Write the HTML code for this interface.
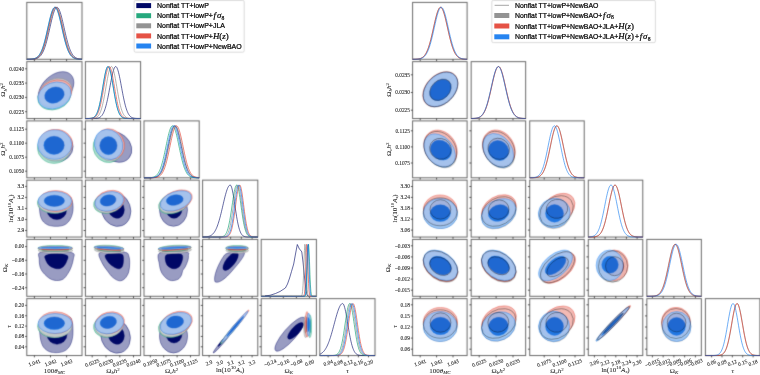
<!DOCTYPE html>
<html><head><meta charset="utf-8"><style>html,body{margin:0;padding:0;background:#fff;}svg{display:block;will-change:transform;}</style></head>
<body><svg xmlns="http://www.w3.org/2000/svg" width="760" height="375" viewBox="0 0 760 375">
<defs><clipPath id="c1"><rect x="26.80" y="2.40" width="55.20" height="56.90"/></clipPath><clipPath id="c2"><rect x="26.80" y="61.65" width="55.20" height="56.90"/></clipPath><clipPath id="c3"><rect x="85.40" y="61.65" width="55.20" height="56.90"/></clipPath><clipPath id="c4"><rect x="26.80" y="120.90" width="55.20" height="56.90"/></clipPath><clipPath id="c5"><rect x="85.40" y="120.90" width="55.20" height="56.90"/></clipPath><clipPath id="c6"><rect x="144.00" y="120.90" width="55.20" height="56.90"/></clipPath><clipPath id="c7"><rect x="26.80" y="180.15" width="55.20" height="56.90"/></clipPath><clipPath id="c8"><rect x="85.40" y="180.15" width="55.20" height="56.90"/></clipPath><clipPath id="c9"><rect x="144.00" y="180.15" width="55.20" height="56.90"/></clipPath><clipPath id="c10"><rect x="202.60" y="180.15" width="55.20" height="56.90"/></clipPath><clipPath id="c11"><rect x="26.80" y="239.40" width="55.20" height="56.90"/></clipPath><clipPath id="c12"><rect x="85.40" y="239.40" width="55.20" height="56.90"/></clipPath><clipPath id="c13"><rect x="144.00" y="239.40" width="55.20" height="56.90"/></clipPath><clipPath id="c14"><rect x="202.60" y="239.40" width="55.20" height="56.90"/></clipPath><clipPath id="c15"><rect x="261.20" y="239.40" width="55.20" height="56.90"/></clipPath><clipPath id="c16"><rect x="26.80" y="298.65" width="55.20" height="56.90"/></clipPath><clipPath id="c17"><rect x="85.40" y="298.65" width="55.20" height="56.90"/></clipPath><clipPath id="c18"><rect x="144.00" y="298.65" width="55.20" height="56.90"/></clipPath><clipPath id="c19"><rect x="202.60" y="298.65" width="55.20" height="56.90"/></clipPath><clipPath id="c20"><rect x="261.20" y="298.65" width="55.20" height="56.90"/></clipPath><clipPath id="c21"><rect x="319.80" y="298.65" width="55.20" height="56.90"/></clipPath><clipPath id="c22"><rect x="412.60" y="2.40" width="54.50" height="56.90"/></clipPath><clipPath id="c23"><rect x="412.60" y="61.65" width="54.50" height="56.90"/></clipPath><clipPath id="c24"><rect x="471.16" y="61.65" width="54.50" height="56.90"/></clipPath><clipPath id="c25"><rect x="412.60" y="120.90" width="54.50" height="56.90"/></clipPath><clipPath id="c26"><rect x="471.16" y="120.90" width="54.50" height="56.90"/></clipPath><clipPath id="c27"><rect x="529.72" y="120.90" width="54.50" height="56.90"/></clipPath><clipPath id="c28"><rect x="412.60" y="180.15" width="54.50" height="56.90"/></clipPath><clipPath id="c29"><rect x="471.16" y="180.15" width="54.50" height="56.90"/></clipPath><clipPath id="c30"><rect x="529.72" y="180.15" width="54.50" height="56.90"/></clipPath><clipPath id="c31"><rect x="588.28" y="180.15" width="54.50" height="56.90"/></clipPath><clipPath id="c32"><rect x="412.60" y="239.40" width="54.50" height="56.90"/></clipPath><clipPath id="c33"><rect x="471.16" y="239.40" width="54.50" height="56.90"/></clipPath><clipPath id="c34"><rect x="529.72" y="239.40" width="54.50" height="56.90"/></clipPath><clipPath id="c35"><rect x="588.28" y="239.40" width="54.50" height="56.90"/></clipPath><clipPath id="c36"><rect x="646.84" y="239.40" width="54.50" height="56.90"/></clipPath><clipPath id="c37"><rect x="412.60" y="298.65" width="54.50" height="56.90"/></clipPath><clipPath id="c38"><rect x="471.16" y="298.65" width="54.50" height="56.90"/></clipPath><clipPath id="c39"><rect x="529.72" y="298.65" width="54.50" height="56.90"/></clipPath><clipPath id="c40"><rect x="588.28" y="298.65" width="54.50" height="56.90"/></clipPath><clipPath id="c41"><rect x="646.84" y="298.65" width="54.50" height="56.90"/></clipPath><clipPath id="c42"><rect x="705.40" y="298.65" width="54.50" height="56.90"/></clipPath><filter id="soft" filterUnits="userSpaceOnUse" x="0" y="0" width="760" height="375" color-interpolation-filters="sRGB"><feConvolveMatrix order="3" kernelMatrix="0.02 0.09 0.02 0.09 0.56 0.09 0.02 0.09 0.02" divisor="1" edgeMode="duplicate"/></filter></defs>
<g filter="url(#soft)">
<rect width="760" height="375" fill="#fff"/>
<g clip-path="url(#c1)"></g><rect x="26.80" y="2.40" width="55.20" height="56.90" fill="none" stroke="#6a6a6a" stroke-width="1.0"/><line x1="34.40" y1="59.30" x2="34.40" y2="61.10" stroke="#222" stroke-width="0.75"/><line x1="50.50" y1="59.30" x2="50.50" y2="61.10" stroke="#222" stroke-width="0.75"/><line x1="66.60" y1="59.30" x2="66.60" y2="61.10" stroke="#222" stroke-width="0.75"/><g clip-path="url(#c2)"><g opacity="1.0"><ellipse cx="56.00" cy="89.50" rx="21.00" ry="14.00" transform="rotate(-45 56.00 89.50)" fill="#999cc2" stroke="#000866" stroke-width="0.4"/><ellipse cx="56.00" cy="92.00" rx="10.00" ry="6.00" transform="rotate(-45 56.00 92.00)" fill="#000866" stroke="#000866" stroke-width="0.4"/></g><g opacity="0.85"><ellipse cx="54.30" cy="96.30" rx="17.00" ry="13.20" transform="rotate(-20 54.30 96.30)" fill="#99d6c2" stroke="#009966" stroke-width="0.4"/><ellipse cx="54.20" cy="95.80" rx="10.00" ry="7.80" transform="rotate(-20 54.20 95.80)" fill="#009966" stroke="#009966" stroke-width="0.4"/></g><g opacity="0.85"><ellipse cx="55.60" cy="92.20" rx="17.30" ry="13.30" transform="rotate(-24 55.60 92.20)" fill="#cccccc" stroke="#808080" stroke-width="0.4"/><ellipse cx="54.80" cy="94.50" rx="10.00" ry="7.80" transform="rotate(-20 54.80 94.50)" fill="#808080" stroke="#808080" stroke-width="0.4"/></g><g opacity="0.85"><ellipse cx="55.10" cy="93.60" rx="17.10" ry="13.10" transform="rotate(-22 55.10 93.60)" fill="#f3aea7" stroke="#e03424" stroke-width="0.4"/><ellipse cx="54.50" cy="95.00" rx="10.00" ry="7.80" transform="rotate(-20 54.50 95.00)" fill="#e03424" stroke="#e03424" stroke-width="0.4"/></g><g opacity="0.85"><ellipse cx="54.50" cy="95.50" rx="17.00" ry="13.00" transform="rotate(-20 54.50 95.50)" fill="#99c5f8" stroke="#006fed" stroke-width="0.4"/><ellipse cx="54.40" cy="95.10" rx="10.00" ry="7.80" transform="rotate(-20 54.40 95.10)" fill="#006fed" stroke="#006fed" stroke-width="0.4"/></g></g><rect x="26.80" y="61.65" width="55.20" height="56.90" fill="none" stroke="#6a6a6a" stroke-width="1.0"/><line x1="34.40" y1="118.55" x2="34.40" y2="120.35" stroke="#222" stroke-width="0.75"/><line x1="50.50" y1="118.55" x2="50.50" y2="120.35" stroke="#222" stroke-width="0.75"/><line x1="66.60" y1="118.55" x2="66.60" y2="120.35" stroke="#222" stroke-width="0.75"/><line x1="25.00" y1="68.80" x2="26.80" y2="68.80" stroke="#222" stroke-width="0.75"/><line x1="25.00" y1="83.10" x2="26.80" y2="83.10" stroke="#222" stroke-width="0.75"/><line x1="25.00" y1="97.40" x2="26.80" y2="97.40" stroke="#222" stroke-width="0.75"/><line x1="25.00" y1="111.70" x2="26.80" y2="111.70" stroke="#222" stroke-width="0.75"/><g clip-path="url(#c3)"></g><rect x="85.40" y="61.65" width="55.20" height="56.90" fill="none" stroke="#6a6a6a" stroke-width="1.0"/><line x1="92.20" y1="118.55" x2="92.20" y2="120.35" stroke="#222" stroke-width="0.75"/><line x1="106.00" y1="118.55" x2="106.00" y2="120.35" stroke="#222" stroke-width="0.75"/><line x1="119.80" y1="118.55" x2="119.80" y2="120.35" stroke="#222" stroke-width="0.75"/><line x1="133.50" y1="118.55" x2="133.50" y2="120.35" stroke="#222" stroke-width="0.75"/><g clip-path="url(#c4)"><g opacity="1.0"><ellipse cx="56.80" cy="146.50" rx="16.30" ry="15.40" fill="#999cc2" stroke="#000866" stroke-width="0.4"/><ellipse cx="56.50" cy="146.00" rx="9.50" ry="9.00" fill="#000866" stroke="#000866" stroke-width="0.4"/></g><g opacity="0.85"><ellipse cx="54.00" cy="147.80" rx="16.60" ry="15.60" fill="#99d6c2" stroke="#009966" stroke-width="0.4"/><ellipse cx="54.00" cy="146.50" rx="10.00" ry="9.00" fill="#009966" stroke="#009966" stroke-width="0.4"/></g><g opacity="0.85"><ellipse cx="55.20" cy="145.80" rx="17.00" ry="15.00" fill="#cccccc" stroke="#808080" stroke-width="0.4"/><ellipse cx="54.50" cy="145.50" rx="10.00" ry="9.00" fill="#808080" stroke="#808080" stroke-width="0.4"/></g><g opacity="0.85"><ellipse cx="55.60" cy="143.80" rx="17.00" ry="14.50" fill="#f3aea7" stroke="#e03424" stroke-width="0.4"/><ellipse cx="54.50" cy="145.00" rx="10.00" ry="9.00" fill="#e03424" stroke="#e03424" stroke-width="0.4"/></g><g opacity="0.85"><ellipse cx="54.70" cy="144.60" rx="17.10" ry="14.70" fill="#99c5f8" stroke="#006fed" stroke-width="0.4"/><ellipse cx="54.00" cy="145.30" rx="10.20" ry="9.10" fill="#006fed" stroke="#006fed" stroke-width="0.4"/></g></g><rect x="26.80" y="120.90" width="55.20" height="56.90" fill="none" stroke="#6a6a6a" stroke-width="1.0"/><line x1="34.40" y1="177.80" x2="34.40" y2="179.60" stroke="#222" stroke-width="0.75"/><line x1="50.50" y1="177.80" x2="50.50" y2="179.60" stroke="#222" stroke-width="0.75"/><line x1="66.60" y1="177.80" x2="66.60" y2="179.60" stroke="#222" stroke-width="0.75"/><line x1="25.00" y1="129.20" x2="26.80" y2="129.20" stroke="#222" stroke-width="0.75"/><line x1="25.00" y1="143.20" x2="26.80" y2="143.20" stroke="#222" stroke-width="0.75"/><line x1="25.00" y1="157.20" x2="26.80" y2="157.20" stroke="#222" stroke-width="0.75"/><line x1="25.00" y1="171.20" x2="26.80" y2="171.20" stroke="#222" stroke-width="0.75"/><g clip-path="url(#c5)"><g opacity="1.0"><ellipse cx="116.00" cy="147.00" rx="17.00" ry="14.00" transform="rotate(40 116.00 147.00)" fill="#999cc2" stroke="#000866" stroke-width="0.4"/><ellipse cx="113.00" cy="147.00" rx="9.00" ry="6.00" transform="rotate(40 113.00 147.00)" fill="#000866" stroke="#000866" stroke-width="0.4"/></g><g opacity="0.85"><ellipse cx="107.80" cy="147.30" rx="15.50" ry="14.50" transform="rotate(60 107.80 147.30)" fill="#99d6c2" stroke="#009966" stroke-width="0.4"/><ellipse cx="108.00" cy="146.50" rx="9.00" ry="8.50" fill="#009966" stroke="#009966" stroke-width="0.4"/></g><g opacity="0.85"><ellipse cx="109.50" cy="145.80" rx="15.50" ry="14.00" transform="rotate(60 109.50 145.80)" fill="#cccccc" stroke="#808080" stroke-width="0.4"/><ellipse cx="108.50" cy="146.00" rx="9.00" ry="8.50" fill="#808080" stroke="#808080" stroke-width="0.4"/></g><g opacity="0.85"><ellipse cx="110.20" cy="144.00" rx="15.80" ry="13.80" transform="rotate(60 110.20 144.00)" fill="#f3aea7" stroke="#e03424" stroke-width="0.4"/><ellipse cx="108.50" cy="145.50" rx="9.00" ry="8.50" fill="#e03424" stroke="#e03424" stroke-width="0.4"/></g><g opacity="0.85"><ellipse cx="108.60" cy="144.50" rx="15.50" ry="13.80" transform="rotate(60 108.60 144.50)" fill="#99c5f8" stroke="#006fed" stroke-width="0.4"/><ellipse cx="108.40" cy="145.60" rx="8.60" ry="9.10" fill="#006fed" stroke="#006fed" stroke-width="0.4"/></g></g><rect x="85.40" y="120.90" width="55.20" height="56.90" fill="none" stroke="#6a6a6a" stroke-width="1.0"/><line x1="92.20" y1="177.80" x2="92.20" y2="179.60" stroke="#222" stroke-width="0.75"/><line x1="106.00" y1="177.80" x2="106.00" y2="179.60" stroke="#222" stroke-width="0.75"/><line x1="119.80" y1="177.80" x2="119.80" y2="179.60" stroke="#222" stroke-width="0.75"/><line x1="133.50" y1="177.80" x2="133.50" y2="179.60" stroke="#222" stroke-width="0.75"/><line x1="83.60" y1="129.20" x2="85.40" y2="129.20" stroke="#222" stroke-width="0.75"/><line x1="83.60" y1="143.20" x2="85.40" y2="143.20" stroke="#222" stroke-width="0.75"/><line x1="83.60" y1="157.20" x2="85.40" y2="157.20" stroke="#222" stroke-width="0.75"/><line x1="83.60" y1="171.20" x2="85.40" y2="171.20" stroke="#222" stroke-width="0.75"/><g clip-path="url(#c6)"></g><rect x="144.00" y="120.90" width="55.20" height="56.90" fill="none" stroke="#6a6a6a" stroke-width="1.0"/><line x1="150.30" y1="177.80" x2="150.30" y2="179.60" stroke="#222" stroke-width="0.75"/><line x1="163.70" y1="177.80" x2="163.70" y2="179.60" stroke="#222" stroke-width="0.75"/><line x1="177.10" y1="177.80" x2="177.10" y2="179.60" stroke="#222" stroke-width="0.75"/><line x1="190.50" y1="177.80" x2="190.50" y2="179.60" stroke="#222" stroke-width="0.75"/><g clip-path="url(#c7)"><g opacity="1.0"><path d="M39.40 204.00 C38.83 206.08 39.40 207.92 39.60 210.00 C39.80 212.08 39.93 214.50 40.60 216.50 C41.27 218.50 42.10 220.48 43.60 222.00 C45.10 223.52 47.20 224.88 49.60 225.60 C52.00 226.32 55.40 226.48 58.00 226.30 C60.60 226.12 63.20 225.62 65.20 224.50 C67.20 223.38 68.80 221.42 70.00 219.60 C71.20 217.78 71.88 215.60 72.40 213.60 C72.92 211.60 73.12 209.70 73.10 207.60 C73.08 205.50 72.98 202.85 72.30 201.00 C71.62 199.15 71.72 197.58 69.00 196.50 C66.28 195.42 60.33 194.33 56.00 194.50 C51.67 194.67 45.77 195.92 43.00 197.50 C40.23 199.08 39.97 201.92 39.40 204.00 Z" fill="#999cc2" stroke="#000866" stroke-width="0.4"/><ellipse cx="56.80" cy="210.00" rx="9.80" ry="9.60" fill="#000866" stroke="#000866" stroke-width="0.4"/></g><g opacity="0.85"><ellipse cx="54.30" cy="203.00" rx="17.00" ry="10.50" fill="#99d6c2" stroke="#009966" stroke-width="0.4"/><ellipse cx="54.30" cy="201.50" rx="10.00" ry="5.60" fill="#009966" stroke="#009966" stroke-width="0.4"/></g><g opacity="0.85"><ellipse cx="55.00" cy="202.60" rx="17.00" ry="10.60" fill="#cccccc" stroke="#808080" stroke-width="0.4"/><ellipse cx="54.50" cy="201.50" rx="10.00" ry="5.60" fill="#808080" stroke="#808080" stroke-width="0.4"/></g><g opacity="0.85"><ellipse cx="55.60" cy="201.00" rx="16.80" ry="10.50" fill="#f3aea7" stroke="#e03424" stroke-width="0.4"/><ellipse cx="54.50" cy="200.80" rx="10.00" ry="5.60" fill="#e03424" stroke="#e03424" stroke-width="0.4"/></g><g opacity="0.85"><ellipse cx="54.80" cy="201.00" rx="16.80" ry="9.60" fill="#99c5f8" stroke="#006fed" stroke-width="0.4"/><ellipse cx="54.30" cy="200.80" rx="10.20" ry="5.60" fill="#006fed" stroke="#006fed" stroke-width="0.4"/></g></g><rect x="26.80" y="180.15" width="55.20" height="56.90" fill="none" stroke="#6a6a6a" stroke-width="1.0"/><line x1="34.40" y1="237.05" x2="34.40" y2="238.85" stroke="#222" stroke-width="0.75"/><line x1="50.50" y1="237.05" x2="50.50" y2="238.85" stroke="#222" stroke-width="0.75"/><line x1="66.60" y1="237.05" x2="66.60" y2="238.85" stroke="#222" stroke-width="0.75"/><line x1="25.00" y1="186.40" x2="26.80" y2="186.40" stroke="#222" stroke-width="0.75"/><line x1="25.00" y1="197.40" x2="26.80" y2="197.40" stroke="#222" stroke-width="0.75"/><line x1="25.00" y1="208.50" x2="26.80" y2="208.50" stroke="#222" stroke-width="0.75"/><line x1="25.00" y1="219.50" x2="26.80" y2="219.50" stroke="#222" stroke-width="0.75"/><line x1="25.00" y1="230.50" x2="26.80" y2="230.50" stroke="#222" stroke-width="0.75"/><g clip-path="url(#c8)"><g opacity="1.0"><ellipse cx="116.00" cy="209.50" rx="14.50" ry="17.20" transform="rotate(-20 116.00 209.50)" fill="#999cc2" stroke="#000866" stroke-width="0.4"/><ellipse cx="116.00" cy="208.50" rx="8.00" ry="10.00" transform="rotate(-20 116.00 208.50)" fill="#000866" stroke="#000866" stroke-width="0.4"/></g><g opacity="0.85"><ellipse cx="108.00" cy="203.00" rx="14.60" ry="10.20" transform="rotate(-13 108.00 203.00)" fill="#99d6c2" stroke="#009966" stroke-width="0.4"/><ellipse cx="108.00" cy="201.50" rx="8.00" ry="5.50" transform="rotate(-13 108.00 201.50)" fill="#009966" stroke="#009966" stroke-width="0.4"/></g><g opacity="0.85"><ellipse cx="109.20" cy="202.80" rx="14.60" ry="10.00" transform="rotate(-13 109.20 202.80)" fill="#cccccc" stroke="#808080" stroke-width="0.4"/><ellipse cx="108.00" cy="201.00" rx="8.00" ry="5.50" transform="rotate(-13 108.00 201.00)" fill="#808080" stroke="#808080" stroke-width="0.4"/></g><g opacity="0.85"><ellipse cx="109.80" cy="200.80" rx="14.80" ry="10.20" transform="rotate(-13 109.80 200.80)" fill="#f3aea7" stroke="#e03424" stroke-width="0.4"/><ellipse cx="108.50" cy="200.50" rx="8.00" ry="5.50" transform="rotate(-13 108.50 200.50)" fill="#e03424" stroke="#e03424" stroke-width="0.4"/></g><g opacity="0.85"><ellipse cx="109.20" cy="201.40" rx="14.50" ry="9.50" transform="rotate(-13 109.20 201.40)" fill="#99c5f8" stroke="#006fed" stroke-width="0.4"/><ellipse cx="108.00" cy="200.40" rx="8.00" ry="5.50" transform="rotate(-13 108.00 200.40)" fill="#006fed" stroke="#006fed" stroke-width="0.4"/></g></g><rect x="85.40" y="180.15" width="55.20" height="56.90" fill="none" stroke="#6a6a6a" stroke-width="1.0"/><line x1="92.20" y1="237.05" x2="92.20" y2="238.85" stroke="#222" stroke-width="0.75"/><line x1="106.00" y1="237.05" x2="106.00" y2="238.85" stroke="#222" stroke-width="0.75"/><line x1="119.80" y1="237.05" x2="119.80" y2="238.85" stroke="#222" stroke-width="0.75"/><line x1="133.50" y1="237.05" x2="133.50" y2="238.85" stroke="#222" stroke-width="0.75"/><line x1="83.60" y1="186.40" x2="85.40" y2="186.40" stroke="#222" stroke-width="0.75"/><line x1="83.60" y1="197.40" x2="85.40" y2="197.40" stroke="#222" stroke-width="0.75"/><line x1="83.60" y1="208.50" x2="85.40" y2="208.50" stroke="#222" stroke-width="0.75"/><line x1="83.60" y1="219.50" x2="85.40" y2="219.50" stroke="#222" stroke-width="0.75"/><line x1="83.60" y1="230.50" x2="85.40" y2="230.50" stroke="#222" stroke-width="0.75"/><g clip-path="url(#c9)"><g opacity="1.0"><ellipse cx="173.50" cy="210.00" rx="14.00" ry="16.30" fill="#999cc2" stroke="#000866" stroke-width="0.4"/><ellipse cx="174.00" cy="209.00" rx="8.00" ry="9.30" fill="#000866" stroke="#000866" stroke-width="0.4"/></g><g opacity="0.85"><ellipse cx="174.00" cy="203.20" rx="16.00" ry="10.00" transform="rotate(-20 174.00 203.20)" fill="#99d6c2" stroke="#009966" stroke-width="0.4"/><ellipse cx="174.50" cy="201.00" rx="8.50" ry="5.20" transform="rotate(-10 174.50 201.00)" fill="#009966" stroke="#009966" stroke-width="0.4"/></g><g opacity="0.85"><ellipse cx="175.00" cy="202.50" rx="16.20" ry="9.80" transform="rotate(-20 175.00 202.50)" fill="#cccccc" stroke="#808080" stroke-width="0.4"/><ellipse cx="174.70" cy="200.50" rx="8.50" ry="5.20" transform="rotate(-10 174.70 200.50)" fill="#808080" stroke="#808080" stroke-width="0.4"/></g><g opacity="0.85"><ellipse cx="176.60" cy="200.50" rx="16.30" ry="9.60" transform="rotate(-20 176.60 200.50)" fill="#f3aea7" stroke="#e03424" stroke-width="0.4"/><ellipse cx="175.00" cy="200.00" rx="8.50" ry="5.20" transform="rotate(-10 175.00 200.00)" fill="#e03424" stroke="#e03424" stroke-width="0.4"/></g><g opacity="0.85"><ellipse cx="175.80" cy="200.90" rx="16.20" ry="9.10" transform="rotate(-20 175.80 200.90)" fill="#99c5f8" stroke="#006fed" stroke-width="0.4"/><ellipse cx="174.70" cy="200.00" rx="8.50" ry="5.20" transform="rotate(-10 174.70 200.00)" fill="#006fed" stroke="#006fed" stroke-width="0.4"/></g></g><rect x="144.00" y="180.15" width="55.20" height="56.90" fill="none" stroke="#6a6a6a" stroke-width="1.0"/><line x1="150.30" y1="237.05" x2="150.30" y2="238.85" stroke="#222" stroke-width="0.75"/><line x1="163.70" y1="237.05" x2="163.70" y2="238.85" stroke="#222" stroke-width="0.75"/><line x1="177.10" y1="237.05" x2="177.10" y2="238.85" stroke="#222" stroke-width="0.75"/><line x1="190.50" y1="237.05" x2="190.50" y2="238.85" stroke="#222" stroke-width="0.75"/><line x1="142.20" y1="186.40" x2="144.00" y2="186.40" stroke="#222" stroke-width="0.75"/><line x1="142.20" y1="197.40" x2="144.00" y2="197.40" stroke="#222" stroke-width="0.75"/><line x1="142.20" y1="208.50" x2="144.00" y2="208.50" stroke="#222" stroke-width="0.75"/><line x1="142.20" y1="219.50" x2="144.00" y2="219.50" stroke="#222" stroke-width="0.75"/><line x1="142.20" y1="230.50" x2="144.00" y2="230.50" stroke="#222" stroke-width="0.75"/><g clip-path="url(#c10)"></g><rect x="202.60" y="180.15" width="55.20" height="56.90" fill="none" stroke="#6a6a6a" stroke-width="1.0"/><line x1="209.10" y1="237.05" x2="209.10" y2="238.85" stroke="#222" stroke-width="0.75"/><line x1="219.85" y1="237.05" x2="219.85" y2="238.85" stroke="#222" stroke-width="0.75"/><line x1="230.60" y1="237.05" x2="230.60" y2="238.85" stroke="#222" stroke-width="0.75"/><line x1="241.35" y1="237.05" x2="241.35" y2="238.85" stroke="#222" stroke-width="0.75"/><line x1="252.10" y1="237.05" x2="252.10" y2="238.85" stroke="#222" stroke-width="0.75"/><g clip-path="url(#c11)"><g opacity="1.0"><path d="M40.00 252.50 C42.88 251.20 51.05 251.12 56.50 251.20 C61.95 251.28 69.88 251.75 72.70 253.00 C75.52 254.25 73.63 256.42 73.40 258.70 C73.17 260.98 72.20 264.27 71.30 266.70 C70.40 269.13 69.33 271.25 68.00 273.30 C66.67 275.35 65.18 277.80 63.30 279.00 C61.42 280.20 58.92 280.55 56.70 280.50 C54.48 280.45 52.23 280.00 50.00 278.70 C47.77 277.40 44.97 274.70 43.30 272.70 C41.63 270.70 40.68 268.98 40.00 266.70 C39.32 264.42 39.20 261.37 39.20 259.00 C39.20 256.63 37.12 253.80 40.00 252.50 Z" fill="#999cc2" stroke="#000866" stroke-width="0.4"/><path d="M45.60 255.50 C47.35 254.52 52.38 253.58 56.00 253.60 C59.62 253.62 65.52 254.32 67.30 255.60 C69.08 256.88 67.37 259.45 66.70 261.30 C66.03 263.15 64.70 265.45 63.30 266.70 C61.90 267.95 60.10 268.67 58.30 268.80 C56.50 268.93 54.13 268.17 52.50 267.50 C50.87 266.83 49.67 266.13 48.50 264.80 C47.33 263.47 45.98 261.05 45.50 259.50 C45.02 257.95 43.85 256.48 45.60 255.50 Z" fill="#000866" stroke="#000866" stroke-width="0.4"/></g><g opacity="0.85"><ellipse cx="55.50" cy="250.50" rx="17.40" ry="2.90" fill="#cccccc" stroke="#808080" stroke-width="0.4"/><ellipse cx="55.50" cy="250.90" rx="13.76" ry="0.70" fill="#808080" stroke="#808080" stroke-width="0.4"/></g><g opacity="0.85"><ellipse cx="55.20" cy="248.30" rx="17.50" ry="3.00" fill="#99d6c2" stroke="#009966" stroke-width="0.4"/><ellipse cx="55.20" cy="248.80" rx="13.76" ry="0.70" fill="#009966" stroke="#009966" stroke-width="0.4"/></g><g opacity="0.85"><ellipse cx="55.30" cy="248.30" rx="17.20" ry="2.00" fill="#f3aea7" stroke="#e03424" stroke-width="0.4"/><ellipse cx="55.30" cy="249.40" rx="13.76" ry="0.50" fill="#e03424" stroke="#e03424" stroke-width="0.4"/></g><g opacity="0.85"><ellipse cx="55.10" cy="247.90" rx="17.00" ry="1.30" fill="#99c5f8" stroke="#006fed" stroke-width="0.4"/><ellipse cx="55.10" cy="247.80" rx="13.76" ry="0.45" fill="#006fed" stroke="#006fed" stroke-width="0.4"/></g></g><rect x="26.80" y="239.40" width="55.20" height="56.90" fill="none" stroke="#6a6a6a" stroke-width="1.0"/><line x1="34.40" y1="296.30" x2="34.40" y2="298.10" stroke="#222" stroke-width="0.75"/><line x1="50.50" y1="296.30" x2="50.50" y2="298.10" stroke="#222" stroke-width="0.75"/><line x1="66.60" y1="296.30" x2="66.60" y2="298.10" stroke="#222" stroke-width="0.75"/><line x1="25.00" y1="246.60" x2="26.80" y2="246.60" stroke="#222" stroke-width="0.75"/><line x1="25.00" y1="260.30" x2="26.80" y2="260.30" stroke="#222" stroke-width="0.75"/><line x1="25.00" y1="274.00" x2="26.80" y2="274.00" stroke="#222" stroke-width="0.75"/><line x1="25.00" y1="287.70" x2="26.80" y2="287.70" stroke="#222" stroke-width="0.75"/><g clip-path="url(#c12)"><g opacity="1.0"><path d="M99.40 253.00 C101.23 251.10 108.57 251.38 113.00 251.30 C117.43 251.22 123.37 251.72 126.00 252.50 C128.63 253.28 128.18 254.30 128.80 256.00 C129.42 257.70 129.72 260.03 129.70 262.70 C129.68 265.37 129.53 269.33 128.70 272.00 C127.87 274.67 126.27 277.23 124.70 278.70 C123.13 280.17 121.30 281.03 119.30 280.80 C117.30 280.57 114.70 278.98 112.70 277.30 C110.70 275.62 109.08 273.13 107.30 270.70 C105.52 268.27 103.32 265.65 102.00 262.70 C100.68 259.75 97.57 254.90 99.40 253.00 Z" fill="#999cc2" stroke="#000866" stroke-width="0.4"/><path d="M105.40 255.00 C106.45 253.93 110.35 253.77 113.00 253.60 C115.65 253.43 119.58 253.52 121.30 254.00 C123.02 254.48 122.97 255.05 123.30 256.50 C123.63 257.95 123.55 260.90 123.30 262.70 C123.05 264.50 122.68 266.28 121.80 267.30 C120.92 268.32 119.75 269.13 118.00 268.80 C116.25 268.47 113.18 266.77 111.30 265.30 C109.42 263.83 107.68 261.72 106.70 260.00 C105.72 258.28 104.35 256.07 105.40 255.00 Z" fill="#000866" stroke="#000866" stroke-width="0.4"/></g><g opacity="0.85"><ellipse cx="109.30" cy="250.50" rx="15.00" ry="2.90" transform="rotate(3 109.30 250.50)" fill="#cccccc" stroke="#808080" stroke-width="0.4"/><ellipse cx="109.30" cy="250.90" rx="11.84" ry="0.70" transform="rotate(3 109.30 250.90)" fill="#808080" stroke="#808080" stroke-width="0.4"/></g><g opacity="0.85"><ellipse cx="109.00" cy="248.30" rx="15.10" ry="3.00" transform="rotate(3 109.00 248.30)" fill="#99d6c2" stroke="#009966" stroke-width="0.4"/><ellipse cx="109.00" cy="248.80" rx="11.84" ry="0.70" transform="rotate(3 109.00 248.80)" fill="#009966" stroke="#009966" stroke-width="0.4"/></g><g opacity="0.85"><ellipse cx="109.10" cy="248.30" rx="14.80" ry="2.00" transform="rotate(3 109.10 248.30)" fill="#f3aea7" stroke="#e03424" stroke-width="0.4"/><ellipse cx="109.10" cy="249.40" rx="11.84" ry="0.50" transform="rotate(3 109.10 249.40)" fill="#e03424" stroke="#e03424" stroke-width="0.4"/></g><g opacity="0.85"><ellipse cx="108.90" cy="247.90" rx="14.60" ry="1.30" transform="rotate(3 108.90 247.90)" fill="#99c5f8" stroke="#006fed" stroke-width="0.4"/><ellipse cx="108.90" cy="247.80" rx="11.84" ry="0.45" transform="rotate(3 108.90 247.80)" fill="#006fed" stroke="#006fed" stroke-width="0.4"/></g></g><rect x="85.40" y="239.40" width="55.20" height="56.90" fill="none" stroke="#6a6a6a" stroke-width="1.0"/><line x1="92.20" y1="296.30" x2="92.20" y2="298.10" stroke="#222" stroke-width="0.75"/><line x1="106.00" y1="296.30" x2="106.00" y2="298.10" stroke="#222" stroke-width="0.75"/><line x1="119.80" y1="296.30" x2="119.80" y2="298.10" stroke="#222" stroke-width="0.75"/><line x1="133.50" y1="296.30" x2="133.50" y2="298.10" stroke="#222" stroke-width="0.75"/><line x1="83.60" y1="246.60" x2="85.40" y2="246.60" stroke="#222" stroke-width="0.75"/><line x1="83.60" y1="260.30" x2="85.40" y2="260.30" stroke="#222" stroke-width="0.75"/><line x1="83.60" y1="274.00" x2="85.40" y2="274.00" stroke="#222" stroke-width="0.75"/><line x1="83.60" y1="287.70" x2="85.40" y2="287.70" stroke="#222" stroke-width="0.75"/><g clip-path="url(#c13)"><g opacity="1.0"><path d="M159.00 253.50 C161.28 251.38 168.28 251.52 173.00 251.30 C177.72 251.08 184.73 251.50 187.30 252.20 C189.87 252.90 188.28 254.20 188.40 255.50 C188.52 256.80 188.52 258.13 188.00 260.00 C187.48 261.87 186.18 264.95 185.30 266.70 C184.42 268.45 183.33 269.12 182.70 270.50 C182.07 271.88 182.28 273.53 181.50 275.00 C180.72 276.47 179.70 278.37 178.00 279.30 C176.30 280.23 173.30 280.82 171.30 280.60 C169.30 280.38 167.67 279.43 166.00 278.00 C164.33 276.57 162.42 274.33 161.30 272.00 C160.18 269.67 159.68 267.08 159.30 264.00 C158.92 260.92 156.72 255.62 159.00 253.50 Z" fill="#999cc2" stroke="#000866" stroke-width="0.4"/><path d="M165.70 255.50 C166.87 254.02 170.50 254.05 173.00 253.80 C175.50 253.55 179.08 253.55 180.70 254.00 C182.32 254.45 182.48 255.28 182.70 256.50 C182.92 257.72 182.57 259.60 182.00 261.30 C181.43 263.00 180.63 265.45 179.30 266.70 C177.97 267.95 175.77 268.80 174.00 268.80 C172.23 268.80 170.03 267.72 168.70 266.70 C167.37 265.68 166.50 264.57 166.00 262.70 C165.50 260.83 164.53 256.98 165.70 255.50 Z" fill="#000866" stroke="#000866" stroke-width="0.4"/></g><g opacity="0.85"><ellipse cx="175.00" cy="250.50" rx="16.60" ry="2.90" transform="rotate(-3 175.00 250.50)" fill="#cccccc" stroke="#808080" stroke-width="0.4"/><ellipse cx="175.00" cy="250.90" rx="13.12" ry="0.70" transform="rotate(-3 175.00 250.90)" fill="#808080" stroke="#808080" stroke-width="0.4"/></g><g opacity="0.85"><ellipse cx="174.70" cy="248.30" rx="16.70" ry="3.00" transform="rotate(-3 174.70 248.30)" fill="#99d6c2" stroke="#009966" stroke-width="0.4"/><ellipse cx="174.70" cy="248.80" rx="13.12" ry="0.70" transform="rotate(-3 174.70 248.80)" fill="#009966" stroke="#009966" stroke-width="0.4"/></g><g opacity="0.85"><ellipse cx="174.80" cy="248.30" rx="16.40" ry="2.00" transform="rotate(-3 174.80 248.30)" fill="#f3aea7" stroke="#e03424" stroke-width="0.4"/><ellipse cx="174.80" cy="249.40" rx="13.12" ry="0.50" transform="rotate(-3 174.80 249.40)" fill="#e03424" stroke="#e03424" stroke-width="0.4"/></g><g opacity="0.85"><ellipse cx="174.60" cy="247.90" rx="16.20" ry="1.30" transform="rotate(-3 174.60 247.90)" fill="#99c5f8" stroke="#006fed" stroke-width="0.4"/><ellipse cx="174.60" cy="247.80" rx="13.12" ry="0.45" transform="rotate(-3 174.60 247.80)" fill="#006fed" stroke="#006fed" stroke-width="0.4"/></g></g><rect x="144.00" y="239.40" width="55.20" height="56.90" fill="none" stroke="#6a6a6a" stroke-width="1.0"/><line x1="150.30" y1="296.30" x2="150.30" y2="298.10" stroke="#222" stroke-width="0.75"/><line x1="163.70" y1="296.30" x2="163.70" y2="298.10" stroke="#222" stroke-width="0.75"/><line x1="177.10" y1="296.30" x2="177.10" y2="298.10" stroke="#222" stroke-width="0.75"/><line x1="190.50" y1="296.30" x2="190.50" y2="298.10" stroke="#222" stroke-width="0.75"/><line x1="142.20" y1="246.60" x2="144.00" y2="246.60" stroke="#222" stroke-width="0.75"/><line x1="142.20" y1="260.30" x2="144.00" y2="260.30" stroke="#222" stroke-width="0.75"/><line x1="142.20" y1="274.00" x2="144.00" y2="274.00" stroke="#222" stroke-width="0.75"/><line x1="142.20" y1="287.70" x2="144.00" y2="287.70" stroke="#222" stroke-width="0.75"/><g clip-path="url(#c14)"><g opacity="1.0"><path d="M215 281.8 C213 277 218 264 224.5 255 C227 251.8 240 251.2 244 252.2 C246.2 254 240 262 232 271 C226 278 219 284 215 281.8 Z" fill="#999cc2" stroke="#000866" stroke-width="0.4"/><ellipse cx="230.60" cy="261.30" rx="11.00" ry="4.50" transform="rotate(-52 230.60 261.30)" fill="#000866" stroke="#000866" stroke-width="0.4"/></g><g opacity="0.85"><ellipse cx="237.30" cy="250.50" rx="11.40" ry="2.90" fill="#cccccc" stroke="#808080" stroke-width="0.4"/><ellipse cx="237.30" cy="250.90" rx="8.96" ry="0.70" fill="#808080" stroke="#808080" stroke-width="0.4"/></g><g opacity="0.85"><ellipse cx="237.00" cy="248.30" rx="11.50" ry="3.00" fill="#99d6c2" stroke="#009966" stroke-width="0.4"/><ellipse cx="237.00" cy="248.80" rx="8.96" ry="0.70" fill="#009966" stroke="#009966" stroke-width="0.4"/></g><g opacity="0.85"><ellipse cx="237.10" cy="248.30" rx="11.20" ry="2.00" fill="#f3aea7" stroke="#e03424" stroke-width="0.4"/><ellipse cx="237.10" cy="249.40" rx="8.96" ry="0.50" fill="#e03424" stroke="#e03424" stroke-width="0.4"/></g><g opacity="0.85"><ellipse cx="236.90" cy="247.90" rx="11.00" ry="1.30" fill="#99c5f8" stroke="#006fed" stroke-width="0.4"/><ellipse cx="236.90" cy="247.80" rx="8.96" ry="0.45" fill="#006fed" stroke="#006fed" stroke-width="0.4"/></g></g><rect x="202.60" y="239.40" width="55.20" height="56.90" fill="none" stroke="#6a6a6a" stroke-width="1.0"/><line x1="209.10" y1="296.30" x2="209.10" y2="298.10" stroke="#222" stroke-width="0.75"/><line x1="219.85" y1="296.30" x2="219.85" y2="298.10" stroke="#222" stroke-width="0.75"/><line x1="230.60" y1="296.30" x2="230.60" y2="298.10" stroke="#222" stroke-width="0.75"/><line x1="241.35" y1="296.30" x2="241.35" y2="298.10" stroke="#222" stroke-width="0.75"/><line x1="252.10" y1="296.30" x2="252.10" y2="298.10" stroke="#222" stroke-width="0.75"/><line x1="200.80" y1="246.60" x2="202.60" y2="246.60" stroke="#222" stroke-width="0.75"/><line x1="200.80" y1="260.30" x2="202.60" y2="260.30" stroke="#222" stroke-width="0.75"/><line x1="200.80" y1="274.00" x2="202.60" y2="274.00" stroke="#222" stroke-width="0.75"/><line x1="200.80" y1="287.70" x2="202.60" y2="287.70" stroke="#222" stroke-width="0.75"/><g clip-path="url(#c15)"></g><rect x="261.20" y="239.40" width="55.20" height="56.90" fill="none" stroke="#6a6a6a" stroke-width="1.0"/><line x1="270.20" y1="296.30" x2="270.20" y2="298.10" stroke="#222" stroke-width="0.75"/><line x1="283.30" y1="296.30" x2="283.30" y2="298.10" stroke="#222" stroke-width="0.75"/><line x1="296.40" y1="296.30" x2="296.40" y2="298.10" stroke="#222" stroke-width="0.75"/><line x1="309.50" y1="296.30" x2="309.50" y2="298.10" stroke="#222" stroke-width="0.75"/><g clip-path="url(#c16)"><g opacity="1.0"><path d="M39.50 324.00 C38.95 326.50 39.48 329.25 39.70 332.00 C39.92 334.75 40.12 337.92 40.80 340.50 C41.48 343.08 42.30 345.62 43.80 347.50 C45.30 349.38 47.43 350.95 49.80 351.80 C52.17 352.65 55.43 352.80 58.00 352.60 C60.57 352.40 63.20 351.78 65.20 350.60 C67.20 349.42 68.80 347.52 70.00 345.50 C71.20 343.48 71.90 340.92 72.40 338.50 C72.90 336.08 73.02 333.75 73.00 331.00 C72.98 328.25 72.97 324.42 72.30 322.00 C71.63 319.58 71.72 317.83 69.00 316.50 C66.28 315.17 60.33 313.92 56.00 314.00 C51.67 314.08 45.75 315.33 43.00 317.00 C40.25 318.67 40.05 321.50 39.50 324.00 Z" fill="#999cc2" stroke="#000866" stroke-width="0.4"/><ellipse cx="57.00" cy="334.30" rx="10.00" ry="10.00" fill="#000866" stroke="#000866" stroke-width="0.4"/></g><g opacity="0.85"><ellipse cx="54.50" cy="326.30" rx="17.00" ry="11.60" fill="#99d6c2" stroke="#009966" stroke-width="0.4"/><ellipse cx="54.30" cy="323.50" rx="10.00" ry="6.20" fill="#009966" stroke="#009966" stroke-width="0.4"/></g><g opacity="0.85"><ellipse cx="55.20" cy="325.80" rx="17.00" ry="11.60" fill="#cccccc" stroke="#808080" stroke-width="0.4"/><ellipse cx="54.50" cy="323.00" rx="10.00" ry="6.20" fill="#808080" stroke="#808080" stroke-width="0.4"/></g><g opacity="0.85"><ellipse cx="55.60" cy="322.60" rx="16.80" ry="10.90" fill="#f3aea7" stroke="#e03424" stroke-width="0.4"/><ellipse cx="54.50" cy="322.70" rx="10.00" ry="6.20" fill="#e03424" stroke="#e03424" stroke-width="0.4"/></g><g opacity="0.85"><ellipse cx="55.00" cy="323.50" rx="17.00" ry="10.00" fill="#99c5f8" stroke="#006fed" stroke-width="0.4"/><ellipse cx="54.30" cy="323.30" rx="10.30" ry="6.30" fill="#006fed" stroke="#006fed" stroke-width="0.4"/></g></g><rect x="26.80" y="298.65" width="55.20" height="56.90" fill="none" stroke="#6a6a6a" stroke-width="1.0"/><line x1="34.40" y1="355.55" x2="34.40" y2="357.35" stroke="#222" stroke-width="0.75"/><line x1="50.50" y1="355.55" x2="50.50" y2="357.35" stroke="#222" stroke-width="0.75"/><line x1="66.60" y1="355.55" x2="66.60" y2="357.35" stroke="#222" stroke-width="0.75"/><line x1="25.00" y1="305.40" x2="26.80" y2="305.40" stroke="#222" stroke-width="0.75"/><line x1="25.00" y1="315.75" x2="26.80" y2="315.75" stroke="#222" stroke-width="0.75"/><line x1="25.00" y1="326.10" x2="26.80" y2="326.10" stroke="#222" stroke-width="0.75"/><line x1="25.00" y1="336.45" x2="26.80" y2="336.45" stroke="#222" stroke-width="0.75"/><line x1="25.00" y1="346.80" x2="26.80" y2="346.80" stroke="#222" stroke-width="0.75"/><g clip-path="url(#c17)"><g opacity="1.0"><ellipse cx="115.50" cy="336.00" rx="14.50" ry="17.50" transform="rotate(-20 115.50 336.00)" fill="#999cc2" stroke="#000866" stroke-width="0.4"/><ellipse cx="116.00" cy="334.50" rx="8.00" ry="10.00" transform="rotate(-20 116.00 334.50)" fill="#000866" stroke="#000866" stroke-width="0.4"/></g><g opacity="0.85"><ellipse cx="108.00" cy="325.80" rx="14.60" ry="11.40" transform="rotate(-13 108.00 325.80)" fill="#99d6c2" stroke="#009966" stroke-width="0.4"/><ellipse cx="108.00" cy="323.50" rx="8.00" ry="6.00" transform="rotate(-13 108.00 323.50)" fill="#009966" stroke="#009966" stroke-width="0.4"/></g><g opacity="0.85"><ellipse cx="109.20" cy="325.30" rx="14.60" ry="11.40" transform="rotate(-13 109.20 325.30)" fill="#cccccc" stroke="#808080" stroke-width="0.4"/><ellipse cx="108.00" cy="323.00" rx="8.00" ry="6.00" transform="rotate(-13 108.00 323.00)" fill="#808080" stroke="#808080" stroke-width="0.4"/></g><g opacity="0.85"><ellipse cx="109.80" cy="322.80" rx="14.80" ry="10.80" transform="rotate(-13 109.80 322.80)" fill="#f3aea7" stroke="#e03424" stroke-width="0.4"/><ellipse cx="108.50" cy="322.50" rx="8.00" ry="6.00" transform="rotate(-13 108.50 322.50)" fill="#e03424" stroke="#e03424" stroke-width="0.4"/></g><g opacity="0.85"><ellipse cx="109.30" cy="323.40" rx="14.50" ry="10.10" transform="rotate(-13 109.30 323.40)" fill="#99c5f8" stroke="#006fed" stroke-width="0.4"/><ellipse cx="108.30" cy="322.30" rx="8.30" ry="6.00" transform="rotate(-13 108.30 322.30)" fill="#006fed" stroke="#006fed" stroke-width="0.4"/></g></g><rect x="85.40" y="298.65" width="55.20" height="56.90" fill="none" stroke="#6a6a6a" stroke-width="1.0"/><line x1="92.20" y1="355.55" x2="92.20" y2="357.35" stroke="#222" stroke-width="0.75"/><line x1="106.00" y1="355.55" x2="106.00" y2="357.35" stroke="#222" stroke-width="0.75"/><line x1="119.80" y1="355.55" x2="119.80" y2="357.35" stroke="#222" stroke-width="0.75"/><line x1="133.50" y1="355.55" x2="133.50" y2="357.35" stroke="#222" stroke-width="0.75"/><line x1="83.60" y1="305.40" x2="85.40" y2="305.40" stroke="#222" stroke-width="0.75"/><line x1="83.60" y1="315.75" x2="85.40" y2="315.75" stroke="#222" stroke-width="0.75"/><line x1="83.60" y1="326.10" x2="85.40" y2="326.10" stroke="#222" stroke-width="0.75"/><line x1="83.60" y1="336.45" x2="85.40" y2="336.45" stroke="#222" stroke-width="0.75"/><line x1="83.60" y1="346.80" x2="85.40" y2="346.80" stroke="#222" stroke-width="0.75"/><g clip-path="url(#c18)"><g opacity="1.0"><ellipse cx="173.50" cy="336.00" rx="14.00" ry="17.00" fill="#999cc2" stroke="#000866" stroke-width="0.4"/><ellipse cx="174.00" cy="334.00" rx="8.00" ry="9.00" fill="#000866" stroke="#000866" stroke-width="0.4"/></g><g opacity="0.85"><ellipse cx="174.00" cy="325.80" rx="16.00" ry="11.20" transform="rotate(-20 174.00 325.80)" fill="#99d6c2" stroke="#009966" stroke-width="0.4"/><ellipse cx="175.00" cy="323.00" rx="8.60" ry="6.00" transform="rotate(-10 175.00 323.00)" fill="#009966" stroke="#009966" stroke-width="0.4"/></g><g opacity="0.85"><ellipse cx="175.00" cy="325.20" rx="16.20" ry="11.00" transform="rotate(-20 175.00 325.20)" fill="#cccccc" stroke="#808080" stroke-width="0.4"/><ellipse cx="175.00" cy="322.50" rx="8.60" ry="6.00" transform="rotate(-10 175.00 322.50)" fill="#808080" stroke="#808080" stroke-width="0.4"/></g><g opacity="0.85"><ellipse cx="176.60" cy="322.80" rx="16.30" ry="10.80" transform="rotate(-20 176.60 322.80)" fill="#f3aea7" stroke="#e03424" stroke-width="0.4"/><ellipse cx="175.30" cy="322.00" rx="8.60" ry="6.00" transform="rotate(-10 175.30 322.00)" fill="#e03424" stroke="#e03424" stroke-width="0.4"/></g><g opacity="0.85"><ellipse cx="175.80" cy="323.40" rx="16.20" ry="10.10" transform="rotate(-20 175.80 323.40)" fill="#99c5f8" stroke="#006fed" stroke-width="0.4"/><ellipse cx="175.00" cy="322.00" rx="8.60" ry="6.00" transform="rotate(-10 175.00 322.00)" fill="#006fed" stroke="#006fed" stroke-width="0.4"/></g></g><rect x="144.00" y="298.65" width="55.20" height="56.90" fill="none" stroke="#6a6a6a" stroke-width="1.0"/><line x1="150.30" y1="355.55" x2="150.30" y2="357.35" stroke="#222" stroke-width="0.75"/><line x1="163.70" y1="355.55" x2="163.70" y2="357.35" stroke="#222" stroke-width="0.75"/><line x1="177.10" y1="355.55" x2="177.10" y2="357.35" stroke="#222" stroke-width="0.75"/><line x1="190.50" y1="355.55" x2="190.50" y2="357.35" stroke="#222" stroke-width="0.75"/><line x1="142.20" y1="305.40" x2="144.00" y2="305.40" stroke="#222" stroke-width="0.75"/><line x1="142.20" y1="315.75" x2="144.00" y2="315.75" stroke="#222" stroke-width="0.75"/><line x1="142.20" y1="326.10" x2="144.00" y2="326.10" stroke="#222" stroke-width="0.75"/><line x1="142.20" y1="336.45" x2="144.00" y2="336.45" stroke="#222" stroke-width="0.75"/><line x1="142.20" y1="346.80" x2="144.00" y2="346.80" stroke="#222" stroke-width="0.75"/><g clip-path="url(#c19)"><g opacity="1.0"><ellipse cx="222.80" cy="341.60" rx="14.80" ry="1.45" transform="rotate(-50 222.80 341.60)" fill="#999cc2" stroke="#000866" stroke-width="0.4"/><ellipse cx="222.60" cy="341.00" rx="7.00" ry="0.85" transform="rotate(-50 222.60 341.00)" fill="#000866" stroke="#000866" stroke-width="0.4"/></g><g opacity="0.85"><ellipse cx="232.00" cy="330.20" rx="18.00" ry="1.60" transform="rotate(-50 232.00 330.20)" fill="#99d6c2" stroke="#009966" stroke-width="0.4"/><ellipse cx="232.00" cy="330.20" rx="11.00" ry="0.90" transform="rotate(-50 232.00 330.20)" fill="#009966" stroke="#009966" stroke-width="0.4"/></g><g opacity="0.85"><ellipse cx="233.00" cy="329.00" rx="18.00" ry="1.60" transform="rotate(-50 233.00 329.00)" fill="#cccccc" stroke="#808080" stroke-width="0.4"/><ellipse cx="233.00" cy="329.00" rx="11.00" ry="0.90" transform="rotate(-50 233.00 329.00)" fill="#808080" stroke="#808080" stroke-width="0.4"/></g><g opacity="0.85"><ellipse cx="236.00" cy="325.40" rx="20.00" ry="1.50" transform="rotate(-50 236.00 325.40)" fill="#f3aea7" stroke="#e03424" stroke-width="0.4"/><ellipse cx="236.00" cy="325.40" rx="12.00" ry="0.85" transform="rotate(-50 236.00 325.40)" fill="#e03424" stroke="#e03424" stroke-width="0.4"/></g><g opacity="0.85"><ellipse cx="235.00" cy="326.60" rx="20.00" ry="1.60" transform="rotate(-50 235.00 326.60)" fill="#99c5f8" stroke="#006fed" stroke-width="0.4"/><ellipse cx="235.20" cy="326.40" rx="13.00" ry="0.90" transform="rotate(-50 235.20 326.40)" fill="#006fed" stroke="#006fed" stroke-width="0.4"/></g></g><rect x="202.60" y="298.65" width="55.20" height="56.90" fill="none" stroke="#6a6a6a" stroke-width="1.0"/><line x1="209.10" y1="355.55" x2="209.10" y2="357.35" stroke="#222" stroke-width="0.75"/><line x1="219.85" y1="355.55" x2="219.85" y2="357.35" stroke="#222" stroke-width="0.75"/><line x1="230.60" y1="355.55" x2="230.60" y2="357.35" stroke="#222" stroke-width="0.75"/><line x1="241.35" y1="355.55" x2="241.35" y2="357.35" stroke="#222" stroke-width="0.75"/><line x1="252.10" y1="355.55" x2="252.10" y2="357.35" stroke="#222" stroke-width="0.75"/><line x1="200.80" y1="305.40" x2="202.60" y2="305.40" stroke="#222" stroke-width="0.75"/><line x1="200.80" y1="315.75" x2="202.60" y2="315.75" stroke="#222" stroke-width="0.75"/><line x1="200.80" y1="326.10" x2="202.60" y2="326.10" stroke="#222" stroke-width="0.75"/><line x1="200.80" y1="336.45" x2="202.60" y2="336.45" stroke="#222" stroke-width="0.75"/><line x1="200.80" y1="346.80" x2="202.60" y2="346.80" stroke="#222" stroke-width="0.75"/><g clip-path="url(#c20)"><g opacity="1.0"><ellipse cx="290.00" cy="334.20" rx="21.80" ry="6.20" transform="rotate(-49 290.00 334.20)" fill="#999cc2" stroke="#000866" stroke-width="0.4"/><ellipse cx="295.50" cy="330.80" rx="10.80" ry="3.90" transform="rotate(-47 295.50 330.80)" fill="#000866" stroke="#000866" stroke-width="0.4"/></g><g opacity="0.85"><ellipse cx="305.60" cy="326.80" rx="2.00" ry="11.00" fill="#cccccc" stroke="#808080" stroke-width="0.4"/><ellipse cx="305.60" cy="326.80" rx="1.10" ry="6.50" fill="#808080" stroke="#808080" stroke-width="0.4"/></g><g opacity="0.85"><ellipse cx="309.80" cy="326.20" rx="2.00" ry="11.50" fill="#99d6c2" stroke="#009966" stroke-width="0.4"/><ellipse cx="309.80" cy="326.20" rx="1.00" ry="7.00" fill="#009966" stroke="#009966" stroke-width="0.4"/></g><g opacity="0.85"><ellipse cx="307.00" cy="324.40" rx="1.90" ry="12.80" fill="#f3aea7" stroke="#e03424" stroke-width="0.4"/><ellipse cx="307.00" cy="324.40" rx="1.00" ry="7.50" fill="#e03424" stroke="#e03424" stroke-width="0.4"/></g><g opacity="0.85"><ellipse cx="308.60" cy="324.60" rx="1.70" ry="11.50" fill="#99c5f8" stroke="#006fed" stroke-width="0.4"/><ellipse cx="308.60" cy="324.60" rx="0.90" ry="7.00" fill="#006fed" stroke="#006fed" stroke-width="0.4"/></g></g><rect x="261.20" y="298.65" width="55.20" height="56.90" fill="none" stroke="#6a6a6a" stroke-width="1.0"/><line x1="270.20" y1="355.55" x2="270.20" y2="357.35" stroke="#222" stroke-width="0.75"/><line x1="283.30" y1="355.55" x2="283.30" y2="357.35" stroke="#222" stroke-width="0.75"/><line x1="296.40" y1="355.55" x2="296.40" y2="357.35" stroke="#222" stroke-width="0.75"/><line x1="309.50" y1="355.55" x2="309.50" y2="357.35" stroke="#222" stroke-width="0.75"/><line x1="259.40" y1="305.40" x2="261.20" y2="305.40" stroke="#222" stroke-width="0.75"/><line x1="259.40" y1="315.75" x2="261.20" y2="315.75" stroke="#222" stroke-width="0.75"/><line x1="259.40" y1="326.10" x2="261.20" y2="326.10" stroke="#222" stroke-width="0.75"/><line x1="259.40" y1="336.45" x2="261.20" y2="336.45" stroke="#222" stroke-width="0.75"/><line x1="259.40" y1="346.80" x2="261.20" y2="346.80" stroke="#222" stroke-width="0.75"/><g clip-path="url(#c21)"></g><rect x="319.80" y="298.65" width="55.20" height="56.90" fill="none" stroke="#6a6a6a" stroke-width="1.0"/><line x1="328.20" y1="355.55" x2="328.20" y2="357.35" stroke="#222" stroke-width="0.75"/><line x1="338.27" y1="355.55" x2="338.27" y2="357.35" stroke="#222" stroke-width="0.75"/><line x1="348.35" y1="355.55" x2="348.35" y2="357.35" stroke="#222" stroke-width="0.75"/><line x1="358.42" y1="355.55" x2="358.42" y2="357.35" stroke="#222" stroke-width="0.75"/><line x1="368.50" y1="355.55" x2="368.50" y2="357.35" stroke="#222" stroke-width="0.75"/><g clip-path="url(#c22)"></g><rect x="412.60" y="2.40" width="54.50" height="56.90" fill="none" stroke="#6a6a6a" stroke-width="1.0"/><line x1="420.20" y1="59.30" x2="420.20" y2="61.10" stroke="#222" stroke-width="0.75"/><line x1="436.60" y1="59.30" x2="436.60" y2="61.10" stroke="#222" stroke-width="0.75"/><line x1="453.00" y1="59.30" x2="453.00" y2="61.10" stroke="#222" stroke-width="0.75"/><g clip-path="url(#c23)"><g opacity="0.85"><ellipse cx="440.60" cy="89.80" rx="20.00" ry="14.00" transform="rotate(-45 440.60 89.80)" fill="#cccccc" stroke="#808080" stroke-width="0.4"/><ellipse cx="440.50" cy="90.20" rx="12.00" ry="9.00" transform="rotate(-45 440.50 90.20)" fill="#808080" stroke="#808080" stroke-width="0.4"/></g><g opacity="0.85"><ellipse cx="440.30" cy="89.20" rx="20.30" ry="14.20" transform="rotate(-45 440.30 89.20)" fill="#f3aea7" stroke="#e03424" stroke-width="0.4"/><ellipse cx="440.40" cy="89.80" rx="12.00" ry="9.00" transform="rotate(-45 440.40 89.80)" fill="#e03424" stroke="#e03424" stroke-width="0.4"/></g><g opacity="0.85"><ellipse cx="440.50" cy="89.40" rx="20.00" ry="14.00" transform="rotate(-45 440.50 89.40)" fill="#99c5f8" stroke="#006fed" stroke-width="0.4"/><ellipse cx="440.40" cy="90.00" rx="12.00" ry="9.00" transform="rotate(-45 440.40 90.00)" fill="#006fed" stroke="#006fed" stroke-width="0.4"/></g><g opacity="0.68"><ellipse cx="440.50" cy="89.30" rx="20.10" ry="14.10" transform="rotate(-45 440.50 89.30)" fill="none" stroke="#000" stroke-width="0.5"/><ellipse cx="440.40" cy="89.80" rx="12.10" ry="9.10" transform="rotate(-45 440.40 89.80)" fill="none" stroke="#000" stroke-width="0.5"/></g></g><rect x="412.60" y="61.65" width="54.50" height="56.90" fill="none" stroke="#6a6a6a" stroke-width="1.0"/><line x1="420.20" y1="118.55" x2="420.20" y2="120.35" stroke="#222" stroke-width="0.75"/><line x1="436.60" y1="118.55" x2="436.60" y2="120.35" stroke="#222" stroke-width="0.75"/><line x1="453.00" y1="118.55" x2="453.00" y2="120.35" stroke="#222" stroke-width="0.75"/><line x1="410.80" y1="74.80" x2="412.60" y2="74.80" stroke="#222" stroke-width="0.75"/><line x1="410.80" y1="92.50" x2="412.60" y2="92.50" stroke="#222" stroke-width="0.75"/><line x1="410.80" y1="110.20" x2="412.60" y2="110.20" stroke="#222" stroke-width="0.75"/><g clip-path="url(#c24)"></g><rect x="471.16" y="61.65" width="54.50" height="56.90" fill="none" stroke="#6a6a6a" stroke-width="1.0"/><line x1="479.20" y1="118.55" x2="479.20" y2="120.35" stroke="#222" stroke-width="0.75"/><line x1="496.10" y1="118.55" x2="496.10" y2="120.35" stroke="#222" stroke-width="0.75"/><line x1="513.00" y1="118.55" x2="513.00" y2="120.35" stroke="#222" stroke-width="0.75"/><g clip-path="url(#c25)"><g opacity="0.85"><ellipse cx="440.50" cy="151.00" rx="18.50" ry="13.80" transform="rotate(50 440.50 151.00)" fill="#cccccc" stroke="#808080" stroke-width="0.4"/><ellipse cx="440.80" cy="150.40" rx="11.00" ry="9.40" transform="rotate(35 440.80 150.40)" fill="#808080" stroke="#808080" stroke-width="0.4"/></g><g opacity="0.85"><ellipse cx="440.50" cy="148.00" rx="19.00" ry="15.50" transform="rotate(55 440.50 148.00)" fill="#f3aea7" stroke="#e03424" stroke-width="0.4"/><ellipse cx="440.50" cy="148.80" rx="10.80" ry="10.00" transform="rotate(30 440.50 148.80)" fill="#e03424" stroke="#e03424" stroke-width="0.4"/></g><g opacity="0.85"><ellipse cx="439.60" cy="150.50" rx="18.50" ry="13.50" transform="rotate(50 439.60 150.50)" fill="#99c5f8" stroke="#006fed" stroke-width="0.4"/><ellipse cx="441.00" cy="150.20" rx="11.00" ry="9.30" transform="rotate(35 441.00 150.20)" fill="#006fed" stroke="#006fed" stroke-width="0.4"/></g><g opacity="0.68"><ellipse cx="440.30" cy="149.20" rx="19.00" ry="15.00" transform="rotate(55 440.30 149.20)" fill="none" stroke="#000" stroke-width="0.5"/><ellipse cx="440.50" cy="148.80" rx="11.00" ry="10.30" transform="rotate(30 440.50 148.80)" fill="none" stroke="#000" stroke-width="0.5"/></g></g><rect x="412.60" y="120.90" width="54.50" height="56.90" fill="none" stroke="#6a6a6a" stroke-width="1.0"/><line x1="420.20" y1="177.80" x2="420.20" y2="179.60" stroke="#222" stroke-width="0.75"/><line x1="436.60" y1="177.80" x2="436.60" y2="179.60" stroke="#222" stroke-width="0.75"/><line x1="453.00" y1="177.80" x2="453.00" y2="179.60" stroke="#222" stroke-width="0.75"/><line x1="410.80" y1="130.80" x2="412.60" y2="130.80" stroke="#222" stroke-width="0.75"/><line x1="410.80" y1="146.90" x2="412.60" y2="146.90" stroke="#222" stroke-width="0.75"/><line x1="410.80" y1="163.00" x2="412.60" y2="163.00" stroke="#222" stroke-width="0.75"/><g clip-path="url(#c26)"><g opacity="0.85"><ellipse cx="499.00" cy="151.20" rx="18.50" ry="13.80" transform="rotate(55 499.00 151.20)" fill="#cccccc" stroke="#808080" stroke-width="0.4"/><ellipse cx="498.80" cy="150.60" rx="10.80" ry="9.60" transform="rotate(40 498.80 150.60)" fill="#808080" stroke="#808080" stroke-width="0.4"/></g><g opacity="0.85"><ellipse cx="498.80" cy="148.00" rx="19.00" ry="15.30" transform="rotate(58 498.80 148.00)" fill="#f3aea7" stroke="#e03424" stroke-width="0.4"/><ellipse cx="498.70" cy="148.80" rx="10.80" ry="10.20" transform="rotate(40 498.70 148.80)" fill="#e03424" stroke="#e03424" stroke-width="0.4"/></g><g opacity="0.85"><ellipse cx="498.20" cy="150.50" rx="18.50" ry="13.60" transform="rotate(55 498.20 150.50)" fill="#99c5f8" stroke="#006fed" stroke-width="0.4"/><ellipse cx="498.60" cy="150.50" rx="10.50" ry="9.60" transform="rotate(40 498.60 150.50)" fill="#006fed" stroke="#006fed" stroke-width="0.4"/></g><g opacity="0.68"><ellipse cx="498.80" cy="149.20" rx="19.00" ry="14.80" transform="rotate(58 498.80 149.20)" fill="none" stroke="#000" stroke-width="0.5"/><ellipse cx="498.70" cy="148.80" rx="11.00" ry="10.30" transform="rotate(40 498.70 148.80)" fill="none" stroke="#000" stroke-width="0.5"/></g></g><rect x="471.16" y="120.90" width="54.50" height="56.90" fill="none" stroke="#6a6a6a" stroke-width="1.0"/><line x1="479.20" y1="177.80" x2="479.20" y2="179.60" stroke="#222" stroke-width="0.75"/><line x1="496.10" y1="177.80" x2="496.10" y2="179.60" stroke="#222" stroke-width="0.75"/><line x1="513.00" y1="177.80" x2="513.00" y2="179.60" stroke="#222" stroke-width="0.75"/><line x1="469.36" y1="130.80" x2="471.16" y2="130.80" stroke="#222" stroke-width="0.75"/><line x1="469.36" y1="146.90" x2="471.16" y2="146.90" stroke="#222" stroke-width="0.75"/><line x1="469.36" y1="163.00" x2="471.16" y2="163.00" stroke="#222" stroke-width="0.75"/><g clip-path="url(#c27)"></g><rect x="529.72" y="120.90" width="54.50" height="56.90" fill="none" stroke="#6a6a6a" stroke-width="1.0"/><line x1="544.20" y1="177.80" x2="544.20" y2="179.60" stroke="#222" stroke-width="0.75"/><line x1="559.60" y1="177.80" x2="559.60" y2="179.60" stroke="#222" stroke-width="0.75"/><line x1="575.00" y1="177.80" x2="575.00" y2="179.60" stroke="#222" stroke-width="0.75"/><g clip-path="url(#c28)"><g opacity="0.85"><ellipse cx="440.40" cy="213.50" rx="17.20" ry="15.00" fill="#cccccc" stroke="#808080" stroke-width="0.4"/><ellipse cx="440.30" cy="213.00" rx="10.10" ry="8.60" fill="#808080" stroke="#808080" stroke-width="0.4"/></g><g opacity="0.85"><ellipse cx="440.20" cy="210.00" rx="17.00" ry="15.10" fill="#f3aea7" stroke="#e03424" stroke-width="0.4"/><ellipse cx="440.40" cy="209.40" rx="10.40" ry="9.70" fill="#e03424" stroke="#e03424" stroke-width="0.4"/></g><g opacity="0.85"><ellipse cx="440.40" cy="213.60" rx="17.20" ry="15.00" fill="#99c5f8" stroke="#006fed" stroke-width="0.4"/><ellipse cx="440.30" cy="213.20" rx="10.10" ry="8.40" fill="#006fed" stroke="#006fed" stroke-width="0.4"/></g><g opacity="0.68"><ellipse cx="440.20" cy="211.80" rx="17.00" ry="14.00" fill="none" stroke="#000" stroke-width="0.5"/><ellipse cx="440.40" cy="209.40" rx="10.40" ry="9.70" fill="none" stroke="#000" stroke-width="0.5"/></g></g><rect x="412.60" y="180.15" width="54.50" height="56.90" fill="none" stroke="#6a6a6a" stroke-width="1.0"/><line x1="420.20" y1="237.05" x2="420.20" y2="238.85" stroke="#222" stroke-width="0.75"/><line x1="436.60" y1="237.05" x2="436.60" y2="238.85" stroke="#222" stroke-width="0.75"/><line x1="453.00" y1="237.05" x2="453.00" y2="238.85" stroke="#222" stroke-width="0.75"/><line x1="410.80" y1="186.50" x2="412.60" y2="186.50" stroke="#222" stroke-width="0.75"/><line x1="410.80" y1="197.40" x2="412.60" y2="197.40" stroke="#222" stroke-width="0.75"/><line x1="410.80" y1="208.30" x2="412.60" y2="208.30" stroke="#222" stroke-width="0.75"/><line x1="410.80" y1="219.20" x2="412.60" y2="219.20" stroke="#222" stroke-width="0.75"/><line x1="410.80" y1="230.10" x2="412.60" y2="230.10" stroke="#222" stroke-width="0.75"/><g clip-path="url(#c29)"><g opacity="0.85"><ellipse cx="498.90" cy="214.20" rx="18.30" ry="13.30" transform="rotate(-30 498.90 214.20)" fill="#cccccc" stroke="#808080" stroke-width="0.4"/><ellipse cx="498.70" cy="213.00" rx="10.50" ry="8.00" transform="rotate(-20 498.70 213.00)" fill="#808080" stroke="#808080" stroke-width="0.4"/></g><g opacity="0.85"><ellipse cx="498.90" cy="209.60" rx="18.50" ry="13.50" transform="rotate(-30 498.90 209.60)" fill="#f3aea7" stroke="#e03424" stroke-width="0.4"/><ellipse cx="498.70" cy="209.80" rx="10.20" ry="9.40" transform="rotate(-20 498.70 209.80)" fill="#e03424" stroke="#e03424" stroke-width="0.4"/></g><g opacity="0.85"><ellipse cx="498.70" cy="213.50" rx="18.50" ry="13.50" transform="rotate(-30 498.70 213.50)" fill="#99c5f8" stroke="#006fed" stroke-width="0.4"/><ellipse cx="498.70" cy="213.00" rx="10.50" ry="8.00" transform="rotate(-20 498.70 213.00)" fill="#006fed" stroke="#006fed" stroke-width="0.4"/></g><g opacity="0.68"><ellipse cx="498.90" cy="211.50" rx="18.30" ry="13.50" transform="rotate(-30 498.90 211.50)" fill="none" stroke="#000" stroke-width="0.5"/><ellipse cx="498.60" cy="209.60" rx="10.40" ry="9.60" transform="rotate(-20 498.60 209.60)" fill="none" stroke="#000" stroke-width="0.5"/></g></g><rect x="471.16" y="180.15" width="54.50" height="56.90" fill="none" stroke="#6a6a6a" stroke-width="1.0"/><line x1="479.20" y1="237.05" x2="479.20" y2="238.85" stroke="#222" stroke-width="0.75"/><line x1="496.10" y1="237.05" x2="496.10" y2="238.85" stroke="#222" stroke-width="0.75"/><line x1="513.00" y1="237.05" x2="513.00" y2="238.85" stroke="#222" stroke-width="0.75"/><line x1="469.36" y1="186.50" x2="471.16" y2="186.50" stroke="#222" stroke-width="0.75"/><line x1="469.36" y1="197.40" x2="471.16" y2="197.40" stroke="#222" stroke-width="0.75"/><line x1="469.36" y1="208.30" x2="471.16" y2="208.30" stroke="#222" stroke-width="0.75"/><line x1="469.36" y1="219.20" x2="471.16" y2="219.20" stroke="#222" stroke-width="0.75"/><line x1="469.36" y1="230.10" x2="471.16" y2="230.10" stroke="#222" stroke-width="0.75"/><g clip-path="url(#c30)"><g opacity="0.85"><ellipse cx="554.60" cy="213.80" rx="16.00" ry="14.60" transform="rotate(-20 554.60 213.80)" fill="#cccccc" stroke="#808080" stroke-width="0.4"/><ellipse cx="555.00" cy="213.40" rx="9.00" ry="9.00" fill="#808080" stroke="#808080" stroke-width="0.4"/></g><g opacity="0.85"><ellipse cx="558.00" cy="208.50" rx="18.50" ry="13.20" transform="rotate(-35 558.00 208.50)" fill="#f3aea7" stroke="#e03424" stroke-width="0.4"/><ellipse cx="557.00" cy="208.90" rx="10.60" ry="9.50" transform="rotate(-10 557.00 208.90)" fill="#e03424" stroke="#e03424" stroke-width="0.4"/></g><g opacity="0.85"><ellipse cx="554.20" cy="213.00" rx="16.00" ry="14.60" transform="rotate(-20 554.20 213.00)" fill="#99c5f8" stroke="#006fed" stroke-width="0.4"/><ellipse cx="554.50" cy="213.40" rx="9.00" ry="8.80" fill="#006fed" stroke="#006fed" stroke-width="0.4"/></g><g opacity="0.68"><ellipse cx="556.50" cy="211.00" rx="18.00" ry="13.80" transform="rotate(-35 556.50 211.00)" fill="none" stroke="#000" stroke-width="0.5"/><ellipse cx="557.00" cy="208.80" rx="10.80" ry="9.50" transform="rotate(-10 557.00 208.80)" fill="none" stroke="#000" stroke-width="0.5"/></g></g><rect x="529.72" y="180.15" width="54.50" height="56.90" fill="none" stroke="#6a6a6a" stroke-width="1.0"/><line x1="544.20" y1="237.05" x2="544.20" y2="238.85" stroke="#222" stroke-width="0.75"/><line x1="559.60" y1="237.05" x2="559.60" y2="238.85" stroke="#222" stroke-width="0.75"/><line x1="575.00" y1="237.05" x2="575.00" y2="238.85" stroke="#222" stroke-width="0.75"/><line x1="527.92" y1="186.50" x2="529.72" y2="186.50" stroke="#222" stroke-width="0.75"/><line x1="527.92" y1="197.40" x2="529.72" y2="197.40" stroke="#222" stroke-width="0.75"/><line x1="527.92" y1="208.30" x2="529.72" y2="208.30" stroke="#222" stroke-width="0.75"/><line x1="527.92" y1="219.20" x2="529.72" y2="219.20" stroke="#222" stroke-width="0.75"/><line x1="527.92" y1="230.10" x2="529.72" y2="230.10" stroke="#222" stroke-width="0.75"/><g clip-path="url(#c31)"></g><rect x="588.28" y="180.15" width="54.50" height="56.90" fill="none" stroke="#6a6a6a" stroke-width="1.0"/><line x1="594.40" y1="237.05" x2="594.40" y2="238.85" stroke="#222" stroke-width="0.75"/><line x1="605.10" y1="237.05" x2="605.10" y2="238.85" stroke="#222" stroke-width="0.75"/><line x1="615.80" y1="237.05" x2="615.80" y2="238.85" stroke="#222" stroke-width="0.75"/><line x1="626.45" y1="237.05" x2="626.45" y2="238.85" stroke="#222" stroke-width="0.75"/><line x1="637.10" y1="237.05" x2="637.10" y2="238.85" stroke="#222" stroke-width="0.75"/><g clip-path="url(#c32)"><g opacity="0.85"><ellipse cx="440.70" cy="267.00" rx="19.00" ry="13.00" transform="rotate(35 440.70 267.00)" fill="#cccccc" stroke="#808080" stroke-width="0.4"/><ellipse cx="440.50" cy="266.30" rx="11.50" ry="8.30" transform="rotate(30 440.50 266.30)" fill="#808080" stroke="#808080" stroke-width="0.4"/></g><g opacity="0.85"><ellipse cx="440.50" cy="266.30" rx="19.00" ry="13.00" transform="rotate(35 440.50 266.30)" fill="#f3aea7" stroke="#e03424" stroke-width="0.4"/><ellipse cx="440.50" cy="266.00" rx="11.50" ry="8.30" transform="rotate(30 440.50 266.00)" fill="#e03424" stroke="#e03424" stroke-width="0.4"/></g><g opacity="0.85"><ellipse cx="440.50" cy="265.30" rx="19.00" ry="13.00" transform="rotate(35 440.50 265.30)" fill="#99c5f8" stroke="#006fed" stroke-width="0.4"/><ellipse cx="440.40" cy="265.50" rx="11.50" ry="8.30" transform="rotate(30 440.40 265.50)" fill="#006fed" stroke="#006fed" stroke-width="0.4"/></g><g opacity="0.68"><ellipse cx="440.50" cy="266.00" rx="19.00" ry="13.00" transform="rotate(35 440.50 266.00)" fill="none" stroke="#000" stroke-width="0.5"/><ellipse cx="440.50" cy="266.20" rx="11.50" ry="8.30" transform="rotate(30 440.50 266.20)" fill="none" stroke="#000" stroke-width="0.5"/></g></g><rect x="412.60" y="239.40" width="54.50" height="56.90" fill="none" stroke="#6a6a6a" stroke-width="1.0"/><line x1="420.20" y1="296.30" x2="420.20" y2="298.10" stroke="#222" stroke-width="0.75"/><line x1="436.60" y1="296.30" x2="436.60" y2="298.10" stroke="#222" stroke-width="0.75"/><line x1="453.00" y1="296.30" x2="453.00" y2="298.10" stroke="#222" stroke-width="0.75"/><line x1="410.80" y1="245.80" x2="412.60" y2="245.80" stroke="#222" stroke-width="0.75"/><line x1="410.80" y1="256.90" x2="412.60" y2="256.90" stroke="#222" stroke-width="0.75"/><line x1="410.80" y1="268.00" x2="412.60" y2="268.00" stroke="#222" stroke-width="0.75"/><line x1="410.80" y1="279.10" x2="412.60" y2="279.10" stroke="#222" stroke-width="0.75"/><line x1="410.80" y1="290.20" x2="412.60" y2="290.20" stroke="#222" stroke-width="0.75"/><g clip-path="url(#c33)"><g opacity="0.85"><ellipse cx="498.90" cy="267.00" rx="19.00" ry="13.00" transform="rotate(35 498.90 267.00)" fill="#cccccc" stroke="#808080" stroke-width="0.4"/><ellipse cx="498.70" cy="266.00" rx="11.50" ry="8.00" transform="rotate(30 498.70 266.00)" fill="#808080" stroke="#808080" stroke-width="0.4"/></g><g opacity="0.85"><ellipse cx="498.70" cy="266.30" rx="19.00" ry="13.00" transform="rotate(35 498.70 266.30)" fill="#f3aea7" stroke="#e03424" stroke-width="0.4"/><ellipse cx="498.60" cy="265.80" rx="11.50" ry="8.00" transform="rotate(30 498.60 265.80)" fill="#e03424" stroke="#e03424" stroke-width="0.4"/></g><g opacity="0.85"><ellipse cx="498.70" cy="265.30" rx="19.00" ry="13.00" transform="rotate(35 498.70 265.30)" fill="#99c5f8" stroke="#006fed" stroke-width="0.4"/><ellipse cx="498.60" cy="265.00" rx="11.50" ry="8.00" transform="rotate(30 498.60 265.00)" fill="#006fed" stroke="#006fed" stroke-width="0.4"/></g><g opacity="0.68"><ellipse cx="498.70" cy="266.00" rx="19.00" ry="13.00" transform="rotate(35 498.70 266.00)" fill="none" stroke="#000" stroke-width="0.5"/><ellipse cx="498.60" cy="265.80" rx="11.50" ry="8.00" transform="rotate(30 498.60 265.80)" fill="none" stroke="#000" stroke-width="0.5"/></g></g><rect x="471.16" y="239.40" width="54.50" height="56.90" fill="none" stroke="#6a6a6a" stroke-width="1.0"/><line x1="479.20" y1="296.30" x2="479.20" y2="298.10" stroke="#222" stroke-width="0.75"/><line x1="496.10" y1="296.30" x2="496.10" y2="298.10" stroke="#222" stroke-width="0.75"/><line x1="513.00" y1="296.30" x2="513.00" y2="298.10" stroke="#222" stroke-width="0.75"/><line x1="469.36" y1="245.80" x2="471.16" y2="245.80" stroke="#222" stroke-width="0.75"/><line x1="469.36" y1="256.90" x2="471.16" y2="256.90" stroke="#222" stroke-width="0.75"/><line x1="469.36" y1="268.00" x2="471.16" y2="268.00" stroke="#222" stroke-width="0.75"/><line x1="469.36" y1="279.10" x2="471.16" y2="279.10" stroke="#222" stroke-width="0.75"/><line x1="469.36" y1="290.20" x2="471.16" y2="290.20" stroke="#222" stroke-width="0.75"/><g clip-path="url(#c34)"><g opacity="0.85"><ellipse cx="556.80" cy="267.60" rx="20.00" ry="11.50" transform="rotate(-40 556.80 267.60)" fill="#cccccc" stroke="#808080" stroke-width="0.4"/><ellipse cx="556.80" cy="266.50" rx="12.50" ry="6.50" transform="rotate(-40 556.80 266.50)" fill="#808080" stroke="#808080" stroke-width="0.4"/></g><g opacity="0.85"><ellipse cx="558.50" cy="267.60" rx="20.00" ry="11.40" transform="rotate(-40 558.50 267.60)" fill="#f3aea7" stroke="#e03424" stroke-width="0.4"/><ellipse cx="557.60" cy="267.00" rx="12.50" ry="6.60" transform="rotate(-40 557.60 267.00)" fill="#e03424" stroke="#e03424" stroke-width="0.4"/></g><g opacity="0.85"><ellipse cx="555.50" cy="265.50" rx="20.00" ry="11.00" transform="rotate(-40 555.50 265.50)" fill="#99c5f8" stroke="#006fed" stroke-width="0.4"/><ellipse cx="555.50" cy="265.50" rx="12.30" ry="6.30" transform="rotate(-40 555.50 265.50)" fill="#006fed" stroke="#006fed" stroke-width="0.4"/></g><g opacity="0.68"><ellipse cx="557.50" cy="267.20" rx="20.00" ry="11.40" transform="rotate(-40 557.50 267.20)" fill="none" stroke="#000" stroke-width="0.5"/><ellipse cx="557.60" cy="267.00" rx="12.80" ry="6.90" transform="rotate(-40 557.60 267.00)" fill="none" stroke="#000" stroke-width="0.5"/></g></g><rect x="529.72" y="239.40" width="54.50" height="56.90" fill="none" stroke="#6a6a6a" stroke-width="1.0"/><line x1="544.20" y1="296.30" x2="544.20" y2="298.10" stroke="#222" stroke-width="0.75"/><line x1="559.60" y1="296.30" x2="559.60" y2="298.10" stroke="#222" stroke-width="0.75"/><line x1="575.00" y1="296.30" x2="575.00" y2="298.10" stroke="#222" stroke-width="0.75"/><line x1="527.92" y1="245.80" x2="529.72" y2="245.80" stroke="#222" stroke-width="0.75"/><line x1="527.92" y1="256.90" x2="529.72" y2="256.90" stroke="#222" stroke-width="0.75"/><line x1="527.92" y1="268.00" x2="529.72" y2="268.00" stroke="#222" stroke-width="0.75"/><line x1="527.92" y1="279.10" x2="529.72" y2="279.10" stroke="#222" stroke-width="0.75"/><line x1="527.92" y1="290.20" x2="529.72" y2="290.20" stroke="#222" stroke-width="0.75"/><g clip-path="url(#c35)"><g opacity="0.85"><ellipse cx="611.50" cy="266.50" rx="14.20" ry="15.60" fill="#cccccc" stroke="#808080" stroke-width="0.4"/><ellipse cx="612.00" cy="265.50" rx="8.80" ry="9.00" fill="#808080" stroke="#808080" stroke-width="0.4"/></g><g opacity="0.85"><ellipse cx="614.20" cy="265.30" rx="14.00" ry="15.30" fill="#f3aea7" stroke="#e03424" stroke-width="0.4"/><ellipse cx="614.60" cy="266.20" rx="9.00" ry="9.50" fill="#e03424" stroke="#e03424" stroke-width="0.4"/></g><g opacity="0.85"><ellipse cx="609.70" cy="265.30" rx="13.60" ry="15.30" fill="#99c5f8" stroke="#006fed" stroke-width="0.4"/><ellipse cx="610.00" cy="264.70" rx="8.30" ry="8.50" fill="#006fed" stroke="#006fed" stroke-width="0.4"/></g><g opacity="0.68"><ellipse cx="613.00" cy="266.40" rx="14.50" ry="15.70" fill="none" stroke="#000" stroke-width="0.5"/><ellipse cx="614.60" cy="266.20" rx="9.10" ry="9.50" fill="none" stroke="#000" stroke-width="0.5"/></g></g><rect x="588.28" y="239.40" width="54.50" height="56.90" fill="none" stroke="#6a6a6a" stroke-width="1.0"/><line x1="594.40" y1="296.30" x2="594.40" y2="298.10" stroke="#222" stroke-width="0.75"/><line x1="605.10" y1="296.30" x2="605.10" y2="298.10" stroke="#222" stroke-width="0.75"/><line x1="615.80" y1="296.30" x2="615.80" y2="298.10" stroke="#222" stroke-width="0.75"/><line x1="626.45" y1="296.30" x2="626.45" y2="298.10" stroke="#222" stroke-width="0.75"/><line x1="637.10" y1="296.30" x2="637.10" y2="298.10" stroke="#222" stroke-width="0.75"/><line x1="586.48" y1="245.80" x2="588.28" y2="245.80" stroke="#222" stroke-width="0.75"/><line x1="586.48" y1="256.90" x2="588.28" y2="256.90" stroke="#222" stroke-width="0.75"/><line x1="586.48" y1="268.00" x2="588.28" y2="268.00" stroke="#222" stroke-width="0.75"/><line x1="586.48" y1="279.10" x2="588.28" y2="279.10" stroke="#222" stroke-width="0.75"/><line x1="586.48" y1="290.20" x2="588.28" y2="290.20" stroke="#222" stroke-width="0.75"/><g clip-path="url(#c36)"></g><rect x="646.84" y="239.40" width="54.50" height="56.90" fill="none" stroke="#6a6a6a" stroke-width="1.0"/><line x1="652.40" y1="296.30" x2="652.40" y2="298.10" stroke="#222" stroke-width="0.75"/><line x1="663.15" y1="296.30" x2="663.15" y2="298.10" stroke="#222" stroke-width="0.75"/><line x1="673.90" y1="296.30" x2="673.90" y2="298.10" stroke="#222" stroke-width="0.75"/><line x1="684.65" y1="296.30" x2="684.65" y2="298.10" stroke="#222" stroke-width="0.75"/><line x1="695.40" y1="296.30" x2="695.40" y2="298.10" stroke="#222" stroke-width="0.75"/><g clip-path="url(#c37)"><g opacity="0.85"><ellipse cx="440.30" cy="326.50" rx="17.00" ry="15.00" fill="#cccccc" stroke="#808080" stroke-width="0.4"/><ellipse cx="440.40" cy="325.80" rx="10.20" ry="8.80" fill="#808080" stroke="#808080" stroke-width="0.4"/></g><g opacity="0.85"><ellipse cx="440.40" cy="322.00" rx="17.20" ry="14.60" fill="#f3aea7" stroke="#e03424" stroke-width="0.4"/><ellipse cx="440.50" cy="322.50" rx="10.30" ry="9.70" fill="#e03424" stroke="#e03424" stroke-width="0.4"/></g><g opacity="0.85"><ellipse cx="440.20" cy="326.50" rx="17.00" ry="15.00" fill="#99c5f8" stroke="#006fed" stroke-width="0.4"/><ellipse cx="440.40" cy="326.00" rx="10.20" ry="8.70" fill="#006fed" stroke="#006fed" stroke-width="0.4"/></g><g opacity="0.68"><ellipse cx="440.20" cy="324.00" rx="17.00" ry="14.20" fill="none" stroke="#000" stroke-width="0.5"/><ellipse cx="440.50" cy="322.50" rx="10.40" ry="9.70" fill="none" stroke="#000" stroke-width="0.5"/></g></g><rect x="412.60" y="298.65" width="54.50" height="56.90" fill="none" stroke="#6a6a6a" stroke-width="1.0"/><line x1="420.20" y1="355.55" x2="420.20" y2="357.35" stroke="#222" stroke-width="0.75"/><line x1="436.60" y1="355.55" x2="436.60" y2="357.35" stroke="#222" stroke-width="0.75"/><line x1="453.00" y1="355.55" x2="453.00" y2="357.35" stroke="#222" stroke-width="0.75"/><line x1="410.80" y1="304.80" x2="412.60" y2="304.80" stroke="#222" stroke-width="0.75"/><line x1="410.80" y1="315.90" x2="412.60" y2="315.90" stroke="#222" stroke-width="0.75"/><line x1="410.80" y1="327.00" x2="412.60" y2="327.00" stroke="#222" stroke-width="0.75"/><line x1="410.80" y1="338.10" x2="412.60" y2="338.10" stroke="#222" stroke-width="0.75"/><line x1="410.80" y1="349.20" x2="412.60" y2="349.20" stroke="#222" stroke-width="0.75"/><g clip-path="url(#c38)"><g opacity="0.85"><ellipse cx="498.60" cy="326.80" rx="17.30" ry="13.80" transform="rotate(-25 498.60 326.80)" fill="#cccccc" stroke="#808080" stroke-width="0.4"/><ellipse cx="498.50" cy="326.20" rx="9.80" ry="9.00" transform="rotate(-10 498.50 326.20)" fill="#808080" stroke="#808080" stroke-width="0.4"/></g><g opacity="0.85"><ellipse cx="499.00" cy="320.50" rx="18.50" ry="13.20" transform="rotate(-30 499.00 320.50)" fill="#f3aea7" stroke="#e03424" stroke-width="0.4"/><ellipse cx="498.40" cy="322.30" rx="10.20" ry="9.70" transform="rotate(-10 498.40 322.30)" fill="#e03424" stroke="#e03424" stroke-width="0.4"/></g><g opacity="0.85"><ellipse cx="498.40" cy="326.40" rx="17.50" ry="14.00" transform="rotate(-25 498.40 326.40)" fill="#99c5f8" stroke="#006fed" stroke-width="0.4"/><ellipse cx="498.50" cy="326.40" rx="9.80" ry="9.10" transform="rotate(-10 498.50 326.40)" fill="#006fed" stroke="#006fed" stroke-width="0.4"/></g><g opacity="0.68"><ellipse cx="498.80" cy="323.50" rx="18.30" ry="13.50" transform="rotate(-30 498.80 323.50)" fill="none" stroke="#000" stroke-width="0.5"/><ellipse cx="498.30" cy="322.30" rx="10.50" ry="9.80" transform="rotate(-20 498.30 322.30)" fill="none" stroke="#000" stroke-width="0.5"/></g></g><rect x="471.16" y="298.65" width="54.50" height="56.90" fill="none" stroke="#6a6a6a" stroke-width="1.0"/><line x1="479.20" y1="355.55" x2="479.20" y2="357.35" stroke="#222" stroke-width="0.75"/><line x1="496.10" y1="355.55" x2="496.10" y2="357.35" stroke="#222" stroke-width="0.75"/><line x1="513.00" y1="355.55" x2="513.00" y2="357.35" stroke="#222" stroke-width="0.75"/><line x1="469.36" y1="304.80" x2="471.16" y2="304.80" stroke="#222" stroke-width="0.75"/><line x1="469.36" y1="315.90" x2="471.16" y2="315.90" stroke="#222" stroke-width="0.75"/><line x1="469.36" y1="327.00" x2="471.16" y2="327.00" stroke="#222" stroke-width="0.75"/><line x1="469.36" y1="338.10" x2="471.16" y2="338.10" stroke="#222" stroke-width="0.75"/><line x1="469.36" y1="349.20" x2="471.16" y2="349.20" stroke="#222" stroke-width="0.75"/><g clip-path="url(#c39)"><g opacity="0.85"><ellipse cx="554.40" cy="326.80" rx="15.50" ry="15.00" transform="rotate(-20 554.40 326.80)" fill="#cccccc" stroke="#808080" stroke-width="0.4"/><ellipse cx="554.50" cy="326.40" rx="9.00" ry="9.00" fill="#808080" stroke="#808080" stroke-width="0.4"/></g><g opacity="0.85"><ellipse cx="558.00" cy="321.50" rx="18.50" ry="13.80" transform="rotate(-35 558.00 321.50)" fill="#f3aea7" stroke="#e03424" stroke-width="0.4"/><ellipse cx="556.80" cy="322.30" rx="10.60" ry="9.70" transform="rotate(-10 556.80 322.30)" fill="#e03424" stroke="#e03424" stroke-width="0.4"/></g><g opacity="0.85"><ellipse cx="554.00" cy="326.40" rx="15.50" ry="15.00" transform="rotate(-20 554.00 326.40)" fill="#99c5f8" stroke="#006fed" stroke-width="0.4"/><ellipse cx="554.50" cy="326.40" rx="9.00" ry="9.10" fill="#006fed" stroke="#006fed" stroke-width="0.4"/></g><g opacity="0.68"><ellipse cx="556.50" cy="324.00" rx="18.00" ry="13.80" transform="rotate(-35 556.50 324.00)" fill="none" stroke="#000" stroke-width="0.5"/><ellipse cx="556.80" cy="322.30" rx="10.90" ry="9.90" transform="rotate(-10 556.80 322.30)" fill="none" stroke="#000" stroke-width="0.5"/></g></g><rect x="529.72" y="298.65" width="54.50" height="56.90" fill="none" stroke="#6a6a6a" stroke-width="1.0"/><line x1="544.20" y1="355.55" x2="544.20" y2="357.35" stroke="#222" stroke-width="0.75"/><line x1="559.60" y1="355.55" x2="559.60" y2="357.35" stroke="#222" stroke-width="0.75"/><line x1="575.00" y1="355.55" x2="575.00" y2="357.35" stroke="#222" stroke-width="0.75"/><line x1="527.92" y1="304.80" x2="529.72" y2="304.80" stroke="#222" stroke-width="0.75"/><line x1="527.92" y1="315.90" x2="529.72" y2="315.90" stroke="#222" stroke-width="0.75"/><line x1="527.92" y1="327.00" x2="529.72" y2="327.00" stroke="#222" stroke-width="0.75"/><line x1="527.92" y1="338.10" x2="529.72" y2="338.10" stroke="#222" stroke-width="0.75"/><line x1="527.92" y1="349.20" x2="529.72" y2="349.20" stroke="#222" stroke-width="0.75"/><g clip-path="url(#c40)"><g opacity="0.85"><ellipse cx="612.60" cy="324.00" rx="23.50" ry="2.30" transform="rotate(-46 612.60 324.00)" fill="#cccccc" stroke="#808080" stroke-width="0.4"/><ellipse cx="612.30" cy="324.30" rx="15.00" ry="1.20" transform="rotate(-46 612.30 324.30)" fill="#808080" stroke="#808080" stroke-width="0.4"/></g><g opacity="0.85"><ellipse cx="614.50" cy="322.20" rx="23.00" ry="2.20" transform="rotate(-46 614.50 322.20)" fill="#f3aea7" stroke="#e03424" stroke-width="0.4"/><ellipse cx="614.50" cy="322.20" rx="14.00" ry="1.10" transform="rotate(-46 614.50 322.20)" fill="#e03424" stroke="#e03424" stroke-width="0.4"/></g><g opacity="0.85"><ellipse cx="612.40" cy="324.20" rx="23.50" ry="2.20" transform="rotate(-46 612.40 324.20)" fill="#99c5f8" stroke="#006fed" stroke-width="0.4"/><ellipse cx="612.00" cy="324.60" rx="15.00" ry="1.20" transform="rotate(-46 612.00 324.60)" fill="#006fed" stroke="#006fed" stroke-width="0.4"/></g><g opacity="0.68"><ellipse cx="613.50" cy="323.20" rx="23.20" ry="2.20" transform="rotate(-46 613.50 323.20)" fill="none" stroke="#000" stroke-width="0.5"/><ellipse cx="613.50" cy="323.20" rx="14.00" ry="1.10" transform="rotate(-46 613.50 323.20)" fill="none" stroke="#000" stroke-width="0.5"/></g></g><rect x="588.28" y="298.65" width="54.50" height="56.90" fill="none" stroke="#6a6a6a" stroke-width="1.0"/><line x1="594.40" y1="355.55" x2="594.40" y2="357.35" stroke="#222" stroke-width="0.75"/><line x1="605.10" y1="355.55" x2="605.10" y2="357.35" stroke="#222" stroke-width="0.75"/><line x1="615.80" y1="355.55" x2="615.80" y2="357.35" stroke="#222" stroke-width="0.75"/><line x1="626.45" y1="355.55" x2="626.45" y2="357.35" stroke="#222" stroke-width="0.75"/><line x1="637.10" y1="355.55" x2="637.10" y2="357.35" stroke="#222" stroke-width="0.75"/><line x1="586.48" y1="304.80" x2="588.28" y2="304.80" stroke="#222" stroke-width="0.75"/><line x1="586.48" y1="315.90" x2="588.28" y2="315.90" stroke="#222" stroke-width="0.75"/><line x1="586.48" y1="327.00" x2="588.28" y2="327.00" stroke="#222" stroke-width="0.75"/><line x1="586.48" y1="338.10" x2="588.28" y2="338.10" stroke="#222" stroke-width="0.75"/><line x1="586.48" y1="349.20" x2="588.28" y2="349.20" stroke="#222" stroke-width="0.75"/><g clip-path="url(#c41)"><g opacity="0.85"><ellipse cx="676.50" cy="326.80" rx="14.40" ry="15.00" fill="#cccccc" stroke="#808080" stroke-width="0.4"/><ellipse cx="676.60" cy="326.20" rx="8.80" ry="9.00" fill="#808080" stroke="#808080" stroke-width="0.4"/></g><g opacity="0.85"><ellipse cx="676.00" cy="322.00" rx="14.50" ry="14.70" fill="#f3aea7" stroke="#e03424" stroke-width="0.4"/><ellipse cx="676.60" cy="322.00" rx="9.50" ry="9.00" fill="#e03424" stroke="#e03424" stroke-width="0.4"/></g><g opacity="0.85"><ellipse cx="676.70" cy="326.50" rx="14.30" ry="15.00" fill="#99c5f8" stroke="#006fed" stroke-width="0.4"/><ellipse cx="676.60" cy="326.40" rx="8.80" ry="9.00" fill="#006fed" stroke="#006fed" stroke-width="0.4"/></g><g opacity="0.68"><ellipse cx="676.00" cy="323.50" rx="14.50" ry="15.00" fill="none" stroke="#000" stroke-width="0.5"/><ellipse cx="676.60" cy="322.50" rx="9.30" ry="9.30" fill="none" stroke="#000" stroke-width="0.5"/></g></g><rect x="646.84" y="298.65" width="54.50" height="56.90" fill="none" stroke="#6a6a6a" stroke-width="1.0"/><line x1="652.40" y1="355.55" x2="652.40" y2="357.35" stroke="#222" stroke-width="0.75"/><line x1="663.15" y1="355.55" x2="663.15" y2="357.35" stroke="#222" stroke-width="0.75"/><line x1="673.90" y1="355.55" x2="673.90" y2="357.35" stroke="#222" stroke-width="0.75"/><line x1="684.65" y1="355.55" x2="684.65" y2="357.35" stroke="#222" stroke-width="0.75"/><line x1="695.40" y1="355.55" x2="695.40" y2="357.35" stroke="#222" stroke-width="0.75"/><line x1="645.04" y1="304.80" x2="646.84" y2="304.80" stroke="#222" stroke-width="0.75"/><line x1="645.04" y1="315.90" x2="646.84" y2="315.90" stroke="#222" stroke-width="0.75"/><line x1="645.04" y1="327.00" x2="646.84" y2="327.00" stroke="#222" stroke-width="0.75"/><line x1="645.04" y1="338.10" x2="646.84" y2="338.10" stroke="#222" stroke-width="0.75"/><line x1="645.04" y1="349.20" x2="646.84" y2="349.20" stroke="#222" stroke-width="0.75"/><g clip-path="url(#c42)"></g><rect x="705.40" y="298.65" width="54.50" height="56.90" fill="none" stroke="#6a6a6a" stroke-width="1.0"/><line x1="711.60" y1="355.55" x2="711.60" y2="357.35" stroke="#222" stroke-width="0.75"/><line x1="722.00" y1="355.55" x2="722.00" y2="357.35" stroke="#222" stroke-width="0.75"/><line x1="732.35" y1="355.55" x2="732.35" y2="357.35" stroke="#222" stroke-width="0.75"/><line x1="742.70" y1="355.55" x2="742.70" y2="357.35" stroke="#222" stroke-width="0.75"/><line x1="753.10" y1="355.55" x2="753.10" y2="357.35" stroke="#222" stroke-width="0.75"/><rect x="134.2" y="0.4" width="110" height="51.8" rx="1.5" fill="#fff" fill-opacity="0.8" stroke="#d0d0d0" stroke-width="0.8"/><rect x="491.8" y="0.4" width="163.6" height="42.2" rx="1.5" fill="#fff" fill-opacity="0.8" stroke="#d0d0d0" stroke-width="0.8"/>
</g>
<path d="M26.80 59.29 L27.26 59.29 L27.72 59.29 L28.18 59.29 L28.64 59.28 L29.10 59.28 L29.56 59.27 L30.02 59.26 L30.48 59.25 L30.94 59.24 L31.40 59.22 L31.86 59.20 L32.32 59.18 L32.78 59.15 L33.24 59.11 L33.70 59.06 L34.16 59.01 L34.62 58.94 L35.08 58.86 L35.54 58.76 L36.00 58.64 L36.46 58.51 L36.92 58.35 L37.38 58.16 L37.84 57.94 L38.30 57.68 L38.76 57.38 L39.22 57.04 L39.68 56.65 L40.14 56.20 L40.60 55.69 L41.06 55.12 L41.52 54.47 L41.98 53.75 L42.44 52.95 L42.90 52.06 L43.36 51.08 L43.82 50.01 L44.28 48.85 L44.74 47.59 L45.20 46.23 L45.66 44.77 L46.12 43.22 L46.58 41.58 L47.04 39.86 L47.50 38.05 L47.96 36.17 L48.42 34.24 L48.88 32.25 L49.34 30.24 L49.80 28.20 L50.26 26.15 L50.72 24.13 L51.18 22.13 L51.64 20.18 L52.10 18.31 L52.56 16.52 L53.02 14.85 L53.48 13.30 L53.94 11.90 L54.40 10.66 L54.86 9.60 L55.32 8.72 L55.78 8.05 L56.24 7.58 L56.70 7.33 L57.16 7.30 L57.62 7.48 L58.08 7.89 L58.54 8.50 L59.00 9.31 L59.46 10.32 L59.92 11.50 L60.38 12.86 L60.84 14.36 L61.30 16.00 L61.76 17.76 L62.22 19.60 L62.68 21.53 L63.14 23.51 L63.60 25.53 L64.06 27.57 L64.52 29.62 L64.98 31.64 L65.44 33.64 L65.90 35.59 L66.36 37.49 L66.82 39.31 L67.28 41.07 L67.74 42.73 L68.20 44.31 L68.66 45.80 L69.12 47.18 L69.58 48.48 L70.04 49.67 L70.50 50.77 L70.96 51.77 L71.42 52.69 L71.88 53.51 L72.34 54.26 L72.80 54.93 L73.26 55.52 L73.72 56.05 L74.18 56.52 L74.64 56.92 L75.10 57.28 L75.56 57.59 L76.02 57.86 L76.48 58.09 L76.94 58.29 L77.40 58.46 L77.86 58.61 L78.32 58.73 L78.78 58.83 L79.24 58.91 L79.70 58.99 L80.16 59.05 L80.62 59.09 L81.08 59.13 L81.54 59.17 L82.00 59.19" fill="none" stroke="#000866" stroke-width="0.72" opacity="0.85"/><path d="M26.80 59.28 L27.26 59.28 L27.72 59.27 L28.18 59.27 L28.64 59.26 L29.10 59.24 L29.56 59.23 L30.02 59.21 L30.48 59.19 L30.94 59.16 L31.40 59.12 L31.86 59.08 L32.32 59.03 L32.78 58.96 L33.24 58.89 L33.70 58.79 L34.16 58.68 L34.62 58.55 L35.08 58.39 L35.54 58.21 L36.00 57.99 L36.46 57.74 L36.92 57.45 L37.38 57.11 L37.84 56.72 L38.30 56.28 L38.76 55.77 L39.22 55.20 L39.68 54.56 L40.14 53.84 L40.60 53.03 L41.06 52.14 L41.52 51.16 L41.98 50.08 L42.44 48.90 L42.90 47.62 L43.36 46.25 L43.82 44.77 L44.28 43.20 L44.74 41.53 L45.20 39.78 L45.66 37.95 L46.12 36.04 L46.58 34.07 L47.04 32.05 L47.50 30.00 L47.96 27.93 L48.42 25.86 L48.88 23.81 L49.34 21.79 L49.80 19.83 L50.26 17.95 L50.72 16.16 L51.18 14.49 L51.64 12.95 L52.10 11.57 L52.56 10.36 L53.02 9.33 L53.48 8.50 L53.94 7.88 L54.40 7.48 L54.86 7.30 L55.32 7.34 L55.78 7.61 L56.24 8.10 L56.70 8.80 L57.16 9.71 L57.62 10.81 L58.08 12.09 L58.54 13.53 L59.00 15.12 L59.46 16.84 L59.92 18.67 L60.38 20.59 L60.84 22.58 L61.30 24.61 L61.76 26.67 L62.22 28.75 L62.68 30.81 L63.14 32.85 L63.60 34.85 L64.06 36.79 L64.52 38.67 L64.98 40.48 L65.44 42.20 L65.90 43.83 L66.36 45.36 L66.82 46.80 L67.28 48.14 L67.74 49.37 L68.20 50.51 L68.66 51.55 L69.12 52.50 L69.58 53.36 L70.04 54.13 L70.50 54.82 L70.96 55.43 L71.42 55.98 L71.88 56.46 L72.34 56.88 L72.80 57.25 L73.26 57.57 L73.72 57.84 L74.18 58.08 L74.64 58.28 L75.10 58.46 L75.56 58.60 L76.02 58.73 L76.48 58.83 L76.94 58.92 L77.40 58.99 L77.86 59.05 L78.32 59.10 L78.78 59.14 L79.24 59.17 L79.70 59.20 L80.16 59.22 L80.62 59.24 L81.08 59.25 L81.54 59.26 L82.00 59.27" fill="none" stroke="#009966" stroke-width="0.72" opacity="0.85"/><path d="M26.80 59.29 L27.26 59.29 L27.72 59.29 L28.18 59.28 L28.64 59.27 L29.10 59.27 L29.56 59.26 L30.02 59.25 L30.48 59.23 L30.94 59.21 L31.40 59.19 L31.86 59.16 L32.32 59.13 L32.78 59.09 L33.24 59.04 L33.70 58.97 L34.16 58.90 L34.62 58.81 L35.08 58.70 L35.54 58.57 L36.00 58.42 L36.46 58.24 L36.92 58.03 L37.38 57.79 L37.84 57.50 L38.30 57.17 L38.76 56.79 L39.22 56.36 L39.68 55.87 L40.14 55.31 L40.60 54.67 L41.06 53.97 L41.52 53.18 L41.98 52.30 L42.44 51.33 L42.90 50.27 L43.36 49.11 L43.82 47.85 L44.28 46.49 L44.74 45.03 L45.20 43.48 L45.66 41.83 L46.12 40.09 L46.58 38.26 L47.04 36.37 L47.50 34.41 L47.96 32.40 L48.42 30.35 L48.88 28.29 L49.34 26.21 L49.80 24.15 L50.26 22.13 L50.72 20.16 L51.18 18.25 L51.64 16.45 L52.10 14.75 L52.56 13.19 L53.02 11.78 L53.48 10.54 L53.94 9.48 L54.40 8.62 L54.86 7.96 L55.32 7.52 L55.78 7.30 L56.24 7.30 L56.70 7.53 L57.16 7.98 L57.62 8.65 L58.08 9.52 L58.54 10.59 L59.00 11.84 L59.46 13.26 L59.92 14.82 L60.38 16.52 L60.84 18.34 L61.30 20.24 L61.76 22.22 L62.22 24.24 L62.68 26.30 L63.14 28.38 L63.60 30.44 L64.06 32.49 L64.52 34.50 L64.98 36.45 L65.44 38.34 L65.90 40.16 L66.36 41.90 L66.82 43.55 L67.28 45.10 L67.74 46.55 L68.20 47.91 L68.66 49.16 L69.12 50.32 L69.58 51.38 L70.04 52.34 L70.50 53.21 L70.96 54.00 L71.42 54.70 L71.88 55.33 L72.34 55.89 L72.80 56.38 L73.26 56.81 L73.72 57.19 L74.18 57.52 L74.64 57.80 L75.10 58.04 L75.56 58.25 L76.02 58.43 L76.48 58.58 L76.94 58.71 L77.40 58.81 L77.86 58.90 L78.32 58.98 L78.78 59.04 L79.24 59.09 L79.70 59.13 L80.16 59.17 L80.62 59.19 L81.08 59.22 L81.54 59.23 L82.00 59.25" fill="none" stroke="#808080" stroke-width="0.72" opacity="0.85"/><path d="M26.80 59.29 L27.26 59.29 L27.72 59.28 L28.18 59.28 L28.64 59.27 L29.10 59.26 L29.56 59.25 L30.02 59.23 L30.48 59.22 L30.94 59.19 L31.40 59.17 L31.86 59.13 L32.32 59.09 L32.78 59.04 L33.24 58.98 L33.70 58.91 L34.16 58.82 L34.62 58.72 L35.08 58.59 L35.54 58.44 L36.00 58.27 L36.46 58.06 L36.92 57.82 L37.38 57.54 L37.84 57.22 L38.30 56.85 L38.76 56.42 L39.22 55.93 L39.68 55.38 L40.14 54.76 L40.60 54.06 L41.06 53.28 L41.52 52.42 L41.98 51.46 L42.44 50.41 L42.90 49.27 L43.36 48.02 L43.82 46.68 L44.28 45.23 L44.74 43.69 L45.20 42.05 L45.66 40.32 L46.12 38.51 L46.58 36.62 L47.04 34.67 L47.50 32.67 L47.96 30.63 L48.42 28.56 L48.88 26.49 L49.34 24.43 L49.80 22.40 L50.26 20.42 L50.72 18.50 L51.18 16.68 L51.64 14.97 L52.10 13.39 L52.56 11.96 L53.02 10.70 L53.48 9.61 L53.94 8.73 L54.40 8.04 L54.86 7.57 L55.32 7.32 L55.78 7.30 L56.24 7.50 L56.70 7.92 L57.16 8.56 L57.62 9.40 L58.08 10.45 L58.54 11.67 L59.00 13.07 L59.46 14.62 L59.92 16.30 L60.38 18.10 L60.84 19.99 L61.30 21.96 L61.76 23.98 L62.22 26.04 L62.68 28.11 L63.14 30.18 L63.60 32.23 L64.06 34.24 L64.52 36.20 L64.98 38.10 L65.44 39.93 L65.90 41.68 L66.36 43.34 L66.82 44.90 L67.28 46.37 L67.74 47.74 L68.20 49.01 L68.66 50.17 L69.12 51.24 L69.58 52.22 L70.04 53.10 L70.50 53.90 L70.96 54.62 L71.42 55.25 L71.88 55.82 L72.34 56.32 L72.80 56.76 L73.26 57.14 L73.72 57.48 L74.18 57.76 L74.64 58.01 L75.10 58.23 L75.56 58.41 L76.02 58.56 L76.48 58.69 L76.94 58.80 L77.40 58.89 L77.86 58.97 L78.32 59.03 L78.78 59.08 L79.24 59.13 L79.70 59.16 L80.16 59.19 L80.62 59.21 L81.08 59.23 L81.54 59.25 L82.00 59.26" fill="none" stroke="#e03424" stroke-width="0.72" opacity="0.85"/><path d="M26.80 59.28 L27.26 59.28 L27.72 59.27 L28.18 59.26 L28.64 59.25 L29.10 59.24 L29.56 59.22 L30.02 59.20 L30.48 59.18 L30.94 59.14 L31.40 59.11 L31.86 59.06 L32.32 59.00 L32.78 58.93 L33.24 58.85 L33.70 58.75 L34.16 58.63 L34.62 58.48 L35.08 58.32 L35.54 58.12 L36.00 57.89 L36.46 57.62 L36.92 57.31 L37.38 56.95 L37.84 56.54 L38.30 56.07 L38.76 55.53 L39.22 54.93 L39.68 54.25 L40.14 53.50 L40.60 52.66 L41.06 51.72 L41.52 50.70 L41.98 49.58 L42.44 48.36 L42.90 47.04 L43.36 45.62 L43.82 44.10 L44.28 42.49 L44.74 40.78 L45.20 38.99 L45.66 37.13 L46.12 35.19 L46.58 33.20 L47.04 31.17 L47.50 29.11 L47.96 27.04 L48.42 24.97 L48.88 22.93 L49.34 20.94 L49.80 19.01 L50.26 17.16 L50.72 15.42 L51.18 13.81 L51.64 12.34 L52.10 11.03 L52.56 9.89 L53.02 8.95 L53.48 8.21 L53.94 7.69 L54.40 7.38 L54.86 7.30 L55.32 7.44 L55.78 7.81 L56.24 8.39 L56.70 9.18 L57.16 10.17 L57.62 11.35 L58.08 12.70 L58.54 14.21 L59.00 15.86 L59.46 17.63 L59.92 19.50 L60.38 21.45 L60.84 23.46 L61.30 25.51 L61.76 27.58 L62.22 29.65 L62.68 31.70 L63.14 33.73 L63.60 35.70 L64.06 37.62 L64.52 39.47 L64.98 41.24 L65.44 42.92 L65.90 44.51 L66.36 46.00 L66.82 47.39 L67.28 48.69 L67.74 49.88 L68.20 50.98 L68.66 51.98 L69.12 52.88 L69.58 53.70 L70.04 54.44 L70.50 55.10 L70.96 55.68 L71.42 56.20 L71.88 56.65 L72.34 57.05 L72.80 57.39 L73.26 57.69 L73.72 57.95 L74.18 58.17 L74.64 58.36 L75.10 58.52 L75.56 58.66 L76.02 58.77 L76.48 58.87 L76.94 58.95 L77.40 59.02 L77.86 59.07 L78.32 59.12 L78.78 59.15 L79.24 59.18 L79.70 59.21 L80.16 59.23 L80.62 59.24 L81.08 59.25 L81.54 59.26 L82.00 59.27" fill="none" stroke="#006fed" stroke-width="0.72" opacity="0.85"/><path d="M85.40 118.55 L85.86 118.55 L86.32 118.55 L86.78 118.55 L87.24 118.55 L87.70 118.55 L88.16 118.55 L88.62 118.55 L89.08 118.55 L89.54 118.55 L90.00 118.55 L90.46 118.55 L90.92 118.54 L91.38 118.54 L91.84 118.54 L92.30 118.53 L92.76 118.53 L93.22 118.52 L93.68 118.51 L94.14 118.50 L94.60 118.48 L95.06 118.46 L95.52 118.43 L95.98 118.39 L96.44 118.34 L96.90 118.28 L97.36 118.20 L97.82 118.10 L98.28 117.98 L98.74 117.83 L99.20 117.64 L99.66 117.41 L100.12 117.14 L100.58 116.81 L101.04 116.42 L101.50 115.95 L101.96 115.41 L102.42 114.77 L102.88 114.03 L103.34 113.18 L103.80 112.21 L104.26 111.12 L104.72 109.88 L105.18 108.51 L105.64 107.00 L106.10 105.33 L106.56 103.53 L107.02 101.58 L107.48 99.50 L107.94 97.30 L108.40 95.00 L108.86 92.61 L109.32 90.15 L109.78 87.66 L110.24 85.16 L110.70 82.69 L111.16 80.27 L111.62 77.95 L112.08 75.75 L112.54 73.72 L113.00 71.89 L113.46 70.28 L113.92 68.94 L114.38 67.88 L114.84 67.12 L115.30 66.67 L115.76 66.55 L116.22 66.76 L116.68 67.28 L117.14 68.13 L117.60 69.26 L118.06 70.68 L118.52 72.34 L118.98 74.23 L119.44 76.31 L119.90 78.54 L120.36 80.89 L120.82 83.33 L121.28 85.81 L121.74 88.31 L122.20 90.80 L122.66 93.24 L123.12 95.61 L123.58 97.89 L124.04 100.06 L124.50 102.10 L124.96 104.01 L125.42 105.78 L125.88 107.41 L126.34 108.88 L126.80 110.22 L127.26 111.41 L127.72 112.48 L128.18 113.41 L128.64 114.23 L129.10 114.94 L129.56 115.56 L130.02 116.08 L130.48 116.53 L130.94 116.90 L131.40 117.22 L131.86 117.48 L132.32 117.69 L132.78 117.87 L133.24 118.01 L133.70 118.13 L134.16 118.22 L134.62 118.30 L135.08 118.35 L135.54 118.40 L136.00 118.44 L136.46 118.46 L136.92 118.49 L137.38 118.50 L137.84 118.51 L138.30 118.52 L138.76 118.53 L139.22 118.54 L139.68 118.54 L140.14 118.54 L140.60 118.54" fill="none" stroke="#000866" stroke-width="0.72" opacity="0.85"/><path d="M85.40 118.55 L85.86 118.54 L86.32 118.54 L86.78 118.54 L87.24 118.53 L87.70 118.52 L88.16 118.51 L88.62 118.50 L89.08 118.48 L89.54 118.45 L90.00 118.42 L90.46 118.37 L90.92 118.31 L91.38 118.24 L91.84 118.13 L92.30 118.00 L92.76 117.84 L93.22 117.63 L93.68 117.38 L94.14 117.06 L94.60 116.67 L95.06 116.20 L95.52 115.63 L95.98 114.95 L96.44 114.16 L96.90 113.22 L97.36 112.14 L97.82 110.90 L98.28 109.49 L98.74 107.90 L99.20 106.13 L99.66 104.18 L100.12 102.05 L100.58 99.76 L101.04 97.32 L101.50 94.74 L101.96 92.06 L102.42 89.31 L102.88 86.52 L103.34 83.74 L103.80 81.02 L104.26 78.40 L104.72 75.93 L105.18 73.66 L105.64 71.64 L106.10 69.90 L106.56 68.50 L107.02 67.46 L107.48 66.81 L107.94 66.55 L108.40 66.70 L108.86 67.25 L109.32 68.20 L109.78 69.51 L110.24 71.15 L110.70 73.10 L111.16 75.31 L111.62 77.74 L112.08 80.32 L112.54 83.03 L113.00 85.80 L113.46 88.58 L113.92 91.35 L114.38 94.05 L114.84 96.66 L115.30 99.14 L115.76 101.47 L116.22 103.64 L116.68 105.64 L117.14 107.45 L117.60 109.09 L118.06 110.55 L118.52 111.83 L118.98 112.95 L119.44 113.93 L119.90 114.76 L120.36 115.47 L120.82 116.06 L121.28 116.56 L121.74 116.97 L122.20 117.30 L122.66 117.57 L123.12 117.79 L123.58 117.97 L124.04 118.10 L124.50 118.21 L124.96 118.30 L125.42 118.36 L125.88 118.41 L126.34 118.45 L126.80 118.47 L127.26 118.50 L127.72 118.51 L128.18 118.52 L128.64 118.53 L129.10 118.54 L129.56 118.54 L130.02 118.54 L130.48 118.55 L130.94 118.55 L131.40 118.55 L131.86 118.55 L132.32 118.55 L132.78 118.55 L133.24 118.55 L133.70 118.55 L134.16 118.55 L134.62 118.55 L135.08 118.55 L135.54 118.55 L136.00 118.55 L136.46 118.55 L136.92 118.55 L137.38 118.55 L137.84 118.55 L138.30 118.55 L138.76 118.55 L139.22 118.55 L139.68 118.55 L140.14 118.55 L140.60 118.55" fill="none" stroke="#009966" stroke-width="0.72" opacity="0.85"/><path d="M85.40 118.55 L85.86 118.55 L86.32 118.55 L86.78 118.55 L87.24 118.55 L87.70 118.55 L88.16 118.55 L88.62 118.54 L89.08 118.54 L89.54 118.54 L90.00 118.53 L90.46 118.52 L90.92 118.51 L91.38 118.50 L91.84 118.48 L92.30 118.45 L92.76 118.42 L93.22 118.37 L93.68 118.31 L94.14 118.24 L94.60 118.14 L95.06 118.02 L95.52 117.86 L95.98 117.67 L96.44 117.43 L96.90 117.14 L97.36 116.78 L97.82 116.35 L98.28 115.83 L98.74 115.22 L99.20 114.50 L99.66 113.65 L100.12 112.68 L100.58 111.56 L101.04 110.29 L101.50 108.86 L101.96 107.26 L102.42 105.49 L102.88 103.56 L103.34 101.47 L103.80 99.22 L104.26 96.84 L104.72 94.34 L105.18 91.74 L105.64 89.09 L106.10 86.40 L106.56 83.72 L107.02 81.10 L107.48 78.56 L107.94 76.16 L108.40 73.95 L108.86 71.96 L109.32 70.23 L109.78 68.80 L110.24 67.69 L110.70 66.94 L111.16 66.56 L111.62 66.55 L112.08 66.92 L112.54 67.65 L113.00 68.74 L113.46 70.16 L113.92 71.88 L114.38 73.86 L114.84 76.06 L115.30 78.45 L115.76 80.98 L116.22 83.61 L116.68 86.28 L117.14 88.97 L117.60 91.63 L118.06 94.22 L118.52 96.73 L118.98 99.12 L119.44 101.37 L119.90 103.47 L120.36 105.41 L120.82 107.19 L121.28 108.79 L121.74 110.23 L122.20 111.51 L122.66 112.63 L123.12 113.61 L123.58 114.46 L124.04 115.19 L124.50 115.81 L124.96 116.33 L125.42 116.76 L125.88 117.12 L126.34 117.42 L126.80 117.66 L127.26 117.85 L127.72 118.01 L128.18 118.13 L128.64 118.23 L129.10 118.31 L129.56 118.37 L130.02 118.41 L130.48 118.45 L130.94 118.48 L131.40 118.50 L131.86 118.51 L132.32 118.52 L132.78 118.53 L133.24 118.54 L133.70 118.54 L134.16 118.54 L134.62 118.54 L135.08 118.55 L135.54 118.55 L136.00 118.55 L136.46 118.55 L136.92 118.55 L137.38 118.55 L137.84 118.55 L138.30 118.55 L138.76 118.55 L139.22 118.55 L139.68 118.55 L140.14 118.55 L140.60 118.55" fill="none" stroke="#808080" stroke-width="0.72" opacity="0.85"/><path d="M85.40 118.55 L85.86 118.55 L86.32 118.55 L86.78 118.54 L87.24 118.54 L87.70 118.54 L88.16 118.53 L88.62 118.52 L89.08 118.51 L89.54 118.50 L90.00 118.48 L90.46 118.45 L90.92 118.41 L91.38 118.37 L91.84 118.31 L92.30 118.23 L92.76 118.13 L93.22 118.00 L93.68 117.84 L94.14 117.63 L94.60 117.38 L95.06 117.07 L95.52 116.69 L95.98 116.23 L96.44 115.68 L96.90 115.03 L97.36 114.26 L97.82 113.36 L98.28 112.32 L98.74 111.13 L99.20 109.78 L99.66 108.26 L100.12 106.56 L100.58 104.69 L101.04 102.65 L101.50 100.45 L101.96 98.09 L102.42 95.60 L102.88 93.00 L103.34 90.32 L103.80 87.60 L104.26 84.86 L104.72 82.16 L105.18 79.54 L105.64 77.04 L106.10 74.71 L106.56 72.61 L107.02 70.76 L107.48 69.20 L107.94 67.99 L108.40 67.13 L108.86 66.64 L109.32 66.55 L109.78 66.85 L110.24 67.53 L110.70 68.58 L111.16 69.97 L111.62 71.69 L112.08 73.68 L112.54 75.90 L113.00 78.33 L113.46 80.89 L113.92 83.56 L114.38 86.29 L114.84 89.02 L115.30 91.73 L115.76 94.37 L116.22 96.91 L116.68 99.34 L117.14 101.62 L117.60 103.74 L118.06 105.69 L118.52 107.47 L118.98 109.07 L119.44 110.51 L119.90 111.77 L120.36 112.88 L120.82 113.85 L121.28 114.68 L121.74 115.38 L122.20 115.98 L122.66 116.48 L123.12 116.90 L123.58 117.24 L124.04 117.52 L124.50 117.74 L124.96 117.92 L125.42 118.07 L125.88 118.18 L126.34 118.27 L126.80 118.34 L127.26 118.39 L127.72 118.43 L128.18 118.46 L128.64 118.49 L129.10 118.50 L129.56 118.52 L130.02 118.53 L130.48 118.53 L130.94 118.54 L131.40 118.54 L131.86 118.54 L132.32 118.55 L132.78 118.55 L133.24 118.55 L133.70 118.55 L134.16 118.55 L134.62 118.55 L135.08 118.55 L135.54 118.55 L136.00 118.55 L136.46 118.55 L136.92 118.55 L137.38 118.55 L137.84 118.55 L138.30 118.55 L138.76 118.55 L139.22 118.55 L139.68 118.55 L140.14 118.55 L140.60 118.55" fill="none" stroke="#e03424" stroke-width="0.72" opacity="0.85"/><path d="M85.40 118.55 L85.86 118.54 L86.32 118.54 L86.78 118.54 L87.24 118.53 L87.70 118.53 L88.16 118.52 L88.62 118.50 L89.08 118.49 L89.54 118.46 L90.00 118.43 L90.46 118.39 L90.92 118.33 L91.38 118.25 L91.84 118.16 L92.30 118.04 L92.76 117.88 L93.22 117.68 L93.68 117.44 L94.14 117.13 L94.60 116.76 L95.06 116.31 L95.52 115.76 L95.98 115.11 L96.44 114.34 L96.90 113.43 L97.36 112.39 L97.82 111.18 L98.28 109.80 L98.74 108.25 L99.20 106.52 L99.66 104.61 L100.12 102.52 L100.58 100.27 L101.04 97.85 L101.50 95.30 L101.96 92.64 L102.42 89.90 L102.88 87.12 L103.34 84.33 L103.80 81.59 L104.26 78.94 L104.72 76.43 L105.18 74.11 L105.64 72.03 L106.10 70.23 L106.56 68.76 L107.02 67.64 L107.48 66.89 L107.94 66.55 L108.40 66.61 L108.86 67.08 L109.32 67.94 L109.78 69.17 L110.24 70.75 L110.70 72.64 L111.16 74.80 L111.62 77.18 L112.08 79.73 L112.54 82.42 L113.00 85.18 L113.46 87.97 L113.92 90.74 L114.38 93.46 L114.84 96.09 L115.30 98.60 L115.76 100.97 L116.22 103.18 L116.68 105.21 L117.14 107.07 L117.60 108.74 L118.06 110.24 L118.52 111.56 L118.98 112.72 L119.44 113.72 L119.90 114.59 L120.36 115.32 L120.82 115.94 L121.28 116.45 L121.74 116.88 L122.20 117.23 L122.66 117.52 L123.12 117.75 L123.58 117.93 L124.04 118.08 L124.50 118.19 L124.96 118.28 L125.42 118.35 L125.88 118.40 L126.34 118.44 L126.80 118.47 L127.26 118.49 L127.72 118.51 L128.18 118.52 L128.64 118.53 L129.10 118.54 L129.56 118.54 L130.02 118.54 L130.48 118.55 L130.94 118.55 L131.40 118.55 L131.86 118.55 L132.32 118.55 L132.78 118.55 L133.24 118.55 L133.70 118.55 L134.16 118.55 L134.62 118.55 L135.08 118.55 L135.54 118.55 L136.00 118.55 L136.46 118.55 L136.92 118.55 L137.38 118.55 L137.84 118.55 L138.30 118.55 L138.76 118.55 L139.22 118.55 L139.68 118.55 L140.14 118.55 L140.60 118.55" fill="none" stroke="#006fed" stroke-width="0.72" opacity="0.85"/><path d="M144.00 177.80 L144.46 177.80 L144.92 177.80 L145.38 177.80 L145.84 177.80 L146.30 177.80 L146.76 177.80 L147.22 177.79 L147.68 177.79 L148.14 177.79 L148.60 177.78 L149.06 177.78 L149.52 177.77 L149.98 177.76 L150.44 177.75 L150.90 177.74 L151.36 177.72 L151.82 177.70 L152.28 177.67 L152.74 177.64 L153.20 177.59 L153.66 177.54 L154.12 177.47 L154.58 177.39 L155.04 177.29 L155.50 177.17 L155.96 177.02 L156.42 176.85 L156.88 176.64 L157.34 176.39 L157.80 176.10 L158.26 175.76 L158.72 175.36 L159.18 174.90 L159.64 174.37 L160.10 173.77 L160.56 173.08 L161.02 172.30 L161.48 171.43 L161.94 170.45 L162.40 169.37 L162.86 168.18 L163.32 166.87 L163.78 165.44 L164.24 163.90 L164.70 162.25 L165.16 160.49 L165.62 158.62 L166.08 156.66 L166.54 154.61 L167.00 152.49 L167.46 150.31 L167.92 148.10 L168.38 145.87 L168.84 143.65 L169.30 141.45 L169.76 139.30 L170.22 137.23 L170.68 135.26 L171.14 133.42 L171.60 131.73 L172.06 130.22 L172.52 128.90 L172.98 127.80 L173.44 126.93 L173.90 126.30 L174.36 125.92 L174.82 125.80 L175.28 125.94 L175.74 126.34 L176.20 126.99 L176.66 127.89 L177.12 129.01 L177.58 130.34 L178.04 131.87 L178.50 133.58 L178.96 135.43 L179.42 137.41 L179.88 139.48 L180.34 141.64 L180.80 143.84 L181.26 146.07 L181.72 148.30 L182.18 150.51 L182.64 152.68 L183.10 154.79 L183.56 156.83 L184.02 158.78 L184.48 160.64 L184.94 162.40 L185.40 164.04 L185.86 165.57 L186.32 166.99 L186.78 168.29 L187.24 169.47 L187.70 170.54 L188.16 171.51 L188.62 172.38 L189.08 173.14 L189.54 173.82 L190.00 174.42 L190.46 174.95 L190.92 175.40 L191.38 175.79 L191.84 176.13 L192.30 176.41 L192.76 176.66 L193.22 176.86 L193.68 177.03 L194.14 177.18 L194.60 177.30 L195.06 177.40 L195.52 177.48 L195.98 177.54 L196.44 177.60 L196.90 177.64 L197.36 177.67 L197.82 177.70 L198.28 177.72 L198.74 177.74 L199.20 177.75" fill="none" stroke="#000866" stroke-width="0.72" opacity="0.85"/><path d="M144.00 177.80 L144.46 177.80 L144.92 177.79 L145.38 177.79 L145.84 177.79 L146.30 177.78 L146.76 177.78 L147.22 177.77 L147.68 177.76 L148.14 177.75 L148.60 177.74 L149.06 177.72 L149.52 177.70 L149.98 177.67 L150.44 177.64 L150.90 177.59 L151.36 177.54 L151.82 177.47 L152.28 177.39 L152.74 177.29 L153.20 177.17 L153.66 177.02 L154.12 176.85 L154.58 176.64 L155.04 176.39 L155.50 176.10 L155.96 175.76 L156.42 175.36 L156.88 174.90 L157.34 174.37 L157.80 173.77 L158.26 173.08 L158.72 172.30 L159.18 171.43 L159.64 170.45 L160.10 169.37 L160.56 168.18 L161.02 166.87 L161.48 165.44 L161.94 163.90 L162.40 162.25 L162.86 160.49 L163.32 158.62 L163.78 156.66 L164.24 154.61 L164.70 152.49 L165.16 150.31 L165.62 148.10 L166.08 145.87 L166.54 143.65 L167.00 141.45 L167.46 139.30 L167.92 137.23 L168.38 135.26 L168.84 133.42 L169.30 131.73 L169.76 130.22 L170.22 128.90 L170.68 127.80 L171.14 126.93 L171.60 126.30 L172.06 125.92 L172.52 125.80 L172.98 125.94 L173.44 126.34 L173.90 126.99 L174.36 127.89 L174.82 129.01 L175.28 130.34 L175.74 131.87 L176.20 133.58 L176.66 135.43 L177.12 137.41 L177.58 139.48 L178.04 141.64 L178.50 143.84 L178.96 146.07 L179.42 148.30 L179.88 150.51 L180.34 152.68 L180.80 154.79 L181.26 156.83 L181.72 158.78 L182.18 160.64 L182.64 162.40 L183.10 164.04 L183.56 165.57 L184.02 166.99 L184.48 168.29 L184.94 169.47 L185.40 170.54 L185.86 171.51 L186.32 172.38 L186.78 173.14 L187.24 173.82 L187.70 174.42 L188.16 174.95 L188.62 175.40 L189.08 175.79 L189.54 176.13 L190.00 176.41 L190.46 176.66 L190.92 176.86 L191.38 177.03 L191.84 177.18 L192.30 177.30 L192.76 177.40 L193.22 177.48 L193.68 177.54 L194.14 177.60 L194.60 177.64 L195.06 177.67 L195.52 177.70 L195.98 177.72 L196.44 177.74 L196.90 177.75 L197.36 177.77 L197.82 177.77 L198.28 177.78 L198.74 177.78 L199.20 177.79" fill="none" stroke="#009966" stroke-width="0.72" opacity="0.85"/><path d="M144.00 177.80 L144.46 177.80 L144.92 177.80 L145.38 177.80 L145.84 177.80 L146.30 177.80 L146.76 177.80 L147.22 177.80 L147.68 177.79 L148.14 177.79 L148.60 177.79 L149.06 177.78 L149.52 177.78 L149.98 177.77 L150.44 177.77 L150.90 177.75 L151.36 177.74 L151.82 177.72 L152.28 177.70 L152.74 177.67 L153.20 177.64 L153.66 177.60 L154.12 177.54 L154.58 177.48 L155.04 177.40 L155.50 177.30 L155.96 177.18 L156.42 177.03 L156.88 176.86 L157.34 176.66 L157.80 176.41 L158.26 176.13 L158.72 175.79 L159.18 175.40 L159.64 174.95 L160.10 174.42 L160.56 173.82 L161.02 173.14 L161.48 172.38 L161.94 171.51 L162.40 170.54 L162.86 169.47 L163.32 168.29 L163.78 166.99 L164.24 165.57 L164.70 164.04 L165.16 162.40 L165.62 160.64 L166.08 158.78 L166.54 156.83 L167.00 154.79 L167.46 152.68 L167.92 150.51 L168.38 148.30 L168.84 146.07 L169.30 143.84 L169.76 141.64 L170.22 139.48 L170.68 137.41 L171.14 135.43 L171.60 133.58 L172.06 131.87 L172.52 130.34 L172.98 129.01 L173.44 127.89 L173.90 126.99 L174.36 126.34 L174.82 125.94 L175.28 125.80 L175.74 125.92 L176.20 126.30 L176.66 126.93 L177.12 127.80 L177.58 128.90 L178.04 130.22 L178.50 131.73 L178.96 133.42 L179.42 135.26 L179.88 137.23 L180.34 139.30 L180.80 141.45 L181.26 143.65 L181.72 145.87 L182.18 148.10 L182.64 150.31 L183.10 152.49 L183.56 154.61 L184.02 156.66 L184.48 158.62 L184.94 160.49 L185.40 162.25 L185.86 163.90 L186.32 165.44 L186.78 166.87 L187.24 168.18 L187.70 169.37 L188.16 170.45 L188.62 171.43 L189.08 172.30 L189.54 173.08 L190.00 173.77 L190.46 174.37 L190.92 174.90 L191.38 175.36 L191.84 175.76 L192.30 176.10 L192.76 176.39 L193.22 176.64 L193.68 176.85 L194.14 177.02 L194.60 177.17 L195.06 177.29 L195.52 177.39 L195.98 177.47 L196.44 177.54 L196.90 177.59 L197.36 177.64 L197.82 177.67 L198.28 177.70 L198.74 177.72 L199.20 177.74" fill="none" stroke="#808080" stroke-width="0.72" opacity="0.85"/><path d="M144.00 177.80 L144.46 177.80 L144.92 177.80 L145.38 177.80 L145.84 177.80 L146.30 177.80 L146.76 177.80 L147.22 177.80 L147.68 177.80 L148.14 177.80 L148.60 177.79 L149.06 177.79 L149.52 177.79 L149.98 177.79 L150.44 177.78 L150.90 177.78 L151.36 177.77 L151.82 177.76 L152.28 177.75 L152.74 177.73 L153.20 177.72 L153.66 177.69 L154.12 177.66 L154.58 177.62 L155.04 177.58 L155.50 177.52 L155.96 177.45 L156.42 177.36 L156.88 177.25 L157.34 177.12 L157.80 176.97 L158.26 176.79 L158.72 176.57 L159.18 176.31 L159.64 176.00 L160.10 175.64 L160.56 175.23 L161.02 174.75 L161.48 174.20 L161.94 173.57 L162.40 172.85 L162.86 172.05 L163.32 171.14 L163.78 170.13 L164.24 169.02 L164.70 167.79 L165.16 166.44 L165.62 164.98 L166.08 163.41 L166.54 161.72 L167.00 159.92 L167.46 158.02 L167.92 156.03 L168.38 153.96 L168.84 151.82 L169.30 149.64 L169.76 147.42 L170.22 145.18 L170.68 142.96 L171.14 140.78 L171.60 138.65 L172.06 136.61 L172.52 134.68 L172.98 132.88 L173.44 131.24 L173.90 129.78 L174.36 128.53 L174.82 127.49 L175.28 126.69 L175.74 126.14 L176.20 125.84 L176.66 125.80 L177.12 126.02 L177.58 126.50 L178.04 127.22 L178.50 128.19 L178.96 129.38 L179.42 130.78 L179.88 132.36 L180.34 134.11 L180.80 136.01 L181.26 138.02 L181.72 140.12 L182.18 142.29 L182.64 144.51 L183.10 146.74 L183.56 148.96 L184.02 151.16 L184.48 153.32 L184.94 155.41 L185.40 157.43 L185.86 159.36 L186.32 161.18 L186.78 162.91 L187.24 164.52 L187.70 166.01 L188.16 167.39 L188.62 168.66 L189.08 169.81 L189.54 170.85 L190.00 171.78 L190.46 172.62 L190.92 173.36 L191.38 174.01 L191.84 174.59 L192.30 175.09 L192.76 175.52 L193.22 175.90 L193.68 176.22 L194.14 176.49 L194.60 176.72 L195.06 176.92 L195.52 177.08 L195.98 177.22 L196.44 177.33 L196.90 177.42 L197.36 177.50 L197.82 177.56 L198.28 177.61 L198.74 177.65 L199.20 177.68" fill="none" stroke="#e03424" stroke-width="0.72" opacity="0.85"/><path d="M144.00 177.80 L144.46 177.80 L144.92 177.80 L145.38 177.80 L145.84 177.80 L146.30 177.79 L146.76 177.79 L147.22 177.79 L147.68 177.79 L148.14 177.78 L148.60 177.78 L149.06 177.77 L149.52 177.76 L149.98 177.75 L150.44 177.73 L150.90 177.71 L151.36 177.69 L151.82 177.66 L152.28 177.62 L152.74 177.57 L153.20 177.51 L153.66 177.43 L154.12 177.34 L154.58 177.23 L155.04 177.09 L155.50 176.93 L155.96 176.73 L156.42 176.50 L156.88 176.22 L157.34 175.90 L157.80 175.52 L158.26 175.07 L158.72 174.56 L159.18 173.97 L159.64 173.30 L160.10 172.54 L160.56 171.68 L161.02 170.72 L161.48 169.65 L161.94 168.46 L162.40 167.16 L162.86 165.73 L163.32 164.19 L163.78 162.53 L164.24 160.76 L164.70 158.87 L165.16 156.89 L165.62 154.82 L166.08 152.68 L166.54 150.47 L167.00 148.23 L167.46 145.96 L167.92 143.70 L168.38 141.47 L168.84 139.28 L169.30 137.18 L169.76 135.19 L170.22 133.33 L170.68 131.62 L171.14 130.10 L171.60 128.78 L172.06 127.68 L172.52 126.82 L172.98 126.22 L173.44 125.88 L173.90 125.80 L174.36 125.99 L174.82 126.45 L175.28 127.17 L175.74 128.13 L176.20 129.32 L176.66 130.74 L177.12 132.34 L177.58 134.12 L178.04 136.04 L178.50 138.09 L178.96 140.22 L179.42 142.43 L179.88 144.68 L180.34 146.95 L180.80 149.21 L181.26 151.44 L181.72 153.62 L182.18 155.73 L182.64 157.77 L183.10 159.71 L183.56 161.54 L184.02 163.27 L184.48 164.88 L184.94 166.37 L185.40 167.74 L185.86 168.99 L186.32 170.13 L186.78 171.15 L187.24 172.07 L187.70 172.88 L188.16 173.60 L188.62 174.24 L189.08 174.79 L189.54 175.27 L190.00 175.69 L190.46 176.04 L190.92 176.35 L191.38 176.60 L191.84 176.82 L192.30 177.00 L192.76 177.15 L193.22 177.28 L193.68 177.38 L194.14 177.47 L194.60 177.54 L195.06 177.59 L195.52 177.64 L195.98 177.67 L196.44 177.70 L196.90 177.72 L197.36 177.74 L197.82 177.75 L198.28 177.77 L198.74 177.77 L199.20 177.78" fill="none" stroke="#006fed" stroke-width="0.72" opacity="0.85"/><path d="M202.60 237.01 L203.06 237.00 L203.52 236.98 L203.98 236.97 L204.44 236.95 L204.90 236.92 L205.36 236.89 L205.82 236.85 L206.28 236.81 L206.74 236.75 L207.20 236.69 L207.66 236.61 L208.12 236.51 L208.58 236.40 L209.04 236.27 L209.50 236.12 L209.96 235.94 L210.42 235.73 L210.88 235.48 L211.34 235.20 L211.80 234.88 L212.26 234.51 L212.72 234.09 L213.18 233.62 L213.64 233.08 L214.10 232.48 L214.56 231.81 L215.02 231.07 L215.48 230.24 L215.94 229.33 L216.40 228.34 L216.86 227.26 L217.32 226.08 L217.78 224.82 L218.24 223.46 L218.70 222.01 L219.16 220.48 L219.62 218.86 L220.08 217.16 L220.54 215.38 L221.00 213.55 L221.46 211.66 L221.92 209.72 L222.38 207.75 L222.84 205.77 L223.30 203.78 L223.76 201.81 L224.22 199.87 L224.68 197.98 L225.14 196.15 L225.60 194.41 L226.06 192.77 L226.52 191.25 L226.98 189.87 L227.44 188.64 L227.90 187.57 L228.36 186.68 L228.82 185.97 L229.28 185.46 L229.74 185.15 L230.20 185.05 L230.66 185.30 L231.12 186.04 L231.58 187.24 L232.04 188.89 L232.50 190.92 L232.96 193.29 L233.42 195.93 L233.88 198.78 L234.34 201.77 L234.80 204.84 L235.26 207.92 L235.72 210.96 L236.18 213.90 L236.64 216.71 L237.10 219.35 L237.56 221.79 L238.02 224.02 L238.48 226.03 L238.94 227.82 L239.40 229.39 L239.86 230.76 L240.32 231.93 L240.78 232.92 L241.24 233.75 L241.70 234.44 L242.16 235.01 L242.62 235.47 L243.08 235.83 L243.54 236.12 L244.00 236.35 L244.46 236.53 L244.92 236.66 L245.38 236.77 L245.84 236.85 L246.30 236.90 L246.76 236.95 L247.22 236.98 L247.68 237.00 L248.14 237.01 L248.60 237.03 L249.06 237.03 L249.52 237.04 L249.98 237.04 L250.44 237.05 L250.90 237.05 L251.36 237.05 L251.82 237.05 L252.28 237.05 L252.74 237.05 L253.20 237.05 L253.66 237.05 L254.12 237.05 L254.58 237.05 L255.04 237.05 L255.50 237.05 L255.96 237.05 L256.42 237.05 L256.88 237.05 L257.34 237.05 L257.80 237.05" fill="none" stroke="#000866" stroke-width="0.72" opacity="0.85"/><path d="M202.60 237.05 L203.06 237.05 L203.52 237.05 L203.98 237.05 L204.44 237.05 L204.90 237.05 L205.36 237.05 L205.82 237.05 L206.28 237.05 L206.74 237.05 L207.20 237.05 L207.66 237.05 L208.12 237.05 L208.58 237.05 L209.04 237.05 L209.50 237.05 L209.96 237.05 L210.42 237.05 L210.88 237.05 L211.34 237.05 L211.80 237.05 L212.26 237.05 L212.72 237.05 L213.18 237.05 L213.64 237.05 L214.10 237.05 L214.56 237.05 L215.02 237.05 L215.48 237.05 L215.94 237.05 L216.40 237.05 L216.86 237.05 L217.32 237.04 L217.78 237.04 L218.24 237.03 L218.70 237.03 L219.16 237.01 L219.62 237.00 L220.08 236.97 L220.54 236.94 L221.00 236.90 L221.46 236.83 L221.92 236.75 L222.38 236.64 L222.84 236.49 L223.30 236.30 L223.76 236.06 L224.22 235.74 L224.68 235.34 L225.14 234.84 L225.60 234.22 L226.06 233.47 L226.52 232.56 L226.98 231.47 L227.44 230.19 L227.90 228.71 L228.36 227.00 L228.82 225.06 L229.28 222.89 L229.74 220.50 L230.20 217.89 L230.66 215.09 L231.12 212.13 L231.58 209.06 L232.04 205.92 L232.50 202.77 L232.96 199.68 L233.42 196.72 L233.88 193.95 L234.34 191.46 L234.80 189.30 L235.26 187.53 L235.72 186.21 L236.18 185.38 L236.64 185.05 L237.10 185.27 L237.56 186.08 L238.02 187.44 L238.48 189.32 L238.94 191.64 L239.40 194.35 L239.86 197.35 L240.32 200.56 L240.78 203.90 L241.24 207.27 L241.70 210.60 L242.16 213.83 L242.62 216.89 L243.08 219.75 L243.54 222.37 L244.00 224.74 L244.46 226.84 L244.92 228.68 L245.38 230.27 L245.84 231.62 L246.30 232.75 L246.76 233.68 L247.22 234.44 L247.68 235.05 L248.14 235.54 L248.60 235.92 L249.06 236.21 L249.52 236.44 L249.98 236.61 L250.44 236.73 L250.90 236.83 L251.36 236.89 L251.82 236.94 L252.28 236.98 L252.74 237.00 L253.20 237.02 L253.66 237.03 L254.12 237.04 L254.58 237.04 L255.04 237.04 L255.50 237.05 L255.96 237.05 L256.42 237.05 L256.88 237.05 L257.34 237.05 L257.80 237.05" fill="none" stroke="#009966" stroke-width="0.72" opacity="0.85"/><path d="M202.60 237.05 L203.06 237.05 L203.52 237.05 L203.98 237.05 L204.44 237.05 L204.90 237.05 L205.36 237.05 L205.82 237.05 L206.28 237.05 L206.74 237.05 L207.20 237.05 L207.66 237.05 L208.12 237.05 L208.58 237.05 L209.04 237.05 L209.50 237.05 L209.96 237.05 L210.42 237.05 L210.88 237.05 L211.34 237.05 L211.80 237.05 L212.26 237.05 L212.72 237.05 L213.18 237.05 L213.64 237.05 L214.10 237.05 L214.56 237.05 L215.02 237.05 L215.48 237.05 L215.94 237.05 L216.40 237.05 L216.86 237.05 L217.32 237.05 L217.78 237.05 L218.24 237.05 L218.70 237.05 L219.16 237.05 L219.62 237.04 L220.08 237.04 L220.54 237.03 L221.00 237.02 L221.46 237.01 L221.92 236.99 L222.38 236.96 L222.84 236.92 L223.30 236.86 L223.76 236.78 L224.22 236.67 L224.68 236.52 L225.14 236.32 L225.60 236.06 L226.06 235.72 L226.52 235.28 L226.98 234.72 L227.44 234.03 L227.90 233.17 L228.36 232.13 L228.82 230.88 L229.28 229.40 L229.74 227.67 L230.20 225.68 L230.66 223.43 L231.12 220.92 L231.58 218.15 L232.04 215.17 L232.50 212.01 L232.96 208.71 L233.42 205.35 L233.88 201.99 L234.34 198.71 L234.80 195.61 L235.26 192.76 L235.72 190.26 L236.18 188.17 L236.64 186.58 L237.10 185.53 L237.56 185.05 L238.02 185.18 L238.48 185.96 L238.94 187.35 L239.40 189.31 L239.86 191.76 L240.32 194.63 L240.78 197.81 L241.24 201.21 L241.70 204.72 L242.16 208.26 L242.62 211.73 L243.08 215.05 L243.54 218.18 L244.00 221.07 L244.46 223.69 L244.92 226.01 L245.38 228.05 L245.84 229.80 L246.30 231.28 L246.76 232.52 L247.22 233.54 L247.68 234.36 L248.14 235.02 L248.60 235.53 L249.06 235.93 L249.52 236.23 L249.98 236.46 L250.44 236.63 L250.90 236.76 L251.36 236.85 L251.82 236.91 L252.28 236.96 L252.74 236.99 L253.20 237.01 L253.66 237.02 L254.12 237.03 L254.58 237.04 L255.04 237.04 L255.50 237.05 L255.96 237.05 L256.42 237.05 L256.88 237.05 L257.34 237.05 L257.80 237.05" fill="none" stroke="#808080" stroke-width="0.72" opacity="0.85"/><path d="M202.60 237.05 L203.06 237.05 L203.52 237.05 L203.98 237.05 L204.44 237.05 L204.90 237.05 L205.36 237.05 L205.82 237.05 L206.28 237.05 L206.74 237.05 L207.20 237.05 L207.66 237.05 L208.12 237.05 L208.58 237.05 L209.04 237.05 L209.50 237.05 L209.96 237.05 L210.42 237.05 L210.88 237.05 L211.34 237.05 L211.80 237.05 L212.26 237.05 L212.72 237.05 L213.18 237.05 L213.64 237.05 L214.10 237.05 L214.56 237.05 L215.02 237.05 L215.48 237.05 L215.94 237.05 L216.40 237.05 L216.86 237.05 L217.32 237.05 L217.78 237.05 L218.24 237.05 L218.70 237.05 L219.16 237.05 L219.62 237.05 L220.08 237.05 L220.54 237.05 L221.00 237.05 L221.46 237.05 L221.92 237.05 L222.38 237.04 L222.84 237.04 L223.30 237.03 L223.76 237.02 L224.22 237.01 L224.68 236.99 L225.14 236.95 L225.60 236.91 L226.06 236.84 L226.52 236.75 L226.98 236.63 L227.44 236.45 L227.90 236.22 L228.36 235.91 L228.82 235.51 L229.28 234.99 L229.74 234.33 L230.20 233.50 L230.66 232.47 L231.12 231.22 L231.58 229.73 L232.04 227.96 L232.50 225.91 L232.96 223.58 L233.42 220.95 L233.88 218.05 L234.34 214.91 L234.80 211.57 L235.26 208.10 L235.72 204.56 L236.18 201.05 L236.64 197.66 L237.10 194.49 L237.56 191.64 L238.02 189.20 L238.48 187.26 L238.94 185.89 L239.40 185.15 L239.86 185.05 L240.32 185.63 L240.78 186.87 L241.24 188.73 L241.70 191.12 L242.16 193.98 L242.62 197.18 L243.08 200.63 L243.54 204.22 L244.00 207.85 L244.46 211.41 L244.92 214.84 L245.38 218.06 L245.84 221.03 L246.30 223.71 L246.76 226.09 L247.22 228.16 L247.68 229.94 L248.14 231.43 L248.60 232.67 L249.06 233.68 L249.52 234.49 L249.98 235.14 L250.44 235.63 L250.90 236.02 L251.36 236.31 L251.82 236.52 L252.28 236.68 L252.74 236.79 L253.20 236.88 L253.66 236.93 L254.12 236.97 L254.58 237.00 L255.04 237.02 L255.50 237.03 L255.96 237.04 L256.42 237.04 L256.88 237.04 L257.34 237.05 L257.80 237.05" fill="none" stroke="#e03424" stroke-width="0.72" opacity="0.85"/><path d="M202.60 237.05 L203.06 237.05 L203.52 237.05 L203.98 237.05 L204.44 237.05 L204.90 237.05 L205.36 237.05 L205.82 237.05 L206.28 237.05 L206.74 237.05 L207.20 237.05 L207.66 237.05 L208.12 237.05 L208.58 237.05 L209.04 237.05 L209.50 237.05 L209.96 237.05 L210.42 237.05 L210.88 237.05 L211.34 237.05 L211.80 237.05 L212.26 237.05 L212.72 237.05 L213.18 237.05 L213.64 237.05 L214.10 237.05 L214.56 237.05 L215.02 237.05 L215.48 237.05 L215.94 237.05 L216.40 237.05 L216.86 237.05 L217.32 237.05 L217.78 237.05 L218.24 237.05 L218.70 237.05 L219.16 237.05 L219.62 237.05 L220.08 237.05 L220.54 237.05 L221.00 237.05 L221.46 237.04 L221.92 237.04 L222.38 237.03 L222.84 237.02 L223.30 237.01 L223.76 236.99 L224.22 236.96 L224.68 236.91 L225.14 236.85 L225.60 236.76 L226.06 236.63 L226.52 236.46 L226.98 236.23 L227.44 235.93 L227.90 235.53 L228.36 235.02 L228.82 234.36 L229.28 233.54 L229.74 232.52 L230.20 231.28 L230.66 229.80 L231.12 228.05 L231.58 226.01 L232.04 223.69 L232.50 221.07 L232.96 218.18 L233.42 215.05 L233.88 211.72 L234.34 208.26 L234.80 204.72 L235.26 201.21 L235.72 197.81 L236.18 194.63 L236.64 191.76 L237.10 189.30 L237.56 187.34 L238.02 185.95 L238.48 185.18 L238.94 185.05 L239.40 185.60 L239.86 186.81 L240.32 188.64 L240.78 191.02 L241.24 193.85 L241.70 197.04 L242.16 200.49 L242.62 204.07 L243.08 207.70 L243.54 211.27 L244.00 214.70 L244.46 217.93 L244.92 220.91 L245.38 223.60 L245.84 225.99 L246.30 228.08 L246.76 229.87 L247.22 231.37 L247.68 232.62 L248.14 233.64 L248.60 234.46 L249.06 235.11 L249.52 235.62 L249.98 236.00 L250.44 236.30 L250.90 236.51 L251.36 236.67 L251.82 236.79 L252.28 236.87 L252.74 236.93 L253.20 236.97 L253.66 237.00 L254.12 237.02 L254.58 237.03 L255.04 237.04 L255.50 237.04 L255.96 237.04 L256.42 237.05 L256.88 237.05 L257.34 237.05 L257.80 237.05" fill="none" stroke="#006fed" stroke-width="0.72" opacity="0.85"/><path d="M265.00 295.90 L270.00 295.30 L275.50 293.50 L280.00 291.50 L285.40 288.00 L287.50 284.00 L289.60 278.00 L291.50 271.50 L293.70 264.00 L295.50 254.00 L297.30 244.50 L298.50 247.00 L299.50 249.30 L301.00 250.50 L301.80 252.00 L303.00 262.00 L303.80 270.00 L304.80 280.00 L306.00 290.50 L307.00 295.00 L308.50 296.30" fill="none" stroke="#000866" stroke-width="0.72" opacity="0.85" stroke-linejoin="round"/><path d="M261.20 296.30 L261.66 296.30 L262.12 296.30 L262.58 296.30 L263.04 296.30 L263.50 296.30 L263.96 296.30 L264.42 296.30 L264.88 296.30 L265.34 296.30 L265.80 296.30 L266.26 296.30 L266.72 296.30 L267.18 296.30 L267.64 296.30 L268.10 296.30 L268.56 296.30 L269.02 296.30 L269.48 296.30 L269.94 296.30 L270.40 296.30 L270.86 296.30 L271.32 296.30 L271.78 296.30 L272.24 296.30 L272.70 296.30 L273.16 296.30 L273.62 296.30 L274.08 296.30 L274.54 296.30 L275.00 296.30 L275.46 296.30 L275.92 296.30 L276.38 296.30 L276.84 296.30 L277.30 296.30 L277.76 296.30 L278.22 296.30 L278.68 296.30 L279.14 296.30 L279.60 296.30 L280.06 296.30 L280.52 296.30 L280.98 296.30 L281.44 296.30 L281.90 296.30 L282.36 296.30 L282.82 296.30 L283.28 296.30 L283.74 296.30 L284.20 296.30 L284.66 296.30 L285.12 296.30 L285.58 296.30 L286.04 296.30 L286.50 296.30 L286.96 296.30 L287.42 296.30 L287.88 296.30 L288.34 296.30 L288.80 296.30 L289.26 296.30 L289.72 296.30 L290.18 296.30 L290.64 296.30 L291.10 296.30 L291.56 296.30 L292.02 296.30 L292.48 296.30 L292.94 296.30 L293.40 296.30 L293.86 296.30 L294.32 296.30 L294.78 296.30 L295.24 296.30 L295.70 296.30 L296.16 296.30 L296.62 296.30 L297.08 296.30 L297.54 296.30 L298.00 296.30 L298.46 296.30 L298.92 296.30 L299.38 296.30 L299.84 296.30 L300.30 296.29 L300.76 296.27 L301.22 296.16 L301.68 295.75 L302.14 294.52 L302.60 291.47 L303.06 285.27 L303.52 275.18 L303.98 262.33 L304.44 250.43 L304.90 244.30 L305.36 246.81 L305.82 256.75 L306.28 269.77 L306.74 281.36 L307.20 289.23 L307.66 293.49 L308.12 295.36 L308.58 296.04 L309.04 296.24 L309.50 296.29 L309.96 296.30 L310.42 296.30 L310.88 296.30 L311.34 296.30 L311.80 296.30 L312.26 296.30 L312.72 296.30 L313.18 296.30 L313.64 296.30 L314.10 296.30 L314.56 296.30 L315.02 296.30 L315.48 296.30 L315.94 296.30 L316.40 296.30" fill="none" stroke="#808080" stroke-width="0.72" opacity="0.85"/><path d="M261.20 296.30 L261.66 296.30 L262.12 296.30 L262.58 296.30 L263.04 296.30 L263.50 296.30 L263.96 296.30 L264.42 296.30 L264.88 296.30 L265.34 296.30 L265.80 296.30 L266.26 296.30 L266.72 296.30 L267.18 296.30 L267.64 296.30 L268.10 296.30 L268.56 296.30 L269.02 296.30 L269.48 296.30 L269.94 296.30 L270.40 296.30 L270.86 296.30 L271.32 296.30 L271.78 296.30 L272.24 296.30 L272.70 296.30 L273.16 296.30 L273.62 296.30 L274.08 296.30 L274.54 296.30 L275.00 296.30 L275.46 296.30 L275.92 296.30 L276.38 296.30 L276.84 296.30 L277.30 296.30 L277.76 296.30 L278.22 296.30 L278.68 296.30 L279.14 296.30 L279.60 296.30 L280.06 296.30 L280.52 296.30 L280.98 296.30 L281.44 296.30 L281.90 296.30 L282.36 296.30 L282.82 296.30 L283.28 296.30 L283.74 296.30 L284.20 296.30 L284.66 296.30 L285.12 296.30 L285.58 296.30 L286.04 296.30 L286.50 296.30 L286.96 296.30 L287.42 296.30 L287.88 296.30 L288.34 296.30 L288.80 296.30 L289.26 296.30 L289.72 296.30 L290.18 296.30 L290.64 296.30 L291.10 296.30 L291.56 296.30 L292.02 296.30 L292.48 296.30 L292.94 296.30 L293.40 296.30 L293.86 296.30 L294.32 296.30 L294.78 296.30 L295.24 296.30 L295.70 296.30 L296.16 296.30 L296.62 296.30 L297.08 296.30 L297.54 296.30 L298.00 296.30 L298.46 296.30 L298.92 296.30 L299.38 296.30 L299.84 296.30 L300.30 296.30 L300.76 296.30 L301.22 296.30 L301.68 296.30 L302.14 296.30 L302.60 296.30 L303.06 296.30 L303.52 296.30 L303.98 296.29 L304.44 296.24 L304.90 296.05 L305.36 295.41 L305.82 293.62 L306.28 289.50 L306.74 281.80 L307.20 270.37 L307.66 257.35 L308.12 247.18 L308.58 244.30 L309.04 250.08 L309.50 261.81 L309.96 274.69 L310.42 284.93 L310.88 291.28 L311.34 294.44 L311.80 295.72 L312.26 296.15 L312.72 296.27 L313.18 296.29 L313.64 296.30 L314.10 296.30 L314.56 296.30 L315.02 296.30 L315.48 296.30 L315.94 296.30 L316.40 296.30" fill="none" stroke="#009966" stroke-width="0.72" opacity="0.85"/><path d="M261.20 296.30 L261.66 296.30 L262.12 296.30 L262.58 296.30 L263.04 296.30 L263.50 296.30 L263.96 296.30 L264.42 296.30 L264.88 296.30 L265.34 296.30 L265.80 296.30 L266.26 296.30 L266.72 296.30 L267.18 296.30 L267.64 296.30 L268.10 296.30 L268.56 296.30 L269.02 296.30 L269.48 296.30 L269.94 296.30 L270.40 296.30 L270.86 296.30 L271.32 296.30 L271.78 296.30 L272.24 296.30 L272.70 296.30 L273.16 296.30 L273.62 296.30 L274.08 296.30 L274.54 296.30 L275.00 296.30 L275.46 296.30 L275.92 296.30 L276.38 296.30 L276.84 296.30 L277.30 296.30 L277.76 296.30 L278.22 296.30 L278.68 296.30 L279.14 296.30 L279.60 296.30 L280.06 296.30 L280.52 296.30 L280.98 296.30 L281.44 296.30 L281.90 296.30 L282.36 296.30 L282.82 296.30 L283.28 296.30 L283.74 296.30 L284.20 296.30 L284.66 296.30 L285.12 296.30 L285.58 296.30 L286.04 296.30 L286.50 296.30 L286.96 296.30 L287.42 296.30 L287.88 296.30 L288.34 296.30 L288.80 296.30 L289.26 296.30 L289.72 296.30 L290.18 296.30 L290.64 296.30 L291.10 296.30 L291.56 296.30 L292.02 296.30 L292.48 296.30 L292.94 296.30 L293.40 296.30 L293.86 296.30 L294.32 296.30 L294.78 296.30 L295.24 296.30 L295.70 296.30 L296.16 296.30 L296.62 296.30 L297.08 296.30 L297.54 296.30 L298.00 296.30 L298.46 296.30 L298.92 296.30 L299.38 296.30 L299.84 296.30 L300.30 296.30 L300.76 296.30 L301.22 296.30 L301.68 296.30 L302.14 296.30 L302.60 296.29 L303.06 296.27 L303.52 296.13 L303.98 295.56 L304.44 293.74 L304.90 289.17 L305.36 280.21 L305.82 266.90 L306.28 252.84 L306.74 244.30 L307.20 245.95 L307.66 256.84 L308.12 271.28 L308.58 283.46 L309.04 290.97 L309.50 294.51 L309.96 295.81 L310.42 296.19 L310.88 296.28 L311.34 296.30 L311.80 296.30 L312.26 296.30 L312.72 296.30 L313.18 296.30 L313.64 296.30 L314.10 296.30 L314.56 296.30 L315.02 296.30 L315.48 296.30 L315.94 296.30 L316.40 296.30" fill="none" stroke="#e03424" stroke-width="0.72" opacity="0.85"/><path d="M261.20 296.30 L261.66 296.30 L262.12 296.30 L262.58 296.30 L263.04 296.30 L263.50 296.30 L263.96 296.30 L264.42 296.30 L264.88 296.30 L265.34 296.30 L265.80 296.30 L266.26 296.30 L266.72 296.30 L267.18 296.30 L267.64 296.30 L268.10 296.30 L268.56 296.30 L269.02 296.30 L269.48 296.30 L269.94 296.30 L270.40 296.30 L270.86 296.30 L271.32 296.30 L271.78 296.30 L272.24 296.30 L272.70 296.30 L273.16 296.30 L273.62 296.30 L274.08 296.30 L274.54 296.30 L275.00 296.30 L275.46 296.30 L275.92 296.30 L276.38 296.30 L276.84 296.30 L277.30 296.30 L277.76 296.30 L278.22 296.30 L278.68 296.30 L279.14 296.30 L279.60 296.30 L280.06 296.30 L280.52 296.30 L280.98 296.30 L281.44 296.30 L281.90 296.30 L282.36 296.30 L282.82 296.30 L283.28 296.30 L283.74 296.30 L284.20 296.30 L284.66 296.30 L285.12 296.30 L285.58 296.30 L286.04 296.30 L286.50 296.30 L286.96 296.30 L287.42 296.30 L287.88 296.30 L288.34 296.30 L288.80 296.30 L289.26 296.30 L289.72 296.30 L290.18 296.30 L290.64 296.30 L291.10 296.30 L291.56 296.30 L292.02 296.30 L292.48 296.30 L292.94 296.30 L293.40 296.30 L293.86 296.30 L294.32 296.30 L294.78 296.30 L295.24 296.30 L295.70 296.30 L296.16 296.30 L296.62 296.30 L297.08 296.30 L297.54 296.30 L298.00 296.30 L298.46 296.30 L298.92 296.30 L299.38 296.30 L299.84 296.30 L300.30 296.30 L300.76 296.30 L301.22 296.30 L301.68 296.30 L302.14 296.30 L302.60 296.30 L303.06 296.30 L303.52 296.30 L303.98 296.28 L304.44 296.21 L304.90 295.87 L305.36 294.69 L305.82 291.43 L306.28 284.37 L306.74 272.62 L307.20 258.27 L307.66 246.87 L308.12 244.30 L308.58 252.03 L309.04 265.80 L309.50 279.30 L309.96 288.63 L310.42 293.50 L310.88 295.47 L311.34 296.10 L311.80 296.26 L312.26 296.29 L312.72 296.30 L313.18 296.30 L313.64 296.30 L314.10 296.30 L314.56 296.30 L315.02 296.30 L315.48 296.30 L315.94 296.30 L316.40 296.30" fill="none" stroke="#006fed" stroke-width="0.72" opacity="0.85"/><path d="M319.80 354.24 L320.26 354.04 L320.72 353.80 L321.18 353.54 L321.64 353.24 L322.10 352.90 L322.56 352.53 L323.02 352.11 L323.48 351.65 L323.94 351.14 L324.40 350.57 L324.86 349.96 L325.32 349.28 L325.78 348.54 L326.24 347.74 L326.70 346.88 L327.16 345.94 L327.62 344.94 L328.08 343.87 L328.54 342.73 L329.00 341.52 L329.46 340.24 L329.92 338.90 L330.38 337.49 L330.84 336.02 L331.30 334.50 L331.76 332.92 L332.22 331.30 L332.68 329.65 L333.14 327.96 L333.60 326.25 L334.06 324.52 L334.52 322.79 L334.98 321.07 L335.44 319.37 L335.90 317.70 L336.36 316.07 L336.82 314.49 L337.28 312.98 L337.74 311.54 L338.20 310.19 L338.66 308.94 L339.12 307.80 L339.58 306.78 L340.04 305.89 L340.50 305.13 L340.96 304.51 L341.42 304.04 L341.88 303.72 L342.34 303.55 L342.80 303.56 L343.26 303.94 L343.72 304.72 L344.18 305.87 L344.64 307.38 L345.10 309.20 L345.56 311.31 L346.02 313.64 L346.48 316.17 L346.94 318.83 L347.40 321.57 L347.86 324.36 L348.32 327.14 L348.78 329.88 L349.24 332.53 L349.70 335.07 L350.16 337.47 L350.62 339.71 L351.08 341.79 L351.54 343.68 L352.00 345.40 L352.46 346.93 L352.92 348.29 L353.38 349.48 L353.84 350.52 L354.30 351.41 L354.76 352.17 L355.22 352.81 L355.68 353.35 L356.14 353.80 L356.60 354.16 L357.06 354.46 L357.52 354.70 L357.98 354.89 L358.44 355.05 L358.90 355.17 L359.36 355.26 L359.82 355.33 L360.28 355.39 L360.74 355.43 L361.20 355.46 L361.66 355.49 L362.12 355.50 L362.58 355.52 L363.04 355.53 L363.50 355.53 L363.96 355.54 L364.42 355.54 L364.88 355.54 L365.34 355.55 L365.80 355.55 L366.26 355.55 L366.72 355.55 L367.18 355.55 L367.64 355.55 L368.10 355.55 L368.56 355.55 L369.02 355.55 L369.48 355.55 L369.94 355.55 L370.40 355.55 L370.86 355.55 L371.32 355.55 L371.78 355.55 L372.24 355.55 L372.70 355.55 L373.16 355.55 L373.62 355.55 L374.08 355.55 L374.54 355.55 L375.00 355.55" fill="none" stroke="#000866" stroke-width="0.72" opacity="0.85"/><path d="M319.80 355.55 L320.26 355.55 L320.72 355.55 L321.18 355.55 L321.64 355.55 L322.10 355.55 L322.56 355.55 L323.02 355.55 L323.48 355.55 L323.94 355.55 L324.40 355.55 L324.86 355.55 L325.32 355.55 L325.78 355.55 L326.24 355.55 L326.70 355.55 L327.16 355.55 L327.62 355.55 L328.08 355.55 L328.54 355.55 L329.00 355.55 L329.46 355.55 L329.92 355.54 L330.38 355.54 L330.84 355.54 L331.30 355.53 L331.76 355.52 L332.22 355.51 L332.68 355.49 L333.14 355.47 L333.60 355.44 L334.06 355.39 L334.52 355.33 L334.98 355.24 L335.44 355.12 L335.90 354.97 L336.36 354.77 L336.82 354.52 L337.28 354.19 L337.74 353.78 L338.20 353.27 L338.66 352.63 L339.12 351.86 L339.58 350.93 L340.04 349.82 L340.50 348.51 L340.96 347.00 L341.42 345.26 L341.88 343.29 L342.34 341.09 L342.80 338.67 L343.26 336.03 L343.72 333.21 L344.18 330.24 L344.64 327.15 L345.10 324.01 L345.56 320.87 L346.02 317.79 L346.48 314.85 L346.94 312.12 L347.40 309.66 L347.86 307.55 L348.32 305.84 L348.78 304.58 L349.24 303.81 L349.70 303.55 L350.16 303.82 L350.62 304.63 L351.08 305.94 L351.54 307.72 L352.00 309.92 L352.46 312.47 L352.92 315.30 L353.38 318.33 L353.84 321.49 L354.30 324.71 L354.76 327.92 L355.22 331.04 L355.68 334.05 L356.14 336.87 L356.60 339.50 L357.06 341.90 L357.52 344.06 L357.98 345.98 L358.44 347.66 L358.90 349.12 L359.36 350.36 L359.82 351.40 L360.28 352.27 L360.74 352.99 L361.20 353.56 L361.66 354.03 L362.12 354.40 L362.58 354.68 L363.04 354.91 L363.50 355.08 L363.96 355.21 L364.42 355.30 L364.88 355.37 L365.34 355.43 L365.80 355.46 L366.26 355.49 L366.72 355.51 L367.18 355.52 L367.64 355.53 L368.10 355.54 L368.56 355.54 L369.02 355.54 L369.48 355.55 L369.94 355.55 L370.40 355.55 L370.86 355.55 L371.32 355.55 L371.78 355.55 L372.24 355.55 L372.70 355.55 L373.16 355.55 L373.62 355.55 L374.08 355.55 L374.54 355.55 L375.00 355.55" fill="none" stroke="#009966" stroke-width="0.72" opacity="0.85"/><path d="M319.80 355.55 L320.26 355.55 L320.72 355.55 L321.18 355.55 L321.64 355.55 L322.10 355.55 L322.56 355.55 L323.02 355.55 L323.48 355.55 L323.94 355.55 L324.40 355.55 L324.86 355.55 L325.32 355.55 L325.78 355.55 L326.24 355.55 L326.70 355.55 L327.16 355.55 L327.62 355.55 L328.08 355.55 L328.54 355.55 L329.00 355.55 L329.46 355.55 L329.92 355.55 L330.38 355.55 L330.84 355.55 L331.30 355.55 L331.76 355.54 L332.22 355.54 L332.68 355.54 L333.14 355.53 L333.60 355.52 L334.06 355.50 L334.52 355.48 L334.98 355.45 L335.44 355.41 L335.90 355.35 L336.36 355.27 L336.82 355.16 L337.28 355.02 L337.74 354.83 L338.20 354.58 L338.66 354.26 L339.12 353.86 L339.58 353.35 L340.04 352.72 L340.50 351.95 L340.96 351.01 L341.42 349.89 L341.88 348.57 L342.34 347.03 L342.80 345.25 L343.26 343.23 L343.72 340.98 L344.18 338.49 L344.64 335.77 L345.10 332.87 L345.56 329.81 L346.02 326.64 L346.48 323.42 L346.94 320.22 L347.40 317.09 L347.86 314.13 L348.32 311.40 L348.78 308.97 L349.24 306.93 L349.70 305.33 L350.16 304.21 L350.62 303.61 L351.08 303.55 L351.54 304.03 L352.00 305.04 L352.46 306.54 L352.92 308.50 L353.38 310.84 L353.84 313.51 L354.30 316.43 L354.76 319.53 L355.22 322.72 L355.68 325.95 L356.14 329.13 L356.60 332.22 L357.06 335.16 L357.52 337.91 L357.98 340.46 L358.44 342.76 L358.90 344.83 L359.36 346.66 L359.82 348.25 L360.28 349.62 L360.74 350.79 L361.20 351.76 L361.66 352.57 L362.12 353.23 L362.58 353.76 L363.04 354.18 L363.50 354.52 L363.96 354.78 L364.42 354.98 L364.88 355.13 L365.34 355.25 L365.80 355.33 L366.26 355.40 L366.72 355.44 L367.18 355.48 L367.64 355.50 L368.10 355.52 L368.56 355.53 L369.02 355.53 L369.48 355.54 L369.94 355.54 L370.40 355.55 L370.86 355.55 L371.32 355.55 L371.78 355.55 L372.24 355.55 L372.70 355.55 L373.16 355.55 L373.62 355.55 L374.08 355.55 L374.54 355.55 L375.00 355.55" fill="none" stroke="#808080" stroke-width="0.72" opacity="0.85"/><path d="M319.80 355.55 L320.26 355.55 L320.72 355.55 L321.18 355.55 L321.64 355.55 L322.10 355.55 L322.56 355.55 L323.02 355.55 L323.48 355.55 L323.94 355.55 L324.40 355.55 L324.86 355.55 L325.32 355.55 L325.78 355.55 L326.24 355.55 L326.70 355.55 L327.16 355.55 L327.62 355.55 L328.08 355.55 L328.54 355.55 L329.00 355.55 L329.46 355.55 L329.92 355.55 L330.38 355.55 L330.84 355.55 L331.30 355.55 L331.76 355.55 L332.22 355.55 L332.68 355.55 L333.14 355.55 L333.60 355.55 L334.06 355.54 L334.52 355.54 L334.98 355.53 L335.44 355.52 L335.90 355.51 L336.36 355.49 L336.82 355.47 L337.28 355.43 L337.74 355.38 L338.20 355.32 L338.66 355.23 L339.12 355.10 L339.58 354.94 L340.04 354.73 L340.50 354.45 L340.96 354.10 L341.42 353.65 L341.88 353.09 L342.34 352.41 L342.80 351.57 L343.26 350.55 L343.72 349.35 L344.18 347.93 L344.64 346.29 L345.10 344.41 L345.56 342.29 L346.02 339.93 L346.48 337.34 L346.94 334.55 L347.40 331.57 L347.86 328.46 L348.32 325.27 L348.78 322.05 L349.24 318.87 L349.70 315.80 L350.16 312.93 L350.62 310.33 L351.08 308.07 L351.54 306.21 L352.00 304.81 L352.46 303.91 L352.92 303.55 L353.38 303.73 L353.84 304.44 L354.30 305.67 L354.76 307.37 L355.22 309.50 L355.68 311.99 L356.14 314.78 L356.60 317.78 L357.06 320.93 L357.52 324.15 L357.98 327.36 L358.44 330.50 L358.90 333.53 L359.36 336.39 L359.82 339.06 L360.28 341.50 L360.74 343.70 L361.20 345.66 L361.66 347.39 L362.12 348.88 L362.58 350.16 L363.04 351.23 L363.50 352.13 L363.96 352.87 L364.42 353.47 L364.88 353.96 L365.34 354.34 L365.80 354.64 L366.26 354.87 L366.72 355.05 L367.18 355.19 L367.64 355.29 L368.10 355.36 L368.56 355.42 L369.02 355.46 L369.48 355.49 L369.94 355.51 L370.40 355.52 L370.86 355.53 L371.32 355.54 L371.78 355.54 L372.24 355.54 L372.70 355.55 L373.16 355.55 L373.62 355.55 L374.08 355.55 L374.54 355.55 L375.00 355.55" fill="none" stroke="#e03424" stroke-width="0.72" opacity="0.85"/><path d="M319.80 355.55 L320.26 355.55 L320.72 355.55 L321.18 355.55 L321.64 355.55 L322.10 355.55 L322.56 355.55 L323.02 355.55 L323.48 355.55 L323.94 355.55 L324.40 355.55 L324.86 355.55 L325.32 355.55 L325.78 355.55 L326.24 355.55 L326.70 355.55 L327.16 355.55 L327.62 355.55 L328.08 355.55 L328.54 355.55 L329.00 355.55 L329.46 355.55 L329.92 355.55 L330.38 355.55 L330.84 355.55 L331.30 355.55 L331.76 355.55 L332.22 355.55 L332.68 355.54 L333.14 355.54 L333.60 355.54 L334.06 355.53 L334.52 355.52 L334.98 355.51 L335.44 355.49 L335.90 355.46 L336.36 355.43 L336.82 355.37 L337.28 355.30 L337.74 355.21 L338.20 355.08 L338.66 354.91 L339.12 354.68 L339.58 354.40 L340.04 354.03 L340.50 353.56 L340.96 352.99 L341.42 352.27 L341.88 351.40 L342.34 350.36 L342.80 349.12 L343.26 347.66 L343.72 345.98 L344.18 344.06 L344.64 341.90 L345.10 339.50 L345.56 336.87 L346.02 334.05 L346.48 331.04 L346.94 327.92 L347.40 324.71 L347.86 321.49 L348.32 318.33 L348.78 315.30 L349.24 312.47 L349.70 309.92 L350.16 307.72 L350.62 305.94 L351.08 304.63 L351.54 303.82 L352.00 303.55 L352.46 303.82 L352.92 304.63 L353.38 305.94 L353.84 307.72 L354.30 309.92 L354.76 312.47 L355.22 315.30 L355.68 318.33 L356.14 321.49 L356.60 324.71 L357.06 327.92 L357.52 331.04 L357.98 334.05 L358.44 336.87 L358.90 339.50 L359.36 341.90 L359.82 344.06 L360.28 345.98 L360.74 347.66 L361.20 349.12 L361.66 350.36 L362.12 351.40 L362.58 352.27 L363.04 352.99 L363.50 353.56 L363.96 354.03 L364.42 354.40 L364.88 354.68 L365.34 354.91 L365.80 355.08 L366.26 355.21 L366.72 355.30 L367.18 355.37 L367.64 355.43 L368.10 355.46 L368.56 355.49 L369.02 355.51 L369.48 355.52 L369.94 355.53 L370.40 355.54 L370.86 355.54 L371.32 355.54 L371.78 355.55 L372.24 355.55 L372.70 355.55 L373.16 355.55 L373.62 355.55 L374.08 355.55 L374.54 355.55 L375.00 355.55" fill="none" stroke="#006fed" stroke-width="0.72" opacity="0.85"/><path d="M412.60 59.28 L413.05 59.28 L413.51 59.27 L413.96 59.26 L414.42 59.25 L414.87 59.24 L415.33 59.22 L415.78 59.20 L416.23 59.18 L416.69 59.15 L417.14 59.11 L417.60 59.07 L418.05 59.01 L418.50 58.94 L418.96 58.86 L419.41 58.77 L419.87 58.65 L420.32 58.52 L420.78 58.36 L421.23 58.17 L421.68 57.95 L422.14 57.69 L422.59 57.40 L423.05 57.06 L423.50 56.67 L423.95 56.22 L424.41 55.72 L424.86 55.15 L425.32 54.50 L425.77 53.78 L426.23 52.99 L426.68 52.10 L427.13 51.13 L427.59 50.06 L428.04 48.90 L428.50 47.64 L428.95 46.28 L429.40 44.82 L429.86 43.28 L430.31 41.64 L430.77 39.91 L431.22 38.10 L431.68 36.23 L432.13 34.29 L432.58 32.30 L433.04 30.28 L433.49 28.24 L433.95 26.20 L434.40 24.16 L434.85 22.16 L435.31 20.21 L435.76 18.34 L436.22 16.55 L436.67 14.87 L437.12 13.32 L437.58 11.91 L438.03 10.67 L438.49 9.60 L438.94 8.73 L439.40 8.05 L439.85 7.58 L440.30 7.33 L440.76 7.30 L441.21 7.49 L441.67 7.89 L442.12 8.50 L442.58 9.32 L443.03 10.33 L443.48 11.52 L443.94 12.88 L444.39 14.38 L444.85 16.03 L445.30 17.78 L445.75 19.64 L446.21 21.57 L446.66 23.55 L447.12 25.58 L447.57 27.62 L448.03 29.67 L448.48 31.69 L448.93 33.69 L449.39 35.65 L449.84 37.54 L450.30 39.37 L450.75 41.12 L451.20 42.79 L451.66 44.37 L452.11 45.85 L452.57 47.24 L453.02 48.52 L453.48 49.72 L453.93 50.81 L454.38 51.81 L454.84 52.73 L455.29 53.55 L455.75 54.29 L456.20 54.96 L456.65 55.55 L457.11 56.08 L457.56 56.54 L458.02 56.95 L458.47 57.30 L458.93 57.61 L459.38 57.88 L459.83 58.11 L460.29 58.30 L460.74 58.47 L461.20 58.61 L461.65 58.73 L462.10 58.84 L462.56 58.92 L463.01 58.99 L463.47 59.05 L463.92 59.10 L464.38 59.14 L464.83 59.17 L465.28 59.20 L465.74 59.22 L466.19 59.23 L466.65 59.25 L467.10 59.26" fill="none" stroke="#000000" stroke-width="0.72" opacity="0.4"/><path d="M412.60 59.28 L413.05 59.28 L413.51 59.27 L413.96 59.26 L414.42 59.25 L414.87 59.24 L415.33 59.22 L415.78 59.20 L416.23 59.17 L416.69 59.14 L417.14 59.10 L417.60 59.05 L418.05 59.00 L418.50 58.93 L418.96 58.84 L419.41 58.74 L419.87 58.62 L420.32 58.48 L420.78 58.32 L421.23 58.12 L421.68 57.90 L422.14 57.63 L422.59 57.33 L423.05 56.98 L423.50 56.57 L423.95 56.12 L424.41 55.60 L424.86 55.01 L425.32 54.35 L425.77 53.61 L426.23 52.80 L426.68 51.89 L427.13 50.90 L427.59 49.81 L428.04 48.63 L428.50 47.34 L428.95 45.97 L429.40 44.49 L429.86 42.92 L430.31 41.26 L430.77 39.52 L431.22 37.69 L431.68 35.80 L432.13 33.85 L432.58 31.86 L433.04 29.83 L433.49 27.79 L433.95 25.74 L434.40 23.71 L434.85 21.72 L435.31 19.79 L435.76 17.93 L436.22 16.16 L436.67 14.51 L437.12 12.99 L437.58 11.62 L438.03 10.41 L438.49 9.39 L438.94 8.55 L439.40 7.92 L439.85 7.50 L440.30 7.30 L440.76 7.32 L441.21 7.55 L441.67 8.00 L442.12 8.66 L442.58 9.52 L443.03 10.57 L443.48 11.80 L443.94 13.19 L444.39 14.73 L444.85 16.40 L445.30 18.18 L445.75 20.05 L446.21 21.99 L446.66 23.99 L447.12 26.02 L447.57 28.07 L448.03 30.11 L448.48 32.13 L448.93 34.12 L449.39 36.07 L449.84 37.95 L450.30 39.76 L450.75 41.49 L451.20 43.14 L451.66 44.70 L452.11 46.16 L452.57 47.53 L453.02 48.79 L453.48 49.96 L453.93 51.04 L454.38 52.02 L454.84 52.91 L455.29 53.72 L455.75 54.45 L456.20 55.09 L456.65 55.67 L457.11 56.18 L457.56 56.63 L458.02 57.03 L458.47 57.37 L458.93 57.67 L459.38 57.93 L459.83 58.15 L460.29 58.34 L460.74 58.50 L461.20 58.64 L461.65 58.76 L462.10 58.86 L462.56 58.94 L463.01 59.00 L463.47 59.06 L463.92 59.11 L464.38 59.15 L464.83 59.18 L465.28 59.20 L465.74 59.22 L466.19 59.24 L466.65 59.25 L467.10 59.26" fill="none" stroke="#e03424" stroke-width="0.72" opacity="0.85"/><path d="M412.60 59.29 L413.05 59.28 L413.51 59.28 L413.96 59.27 L414.42 59.27 L414.87 59.26 L415.33 59.25 L415.78 59.23 L416.23 59.21 L416.69 59.19 L417.14 59.17 L417.60 59.13 L418.05 59.09 L418.50 59.04 L418.96 58.98 L419.41 58.91 L419.87 58.82 L420.32 58.72 L420.78 58.59 L421.23 58.45 L421.68 58.28 L422.14 58.07 L422.59 57.84 L423.05 57.56 L423.50 57.25 L423.95 56.89 L424.41 56.47 L424.86 56.00 L425.32 55.46 L425.77 54.86 L426.23 54.18 L426.68 53.43 L427.13 52.59 L427.59 51.67 L428.04 50.65 L428.50 49.54 L428.95 48.33 L429.40 47.03 L429.86 45.63 L430.31 44.13 L430.77 42.54 L431.22 40.86 L431.68 39.09 L432.13 37.25 L432.58 35.35 L433.04 33.39 L433.49 31.38 L433.95 29.35 L434.40 27.31 L434.85 25.27 L435.31 23.25 L435.76 21.27 L436.22 19.35 L436.67 17.51 L437.12 15.77 L437.58 14.15 L438.03 12.66 L438.49 11.33 L438.94 10.17 L439.40 9.18 L439.85 8.40 L440.30 7.82 L440.76 7.45 L441.21 7.30 L441.67 7.37 L442.12 7.65 L442.58 8.15 L443.03 8.86 L443.48 9.76 L443.94 10.86 L444.39 12.13 L444.85 13.56 L445.30 15.13 L445.75 16.83 L446.21 18.63 L446.66 20.52 L447.12 22.48 L447.57 24.48 L448.03 26.52 L448.48 28.57 L448.93 30.60 L449.39 32.62 L449.84 34.60 L450.30 36.53 L450.75 38.39 L451.20 40.19 L451.66 41.90 L452.11 43.53 L452.57 45.06 L453.02 46.50 L453.48 47.84 L453.93 49.09 L454.38 50.23 L454.84 51.29 L455.29 52.25 L455.75 53.12 L456.20 53.90 L456.65 54.61 L457.11 55.24 L457.56 55.80 L458.02 56.30 L458.47 56.73 L458.93 57.12 L459.38 57.45 L459.83 57.74 L460.29 57.99 L460.74 58.20 L461.20 58.38 L461.65 58.54 L462.10 58.67 L462.56 58.78 L463.01 58.88 L463.47 58.95 L463.92 59.02 L464.38 59.07 L464.83 59.12 L465.28 59.15 L465.74 59.18 L466.19 59.21 L466.65 59.23 L467.10 59.24" fill="none" stroke="#006fed" stroke-width="0.72" opacity="0.8"/><path d="M471.16 118.52 L471.61 118.52 L472.07 118.51 L472.52 118.50 L472.98 118.48 L473.43 118.46 L473.89 118.44 L474.34 118.42 L474.79 118.38 L475.25 118.34 L475.70 118.29 L476.16 118.23 L476.61 118.16 L477.06 118.07 L477.52 117.97 L477.97 117.84 L478.43 117.70 L478.88 117.53 L479.34 117.32 L479.79 117.09 L480.24 116.82 L480.70 116.50 L481.15 116.14 L481.61 115.72 L482.06 115.25 L482.51 114.72 L482.97 114.11 L483.42 113.44 L483.88 112.68 L484.33 111.85 L484.79 110.92 L485.24 109.91 L485.69 108.80 L486.15 107.59 L486.60 106.29 L487.06 104.88 L487.51 103.39 L487.96 101.80 L488.42 100.12 L488.87 98.35 L489.33 96.51 L489.78 94.61 L490.24 92.65 L490.69 90.65 L491.14 88.61 L491.60 86.57 L492.05 84.53 L492.51 82.51 L492.96 80.53 L493.41 78.61 L493.87 76.77 L494.32 75.03 L494.78 73.41 L495.23 71.92 L495.69 70.59 L496.14 69.42 L496.59 68.44 L497.05 67.65 L497.50 67.07 L497.96 66.70 L498.41 66.55 L498.86 66.62 L499.32 66.90 L499.77 67.40 L500.23 68.10 L500.68 69.01 L501.14 70.10 L501.59 71.37 L502.04 72.80 L502.50 74.37 L502.95 76.07 L503.41 77.87 L503.86 79.76 L504.31 81.72 L504.77 83.72 L505.22 85.76 L505.68 87.80 L506.13 89.84 L506.59 91.86 L507.04 93.84 L507.49 95.77 L507.95 97.63 L508.40 99.43 L508.86 101.14 L509.31 102.77 L509.76 104.30 L510.22 105.74 L510.67 107.08 L511.13 108.33 L511.58 109.48 L512.04 110.53 L512.49 111.49 L512.94 112.36 L513.40 113.15 L513.85 113.86 L514.31 114.49 L514.76 115.05 L515.21 115.54 L515.67 115.98 L516.12 116.36 L516.58 116.70 L517.03 116.99 L517.49 117.24 L517.94 117.45 L518.39 117.63 L518.85 117.79 L519.30 117.92 L519.76 118.03 L520.21 118.13 L520.66 118.20 L521.12 118.27 L521.57 118.32 L522.03 118.37 L522.48 118.40 L522.94 118.43 L523.39 118.46 L523.84 118.48 L524.30 118.49 L524.75 118.50 L525.21 118.51 L525.66 118.52" fill="none" stroke="#000000" stroke-width="0.72" opacity="0.4"/><path d="M471.16 118.53 L471.61 118.52 L472.07 118.51 L472.52 118.50 L472.98 118.49 L473.43 118.47 L473.89 118.45 L474.34 118.42 L474.79 118.39 L475.25 118.35 L475.70 118.30 L476.16 118.25 L476.61 118.18 L477.06 118.09 L477.52 117.99 L477.97 117.87 L478.43 117.73 L478.88 117.57 L479.34 117.37 L479.79 117.14 L480.24 116.88 L480.70 116.57 L481.15 116.22 L481.61 115.82 L482.06 115.36 L482.51 114.84 L482.97 114.25 L483.42 113.59 L483.88 112.85 L484.33 112.04 L484.79 111.13 L485.24 110.13 L485.69 109.05 L486.15 107.86 L486.60 106.58 L487.06 105.20 L487.51 103.72 L487.96 102.15 L488.42 100.49 L488.87 98.74 L489.33 96.92 L489.78 95.03 L490.24 93.08 L490.69 91.08 L491.14 89.05 L491.60 87.01 L492.05 84.97 L492.51 82.94 L492.96 80.95 L493.41 79.01 L493.87 77.16 L494.32 75.39 L494.78 73.74 L495.23 72.22 L495.69 70.85 L496.14 69.65 L496.59 68.62 L497.05 67.79 L497.50 67.17 L497.96 66.75 L498.41 66.55 L498.86 66.57 L499.32 66.80 L499.77 67.26 L500.23 67.92 L500.68 68.78 L501.14 69.83 L501.59 71.06 L502.04 72.46 L502.50 74.00 L502.95 75.67 L503.41 77.45 L503.86 79.33 L504.31 81.27 L504.77 83.27 L505.22 85.30 L505.68 87.34 L506.13 89.39 L506.59 91.41 L507.04 93.40 L507.49 95.34 L507.95 97.22 L508.40 99.03 L508.86 100.77 L509.31 102.41 L509.76 103.97 L510.22 105.43 L510.67 106.79 L511.13 108.06 L511.58 109.23 L512.04 110.30 L512.49 111.28 L512.94 112.18 L513.40 112.98 L513.85 113.70 L514.31 114.35 L514.76 114.93 L515.21 115.44 L515.67 115.89 L516.12 116.28 L516.58 116.63 L517.03 116.93 L517.49 117.18 L517.94 117.41 L518.39 117.60 L518.85 117.76 L519.30 117.89 L519.76 118.01 L520.21 118.11 L520.66 118.19 L521.12 118.26 L521.57 118.31 L522.03 118.36 L522.48 118.40 L522.94 118.43 L523.39 118.45 L523.84 118.47 L524.30 118.49 L524.75 118.50 L525.21 118.51 L525.66 118.52" fill="none" stroke="#e03424" stroke-width="0.72" opacity="0.85"/><path d="M471.16 118.52 L471.61 118.51 L472.07 118.50 L472.52 118.49 L472.98 118.48 L473.43 118.46 L473.89 118.43 L474.34 118.40 L474.79 118.36 L475.25 118.32 L475.70 118.27 L476.16 118.20 L476.61 118.12 L477.06 118.03 L477.52 117.92 L477.97 117.78 L478.43 117.63 L478.88 117.44 L479.34 117.23 L479.79 116.97 L480.24 116.68 L480.70 116.35 L481.15 115.96 L481.61 115.52 L482.06 115.02 L482.51 114.46 L482.97 113.83 L483.42 113.12 L483.88 112.32 L484.33 111.45 L484.79 110.48 L485.24 109.43 L485.69 108.28 L486.15 107.03 L486.60 105.68 L487.06 104.24 L487.51 102.70 L487.96 101.07 L488.42 99.35 L488.87 97.55 L489.33 95.68 L489.78 93.75 L490.24 91.77 L490.69 89.75 L491.14 87.71 L491.60 85.67 L492.05 83.63 L492.51 81.63 L492.96 79.67 L493.41 77.79 L493.87 75.99 L494.32 74.30 L494.78 72.73 L495.23 71.31 L495.69 70.05 L496.14 68.96 L496.59 68.07 L497.05 67.37 L497.50 66.88 L497.96 66.61 L498.41 66.55 L498.86 66.71 L499.32 67.09 L499.77 67.68 L500.23 68.48 L500.68 69.47 L501.14 70.64 L501.59 71.98 L502.04 73.47 L502.50 75.10 L502.95 76.85 L503.41 78.69 L503.86 80.61 L504.31 82.59 L504.77 84.62 L505.22 86.66 L505.68 88.70 L506.13 90.73 L506.59 92.74 L507.04 94.69 L507.49 96.60 L507.95 98.43 L508.40 100.19 L508.86 101.87 L509.31 103.45 L509.76 104.95 L510.22 106.34 L510.67 107.64 L511.13 108.85 L511.58 109.95 L512.04 110.96 L512.49 111.88 L512.94 112.72 L513.40 113.47 L513.85 114.14 L514.31 114.74 L514.76 115.27 L515.21 115.74 L515.67 116.16 L516.12 116.52 L516.58 116.83 L517.03 117.10 L517.49 117.33 L517.94 117.53 L518.39 117.71 L518.85 117.85 L519.30 117.97 L519.76 118.08 L520.21 118.16 L520.66 118.23 L521.12 118.29 L521.57 118.34 L522.03 118.38 L522.48 118.42 L522.94 118.44 L523.39 118.47 L523.84 118.48 L524.30 118.50 L524.75 118.51 L525.21 118.52 L525.66 118.52" fill="none" stroke="#006fed" stroke-width="0.72" opacity="0.8"/><path d="M529.72 177.79 L530.17 177.79 L530.63 177.79 L531.08 177.78 L531.54 177.78 L531.99 177.77 L532.45 177.76 L532.90 177.75 L533.35 177.73 L533.81 177.71 L534.26 177.69 L534.72 177.65 L535.17 177.62 L535.62 177.57 L536.08 177.51 L536.53 177.43 L536.99 177.35 L537.44 177.24 L537.89 177.11 L538.35 176.95 L538.80 176.77 L539.26 176.55 L539.71 176.29 L540.17 175.98 L540.62 175.63 L541.07 175.22 L541.53 174.74 L541.98 174.20 L542.44 173.57 L542.89 172.87 L543.35 172.08 L543.80 171.19 L544.25 170.20 L544.71 169.10 L545.16 167.90 L545.62 166.58 L546.07 165.15 L546.52 163.61 L546.98 161.96 L547.43 160.20 L547.89 158.34 L548.34 156.39 L548.80 154.36 L549.25 152.26 L549.70 150.11 L550.16 147.92 L550.61 145.72 L551.07 143.52 L551.52 141.35 L551.97 139.24 L552.43 137.19 L552.88 135.25 L553.34 133.44 L553.79 131.77 L554.25 130.27 L554.70 128.96 L555.15 127.86 L555.61 126.98 L556.06 126.34 L556.52 125.94 L556.97 125.80 L557.42 125.91 L557.88 126.27 L558.33 126.88 L558.79 127.73 L559.24 128.80 L559.70 130.08 L560.15 131.56 L560.60 133.21 L561.06 135.00 L561.51 136.93 L561.97 138.96 L562.42 141.07 L562.87 143.23 L563.33 145.43 L563.78 147.63 L564.24 149.82 L564.69 151.98 L565.14 154.08 L565.60 156.13 L566.05 158.09 L566.51 159.96 L566.96 161.73 L567.42 163.40 L567.87 164.96 L568.32 166.40 L568.78 167.73 L569.23 168.95 L569.69 170.06 L570.14 171.06 L570.60 171.96 L571.05 172.77 L571.50 173.49 L571.96 174.12 L572.41 174.67 L572.87 175.16 L573.32 175.58 L573.77 175.94 L574.23 176.25 L574.68 176.51 L575.14 176.74 L575.59 176.93 L576.05 177.09 L576.50 177.22 L576.95 177.33 L577.41 177.42 L577.86 177.50 L578.32 177.56 L578.77 177.61 L579.22 177.65 L579.68 177.68 L580.13 177.71 L580.59 177.73 L581.04 177.74 L581.50 177.76 L581.95 177.77 L582.40 177.77 L582.86 177.78 L583.31 177.79 L583.77 177.79 L584.22 177.79" fill="none" stroke="#000000" stroke-width="0.72" opacity="0.4"/><path d="M529.72 177.79 L530.17 177.79 L530.63 177.78 L531.08 177.78 L531.54 177.77 L531.99 177.76 L532.45 177.75 L532.90 177.74 L533.35 177.72 L533.81 177.70 L534.26 177.67 L534.72 177.64 L535.17 177.60 L535.62 177.54 L536.08 177.48 L536.53 177.40 L536.99 177.30 L537.44 177.18 L537.89 177.04 L538.35 176.87 L538.80 176.67 L539.26 176.44 L539.71 176.16 L540.17 175.83 L540.62 175.45 L541.07 175.01 L541.53 174.51 L541.98 173.93 L542.44 173.27 L542.89 172.53 L543.35 171.69 L543.80 170.76 L544.25 169.73 L544.71 168.58 L545.16 167.33 L545.62 165.96 L546.07 164.48 L546.52 162.89 L546.98 161.19 L547.43 159.39 L547.89 157.48 L548.34 155.50 L548.80 153.43 L549.25 151.31 L549.70 149.14 L550.16 146.94 L550.61 144.74 L551.07 142.55 L551.52 140.40 L551.97 138.31 L552.43 136.31 L552.88 134.42 L553.34 132.67 L553.79 131.07 L554.25 129.65 L554.70 128.43 L555.15 127.42 L555.61 126.65 L556.06 126.12 L556.52 125.83 L556.97 125.80 L557.42 126.02 L557.88 126.49 L558.33 127.21 L558.79 128.16 L559.24 129.32 L559.70 130.69 L560.15 132.25 L560.60 133.97 L561.06 135.83 L561.51 137.80 L561.97 139.87 L562.42 142.01 L562.87 144.19 L563.33 146.39 L563.78 148.59 L564.24 150.77 L564.69 152.90 L565.14 154.98 L565.60 156.99 L566.05 158.92 L566.51 160.75 L566.96 162.47 L567.42 164.09 L567.87 165.60 L568.32 167.00 L568.78 168.28 L569.23 169.45 L569.69 170.51 L570.14 171.47 L570.60 172.33 L571.05 173.09 L571.50 173.77 L571.96 174.37 L572.41 174.89 L572.87 175.35 L573.32 175.74 L573.77 176.08 L574.23 176.37 L574.68 176.62 L575.14 176.83 L575.59 177.00 L576.05 177.15 L576.50 177.27 L576.95 177.37 L577.41 177.46 L577.86 177.53 L578.32 177.58 L578.77 177.63 L579.22 177.66 L579.68 177.69 L580.13 177.72 L580.59 177.74 L581.04 177.75 L581.50 177.76 L581.95 177.77 L582.40 177.78 L582.86 177.78 L583.31 177.79 L583.77 177.79 L584.22 177.79" fill="none" stroke="#e03424" stroke-width="0.72" opacity="0.85"/><path d="M529.72 177.78 L530.17 177.77 L530.63 177.76 L531.08 177.74 L531.54 177.73 L531.99 177.71 L532.45 177.68 L532.90 177.65 L533.35 177.60 L533.81 177.55 L534.26 177.49 L534.72 177.41 L535.17 177.31 L535.62 177.19 L536.08 177.04 L536.53 176.87 L536.99 176.66 L537.44 176.41 L537.89 176.12 L538.35 175.77 L538.80 175.37 L539.26 174.91 L539.71 174.37 L540.17 173.75 L540.62 173.04 L541.07 172.25 L541.53 171.35 L541.98 170.34 L542.44 169.23 L542.89 168.00 L543.35 166.64 L543.80 165.17 L544.25 163.58 L544.71 161.87 L545.16 160.05 L545.62 158.12 L546.07 156.10 L546.52 153.99 L546.98 151.81 L547.43 149.58 L547.89 147.32 L548.34 145.05 L548.80 142.78 L549.25 140.56 L549.70 138.40 L550.16 136.34 L550.61 134.39 L551.07 132.58 L551.52 130.95 L551.97 129.50 L552.43 128.27 L552.88 127.27 L553.34 126.52 L553.79 126.03 L554.25 125.80 L554.70 125.84 L555.15 126.15 L555.61 126.73 L556.06 127.56 L556.52 128.64 L556.97 129.94 L557.42 131.44 L557.88 133.14 L558.33 134.99 L558.79 136.98 L559.24 139.08 L559.70 141.26 L560.15 143.50 L560.60 145.77 L561.06 148.04 L561.51 150.29 L561.97 152.51 L562.42 154.67 L562.87 156.75 L563.33 158.75 L563.78 160.64 L564.24 162.43 L564.69 164.10 L565.14 165.65 L565.60 167.09 L566.05 168.40 L566.51 169.59 L566.96 170.67 L567.42 171.64 L567.87 172.51 L568.32 173.28 L568.78 173.95 L569.23 174.55 L569.69 175.06 L570.14 175.51 L570.60 175.89 L571.05 176.22 L571.50 176.49 L571.96 176.73 L572.41 176.93 L572.87 177.09 L573.32 177.23 L573.77 177.34 L574.23 177.43 L574.68 177.51 L575.14 177.57 L575.59 177.62 L576.05 177.66 L576.50 177.69 L576.95 177.71 L577.41 177.73 L577.86 177.75 L578.32 177.76 L578.77 177.77 L579.22 177.78 L579.68 177.78 L580.13 177.79 L580.59 177.79 L581.04 177.79 L581.50 177.79 L581.95 177.80 L582.40 177.80 L582.86 177.80 L583.31 177.80 L583.77 177.80 L584.22 177.80" fill="none" stroke="#006fed" stroke-width="0.72" opacity="0.8"/><path d="M588.28 237.04 L588.73 237.04 L589.19 237.04 L589.64 237.04 L590.10 237.03 L590.55 237.02 L591.00 237.02 L591.46 237.00 L591.91 236.99 L592.37 236.97 L592.82 236.95 L593.28 236.92 L593.73 236.88 L594.18 236.84 L594.64 236.78 L595.09 236.71 L595.55 236.63 L596.00 236.52 L596.45 236.40 L596.91 236.25 L597.36 236.06 L597.82 235.84 L598.27 235.58 L598.73 235.28 L599.18 234.92 L599.63 234.50 L600.09 234.01 L600.54 233.45 L601.00 232.81 L601.45 232.08 L601.90 231.25 L602.36 230.32 L602.81 229.29 L603.27 228.14 L603.72 226.87 L604.18 225.49 L604.63 223.98 L605.08 222.36 L605.54 220.61 L605.99 218.76 L606.45 216.80 L606.90 214.76 L607.36 212.63 L607.81 210.43 L608.26 208.19 L608.72 205.92 L609.17 203.65 L609.63 201.40 L610.08 199.19 L610.53 197.06 L610.99 195.02 L611.44 193.11 L611.90 191.36 L612.35 189.77 L612.80 188.39 L613.26 187.22 L613.71 186.29 L614.17 185.62 L614.62 185.20 L615.08 185.05 L615.53 185.17 L615.98 185.56 L616.44 186.21 L616.89 187.11 L617.35 188.25 L617.80 189.62 L618.25 191.18 L618.71 192.92 L619.16 194.81 L619.62 196.84 L620.07 198.96 L620.53 201.16 L620.98 203.41 L621.43 205.68 L621.89 207.95 L622.34 210.19 L622.80 212.39 L623.25 214.53 L623.70 216.59 L624.16 218.56 L624.61 220.42 L625.07 222.18 L625.52 223.81 L625.98 225.33 L626.43 226.73 L626.88 228.01 L627.34 229.17 L627.79 230.22 L628.25 231.16 L628.70 231.99 L629.15 232.73 L629.61 233.38 L630.06 233.95 L630.52 234.45 L630.97 234.87 L631.43 235.24 L631.88 235.55 L632.33 235.82 L632.79 236.04 L633.24 236.23 L633.70 236.38 L634.15 236.51 L634.61 236.62 L635.06 236.71 L635.51 236.78 L635.97 236.83 L636.42 236.88 L636.88 236.92 L637.33 236.95 L637.78 236.97 L638.24 236.99 L638.69 237.00 L639.15 237.01 L639.60 237.02 L640.05 237.03 L640.51 237.03 L640.96 237.04 L641.42 237.04 L641.87 237.04 L642.33 237.05 L642.78 237.05" fill="none" stroke="#000000" stroke-width="0.72" opacity="0.4"/><path d="M588.28 237.04 L588.73 237.04 L589.19 237.04 L589.64 237.03 L590.10 237.03 L590.55 237.02 L591.00 237.01 L591.46 237.00 L591.91 236.99 L592.37 236.97 L592.82 236.94 L593.28 236.91 L593.73 236.88 L594.18 236.83 L594.64 236.77 L595.09 236.70 L595.55 236.61 L596.00 236.50 L596.45 236.37 L596.91 236.21 L597.36 236.02 L597.82 235.79 L598.27 235.52 L598.73 235.20 L599.18 234.83 L599.63 234.39 L600.09 233.89 L600.54 233.31 L601.00 232.65 L601.45 231.90 L601.90 231.05 L602.36 230.10 L602.81 229.04 L603.27 227.87 L603.72 226.58 L604.18 225.16 L604.63 223.63 L605.08 221.98 L605.54 220.21 L605.99 218.34 L606.45 216.36 L606.90 214.29 L607.36 212.15 L607.81 209.94 L608.26 207.69 L608.72 205.42 L609.17 203.15 L609.63 200.91 L610.08 198.71 L610.53 196.60 L610.99 194.59 L611.44 192.71 L611.90 190.99 L612.35 189.45 L612.80 188.11 L613.26 186.99 L613.71 186.12 L614.17 185.50 L614.62 185.14 L615.08 185.05 L615.53 185.23 L615.98 185.68 L616.44 186.38 L616.89 187.34 L617.35 188.53 L617.80 189.94 L618.25 191.54 L618.71 193.32 L619.16 195.25 L619.62 197.30 L620.07 199.44 L620.53 201.65 L620.98 203.91 L621.43 206.18 L621.89 208.45 L622.34 210.68 L622.80 212.87 L623.25 214.99 L623.70 217.03 L624.16 218.98 L624.61 220.82 L625.07 222.55 L625.52 224.16 L625.98 225.65 L626.43 227.02 L626.88 228.27 L627.34 229.41 L627.79 230.43 L628.25 231.35 L628.70 232.16 L629.15 232.88 L629.61 233.52 L630.06 234.07 L630.52 234.55 L630.97 234.96 L631.43 235.31 L631.88 235.61 L632.33 235.87 L632.79 236.08 L633.24 236.26 L633.70 236.41 L634.15 236.54 L634.61 236.64 L635.06 236.72 L635.51 236.79 L635.97 236.85 L636.42 236.89 L636.88 236.92 L637.33 236.95 L637.78 236.97 L638.24 236.99 L638.69 237.01 L639.15 237.02 L639.60 237.02 L640.05 237.03 L640.51 237.04 L640.96 237.04 L641.42 237.04 L641.87 237.04 L642.33 237.05 L642.78 237.05" fill="none" stroke="#e03424" stroke-width="0.72" opacity="0.85"/><path d="M588.28 236.99 L588.73 236.97 L589.19 236.94 L589.64 236.91 L590.10 236.87 L590.55 236.82 L591.00 236.76 L591.46 236.69 L591.91 236.59 L592.37 236.48 L592.82 236.34 L593.28 236.18 L593.73 235.98 L594.18 235.74 L594.64 235.45 L595.09 235.12 L595.55 234.72 L596.00 234.26 L596.45 233.73 L596.91 233.12 L597.36 232.42 L597.82 231.63 L598.27 230.73 L598.73 229.72 L599.18 228.60 L599.63 227.36 L600.09 226.00 L600.54 224.51 L601.00 222.90 L601.45 221.17 L601.90 219.32 L602.36 217.36 L602.81 215.30 L603.27 213.16 L603.72 210.94 L604.18 208.68 L604.63 206.37 L605.08 204.07 L605.54 201.77 L605.99 199.52 L606.45 197.34 L606.90 195.26 L607.36 193.30 L607.81 191.50 L608.26 189.88 L608.72 188.46 L609.17 187.26 L609.63 186.31 L610.08 185.62 L610.53 185.20 L610.99 185.05 L611.44 185.18 L611.90 185.59 L612.35 186.27 L612.80 187.21 L613.26 188.39 L613.71 189.80 L614.17 191.41 L614.62 193.21 L615.08 195.16 L615.53 197.23 L615.98 199.41 L616.44 201.66 L616.89 203.95 L617.35 206.26 L617.80 208.56 L618.25 210.83 L618.71 213.05 L619.16 215.19 L619.62 217.26 L620.07 219.22 L620.53 221.08 L620.98 222.81 L621.43 224.43 L621.89 225.93 L622.34 227.29 L622.80 228.54 L623.25 229.67 L623.70 230.68 L624.16 231.58 L624.61 232.38 L625.07 233.09 L625.52 233.70 L625.98 234.24 L626.43 234.70 L626.88 235.10 L627.34 235.44 L627.79 235.72 L628.25 235.96 L628.70 236.17 L629.15 236.34 L629.61 236.47 L630.06 236.59 L630.52 236.68 L630.97 236.76 L631.43 236.82 L631.88 236.87 L632.33 236.91 L632.79 236.94 L633.24 236.97 L633.70 236.99 L634.15 237.00 L634.61 237.01 L635.06 237.02 L635.51 237.03 L635.97 237.03 L636.42 237.04 L636.88 237.04 L637.33 237.04 L637.78 237.05 L638.24 237.05 L638.69 237.05 L639.15 237.05 L639.60 237.05 L640.05 237.05 L640.51 237.05 L640.96 237.05 L641.42 237.05 L641.87 237.05 L642.33 237.05 L642.78 237.05" fill="none" stroke="#006fed" stroke-width="0.72" opacity="0.8"/><path d="M646.84 296.30 L647.29 296.29 L647.75 296.29 L648.20 296.29 L648.66 296.29 L649.11 296.28 L649.57 296.28 L650.02 296.27 L650.47 296.26 L650.93 296.25 L651.38 296.23 L651.84 296.21 L652.29 296.18 L652.74 296.15 L653.20 296.11 L653.65 296.06 L654.11 296.00 L654.56 295.93 L655.01 295.84 L655.47 295.73 L655.92 295.60 L656.38 295.44 L656.83 295.25 L657.29 295.03 L657.74 294.77 L658.19 294.46 L658.65 294.10 L659.10 293.69 L659.56 293.21 L660.01 292.66 L660.47 292.03 L660.92 291.32 L661.37 290.52 L661.83 289.63 L662.28 288.63 L662.74 287.53 L663.19 286.32 L663.64 285.00 L664.10 283.56 L664.55 282.01 L665.01 280.35 L665.46 278.59 L665.92 276.72 L666.37 274.76 L666.82 272.73 L667.28 270.63 L667.73 268.47 L668.19 266.28 L668.64 264.08 L669.09 261.89 L669.55 259.72 L670.00 257.61 L670.46 255.57 L670.91 253.64 L671.37 251.83 L671.82 250.17 L672.27 248.68 L672.73 247.38 L673.18 246.30 L673.64 245.43 L674.09 244.81 L674.54 244.43 L675.00 244.30 L675.45 244.43 L675.91 244.80 L676.36 245.43 L676.82 246.29 L677.27 247.37 L677.72 248.67 L678.18 250.16 L678.63 251.81 L679.09 253.62 L679.54 255.56 L679.99 257.59 L680.45 259.70 L680.90 261.87 L681.36 264.07 L681.81 266.27 L682.26 268.46 L682.72 270.61 L683.17 272.71 L683.63 274.75 L684.08 276.71 L684.54 278.57 L684.99 280.34 L685.44 282.00 L685.90 283.55 L686.35 284.99 L686.81 286.31 L687.26 287.52 L687.72 288.62 L688.17 289.62 L688.62 290.52 L689.08 291.32 L689.53 292.03 L689.99 292.65 L690.44 293.20 L690.89 293.68 L691.35 294.10 L691.80 294.46 L692.26 294.77 L692.71 295.03 L693.17 295.25 L693.62 295.44 L694.07 295.60 L694.53 295.73 L694.98 295.84 L695.44 295.93 L695.89 296.00 L696.34 296.06 L696.80 296.11 L697.25 296.15 L697.71 296.18 L698.16 296.21 L698.62 296.23 L699.07 296.25 L699.52 296.26 L699.98 296.27 L700.43 296.28 L700.89 296.28 L701.34 296.29" fill="none" stroke="#000000" stroke-width="0.72" opacity="0.4"/><path d="M646.84 296.30 L647.29 296.30 L647.75 296.29 L648.20 296.29 L648.66 296.29 L649.11 296.28 L649.57 296.28 L650.02 296.27 L650.47 296.26 L650.93 296.25 L651.38 296.24 L651.84 296.22 L652.29 296.20 L652.74 296.17 L653.20 296.14 L653.65 296.10 L654.11 296.04 L654.56 295.98 L655.01 295.90 L655.47 295.80 L655.92 295.69 L656.38 295.55 L656.83 295.38 L657.29 295.18 L657.74 294.95 L658.19 294.67 L658.65 294.35 L659.10 293.97 L659.56 293.53 L660.01 293.03 L660.47 292.45 L660.92 291.80 L661.37 291.06 L661.83 290.23 L662.28 289.30 L662.74 288.27 L663.19 287.13 L663.64 285.88 L664.10 284.52 L664.55 283.04 L665.01 281.46 L665.46 279.76 L665.92 277.96 L666.37 276.06 L666.82 274.08 L667.28 272.02 L667.73 269.89 L668.19 267.72 L668.64 265.53 L669.09 263.32 L669.55 261.14 L670.00 258.98 L670.46 256.89 L670.91 254.89 L671.37 252.99 L671.82 251.23 L672.27 249.63 L672.73 248.20 L673.18 246.98 L673.64 245.96 L674.09 245.18 L674.54 244.64 L675.00 244.34 L675.45 244.30 L675.91 244.51 L676.36 244.97 L676.82 245.68 L677.27 246.62 L677.72 247.78 L678.18 249.14 L678.63 250.69 L679.09 252.40 L679.54 254.25 L679.99 256.23 L680.45 258.29 L680.90 260.42 L681.36 262.60 L681.81 264.80 L682.26 267.00 L682.72 269.18 L683.17 271.32 L683.63 273.41 L684.08 275.42 L684.54 277.35 L684.99 279.18 L685.44 280.91 L685.90 282.53 L686.35 284.05 L686.81 285.45 L687.26 286.73 L687.72 287.91 L688.17 288.97 L688.62 289.94 L689.08 290.80 L689.53 291.57 L689.99 292.25 L690.44 292.85 L690.89 293.37 L691.35 293.83 L691.80 294.23 L692.26 294.57 L692.71 294.86 L693.17 295.11 L693.62 295.32 L694.07 295.50 L694.53 295.65 L694.98 295.77 L695.44 295.87 L695.89 295.96 L696.34 296.02 L696.80 296.08 L697.25 296.13 L697.71 296.16 L698.16 296.19 L698.62 296.22 L699.07 296.24 L699.52 296.25 L699.98 296.26 L700.43 296.27 L700.89 296.28 L701.34 296.28" fill="none" stroke="#e03424" stroke-width="0.72" opacity="0.85"/><path d="M646.84 296.30 L647.29 296.30 L647.75 296.30 L648.20 296.30 L648.66 296.29 L649.11 296.29 L649.57 296.29 L650.02 296.28 L650.47 296.28 L650.93 296.27 L651.38 296.26 L651.84 296.25 L652.29 296.24 L652.74 296.22 L653.20 296.20 L653.65 296.17 L654.11 296.14 L654.56 296.10 L655.01 296.04 L655.47 295.98 L655.92 295.90 L656.38 295.80 L656.83 295.69 L657.29 295.55 L657.74 295.38 L658.19 295.18 L658.65 294.94 L659.10 294.66 L659.56 294.34 L660.01 293.96 L660.47 293.52 L660.92 293.02 L661.37 292.44 L661.83 291.79 L662.28 291.05 L662.74 290.21 L663.19 289.28 L663.64 288.25 L664.10 287.11 L664.55 285.86 L665.01 284.49 L665.46 283.01 L665.92 281.42 L666.37 279.73 L666.82 277.92 L667.28 276.02 L667.73 274.04 L668.19 271.98 L668.64 269.85 L669.09 267.68 L669.55 265.49 L670.00 263.28 L670.46 261.10 L670.91 258.94 L671.37 256.86 L671.82 254.85 L672.27 252.96 L672.73 251.20 L673.18 249.60 L673.64 248.18 L674.09 246.95 L674.54 245.94 L675.00 245.17 L675.45 244.63 L675.91 244.34 L676.36 244.30 L676.82 244.52 L677.27 244.98 L677.72 245.69 L678.18 246.64 L678.63 247.80 L679.09 249.17 L679.54 250.72 L679.99 252.43 L680.45 254.29 L680.90 256.26 L681.36 258.33 L681.81 260.46 L682.26 262.64 L682.72 264.84 L683.17 267.04 L683.63 269.22 L684.08 271.36 L684.54 273.44 L684.99 275.45 L685.44 277.38 L685.90 279.21 L686.35 280.94 L686.81 282.56 L687.26 284.07 L687.72 285.47 L688.17 286.75 L688.62 287.93 L689.08 288.99 L689.53 289.95 L689.99 290.81 L690.44 291.58 L690.89 292.26 L691.35 292.86 L691.80 293.38 L692.26 293.84 L692.71 294.23 L693.17 294.57 L693.62 294.87 L694.07 295.11 L694.53 295.32 L694.98 295.50 L695.44 295.65 L695.89 295.77 L696.34 295.87 L696.80 295.96 L697.25 296.03 L697.71 296.08 L698.16 296.13 L698.62 296.16 L699.07 296.19 L699.52 296.22 L699.98 296.24 L700.43 296.25 L700.89 296.26 L701.34 296.27" fill="none" stroke="#006fed" stroke-width="0.72" opacity="0.8"/><path d="M705.40 355.55 L705.85 355.55 L706.31 355.55 L706.76 355.55 L707.22 355.55 L707.67 355.55 L708.13 355.55 L708.58 355.55 L709.03 355.55 L709.49 355.55 L709.94 355.55 L710.40 355.55 L710.85 355.55 L711.30 355.55 L711.76 355.55 L712.21 355.55 L712.67 355.55 L713.12 355.55 L713.58 355.55 L714.03 355.54 L714.48 355.54 L714.94 355.54 L715.39 355.54 L715.85 355.53 L716.30 355.52 L716.75 355.51 L717.21 355.50 L717.66 355.48 L718.12 355.45 L718.57 355.41 L719.03 355.37 L719.48 355.31 L719.93 355.24 L720.39 355.14 L720.84 355.02 L721.30 354.87 L721.75 354.68 L722.20 354.45 L722.66 354.17 L723.11 353.82 L723.57 353.40 L724.02 352.90 L724.48 352.31 L724.93 351.62 L725.38 350.81 L725.84 349.87 L726.29 348.79 L726.75 347.57 L727.20 346.19 L727.65 344.65 L728.11 342.95 L728.56 341.08 L729.02 339.06 L729.47 336.88 L729.93 334.57 L730.38 332.13 L730.83 329.60 L731.29 326.99 L731.74 324.35 L732.20 321.70 L732.65 319.09 L733.10 316.55 L733.56 314.13 L734.01 311.86 L734.47 309.80 L734.92 307.98 L735.38 306.44 L735.83 305.20 L736.28 304.29 L736.74 303.74 L737.19 303.55 L737.65 303.73 L738.10 304.27 L738.55 305.16 L739.01 306.39 L739.46 307.92 L739.92 309.73 L740.37 311.78 L740.83 314.04 L741.28 316.46 L741.73 318.99 L742.19 321.61 L742.64 324.25 L743.10 326.90 L743.55 329.50 L744.00 332.04 L744.46 334.48 L744.91 336.80 L745.37 338.98 L745.82 341.01 L746.28 342.88 L746.73 344.59 L747.18 346.14 L747.64 347.52 L748.09 348.75 L748.55 349.83 L749.00 350.77 L749.45 351.59 L749.91 352.29 L750.36 352.88 L750.82 353.39 L751.27 353.81 L751.73 354.15 L752.18 354.44 L752.63 354.67 L753.09 354.86 L753.54 355.02 L754.00 355.14 L754.45 355.23 L754.90 355.31 L755.36 355.37 L755.81 355.41 L756.27 355.45 L756.72 355.47 L757.18 355.49 L757.63 355.51 L758.08 355.52 L758.54 355.53 L758.99 355.53 L759.45 355.54 L759.90 355.54" fill="none" stroke="#000000" stroke-width="0.72" opacity="0.4"/><path d="M705.40 355.55 L705.85 355.55 L706.31 355.55 L706.76 355.55 L707.22 355.55 L707.67 355.55 L708.13 355.55 L708.58 355.55 L709.03 355.55 L709.49 355.55 L709.94 355.55 L710.40 355.55 L710.85 355.55 L711.30 355.55 L711.76 355.55 L712.21 355.55 L712.67 355.55 L713.12 355.55 L713.58 355.55 L714.03 355.54 L714.48 355.54 L714.94 355.54 L715.39 355.53 L715.85 355.53 L716.30 355.52 L716.75 355.50 L717.21 355.49 L717.66 355.46 L718.12 355.43 L718.57 355.40 L719.03 355.35 L719.48 355.28 L719.93 355.20 L720.39 355.09 L720.84 354.96 L721.30 354.79 L721.75 354.59 L722.20 354.33 L722.66 354.02 L723.11 353.64 L723.57 353.19 L724.02 352.65 L724.48 352.02 L724.93 351.27 L725.38 350.41 L725.84 349.41 L726.29 348.27 L726.75 346.97 L727.20 345.52 L727.65 343.91 L728.11 342.14 L728.56 340.20 L729.02 338.11 L729.47 335.87 L729.93 333.49 L730.38 331.01 L730.83 328.44 L731.29 325.81 L731.74 323.16 L732.20 320.52 L732.65 317.93 L733.10 315.44 L733.56 313.08 L734.01 310.90 L734.47 308.94 L734.92 307.23 L735.38 305.82 L735.83 304.73 L736.28 303.97 L736.74 303.58 L737.19 303.55 L737.65 303.89 L738.10 304.59 L738.55 305.63 L739.01 306.99 L739.46 308.66 L739.92 310.58 L740.37 312.73 L740.83 315.06 L741.28 317.54 L741.73 320.11 L742.19 322.75 L742.64 325.40 L743.10 328.04 L743.55 330.62 L744.00 333.11 L744.46 335.50 L744.91 337.77 L745.37 339.88 L745.82 341.85 L746.28 343.65 L746.73 345.28 L747.18 346.76 L747.64 348.07 L748.09 349.24 L748.55 350.26 L749.00 351.15 L749.45 351.91 L749.91 352.56 L750.36 353.11 L750.82 353.58 L751.27 353.97 L751.73 354.29 L752.18 354.55 L752.63 354.76 L753.09 354.93 L753.54 355.07 L754.00 355.18 L754.45 355.27 L754.90 355.34 L755.36 355.39 L755.81 355.43 L756.27 355.46 L756.72 355.48 L757.18 355.50 L757.63 355.51 L758.08 355.52 L758.54 355.53 L758.99 355.54 L759.45 355.54 L759.90 355.54" fill="none" stroke="#e03424" stroke-width="0.72" opacity="0.85"/><path d="M705.40 355.55 L705.85 355.55 L706.31 355.55 L706.76 355.55 L707.22 355.55 L707.67 355.55 L708.13 355.55 L708.58 355.55 L709.03 355.55 L709.49 355.55 L709.94 355.55 L710.40 355.54 L710.85 355.54 L711.30 355.54 L711.76 355.53 L712.21 355.53 L712.67 355.52 L713.12 355.50 L713.58 355.49 L714.03 355.46 L714.48 355.43 L714.94 355.39 L715.39 355.34 L715.85 355.27 L716.30 355.19 L716.75 355.08 L717.21 354.94 L717.66 354.76 L718.12 354.54 L718.57 354.27 L719.03 353.94 L719.48 353.54 L719.93 353.06 L720.39 352.49 L720.84 351.81 L721.30 351.01 L721.75 350.08 L722.20 349.02 L722.66 347.80 L723.11 346.42 L723.57 344.88 L724.02 343.17 L724.48 341.28 L724.93 339.24 L725.38 337.03 L725.84 334.68 L726.29 332.20 L726.75 329.63 L727.20 326.97 L727.65 324.28 L728.11 321.58 L728.56 318.92 L729.02 316.34 L729.47 313.88 L729.93 311.60 L730.38 309.53 L730.83 307.71 L731.29 306.19 L731.74 304.99 L732.20 304.14 L732.65 303.65 L733.10 303.55 L733.56 303.83 L734.01 304.48 L734.47 305.49 L734.92 306.85 L735.38 308.51 L735.83 310.45 L736.28 312.62 L736.74 314.99 L737.19 317.51 L737.65 320.13 L738.10 322.81 L738.55 325.52 L739.01 328.20 L739.46 330.82 L739.92 333.35 L740.37 335.78 L740.83 338.06 L741.28 340.20 L741.73 342.17 L742.19 343.97 L742.64 345.61 L743.10 347.07 L743.55 348.38 L744.00 349.52 L744.46 350.53 L744.91 351.39 L745.37 352.13 L745.82 352.76 L746.28 353.29 L746.73 353.73 L747.18 354.10 L747.64 354.40 L748.09 354.65 L748.55 354.85 L749.00 355.00 L749.45 355.13 L749.91 355.23 L750.36 355.31 L750.82 355.37 L751.27 355.41 L751.73 355.45 L752.18 355.48 L752.63 355.50 L753.09 355.51 L753.54 355.52 L754.00 355.53 L754.45 355.54 L754.90 355.54 L755.36 355.54 L755.81 355.55 L756.27 355.55 L756.72 355.55 L757.18 355.55 L757.63 355.55 L758.08 355.55 L758.54 355.55 L758.99 355.55 L759.45 355.55 L759.90 355.55" fill="none" stroke="#006fed" stroke-width="0.72" opacity="0.8"/><text x="24.20" y="70.60" text-anchor="end" font-family="Liberation Serif" font-size="5.4" fill="#222" stroke="#222" stroke-width="0.08">0.0240</text><text x="24.20" y="84.90" text-anchor="end" font-family="Liberation Serif" font-size="5.4" fill="#222" stroke="#222" stroke-width="0.08">0.0235</text><text x="24.20" y="99.20" text-anchor="end" font-family="Liberation Serif" font-size="5.4" fill="#222" stroke="#222" stroke-width="0.08">0.0230</text><text x="24.20" y="113.50" text-anchor="end" font-family="Liberation Serif" font-size="5.4" fill="#222" stroke="#222" stroke-width="0.08">0.0225</text><text x="410.00" y="76.60" text-anchor="end" font-family="Liberation Serif" font-size="5.4" fill="#222" stroke="#222" stroke-width="0.08">0.0235</text><text x="410.00" y="94.30" text-anchor="end" font-family="Liberation Serif" font-size="5.4" fill="#222" stroke="#222" stroke-width="0.08">0.0230</text><text x="410.00" y="112.00" text-anchor="end" font-family="Liberation Serif" font-size="5.4" fill="#222" stroke="#222" stroke-width="0.08">0.0225</text><text x="24.20" y="131.00" text-anchor="end" font-family="Liberation Serif" font-size="5.4" fill="#222" stroke="#222" stroke-width="0.08">0.1125</text><text x="24.20" y="145.00" text-anchor="end" font-family="Liberation Serif" font-size="5.4" fill="#222" stroke="#222" stroke-width="0.08">0.1100</text><text x="24.20" y="159.00" text-anchor="end" font-family="Liberation Serif" font-size="5.4" fill="#222" stroke="#222" stroke-width="0.08">0.1075</text><text x="24.20" y="173.00" text-anchor="end" font-family="Liberation Serif" font-size="5.4" fill="#222" stroke="#222" stroke-width="0.08">0.1050</text><text x="410.00" y="132.60" text-anchor="end" font-family="Liberation Serif" font-size="5.4" fill="#222" stroke="#222" stroke-width="0.08">0.1125</text><text x="410.00" y="148.70" text-anchor="end" font-family="Liberation Serif" font-size="5.4" fill="#222" stroke="#222" stroke-width="0.08">0.1100</text><text x="410.00" y="164.80" text-anchor="end" font-family="Liberation Serif" font-size="5.4" fill="#222" stroke="#222" stroke-width="0.08">0.1075</text><text x="24.20" y="188.20" text-anchor="end" font-family="Liberation Serif" font-size="5.4" fill="#222" stroke="#222" stroke-width="0.08">3.3</text><text x="24.20" y="199.20" text-anchor="end" font-family="Liberation Serif" font-size="5.4" fill="#222" stroke="#222" stroke-width="0.08">3.2</text><text x="24.20" y="210.30" text-anchor="end" font-family="Liberation Serif" font-size="5.4" fill="#222" stroke="#222" stroke-width="0.08">3.1</text><text x="24.20" y="221.30" text-anchor="end" font-family="Liberation Serif" font-size="5.4" fill="#222" stroke="#222" stroke-width="0.08">3.0</text><text x="24.20" y="232.30" text-anchor="end" font-family="Liberation Serif" font-size="5.4" fill="#222" stroke="#222" stroke-width="0.08">2.9</text><text x="410.00" y="188.30" text-anchor="end" font-family="Liberation Serif" font-size="5.4" fill="#222" stroke="#222" stroke-width="0.08">3.30</text><text x="410.00" y="199.20" text-anchor="end" font-family="Liberation Serif" font-size="5.4" fill="#222" stroke="#222" stroke-width="0.08">3.24</text><text x="410.00" y="210.10" text-anchor="end" font-family="Liberation Serif" font-size="5.4" fill="#222" stroke="#222" stroke-width="0.08">3.18</text><text x="410.00" y="221.00" text-anchor="end" font-family="Liberation Serif" font-size="5.4" fill="#222" stroke="#222" stroke-width="0.08">3.12</text><text x="410.00" y="231.90" text-anchor="end" font-family="Liberation Serif" font-size="5.4" fill="#222" stroke="#222" stroke-width="0.08">3.06</text><text x="24.20" y="248.40" text-anchor="end" font-family="Liberation Serif" font-size="5.4" fill="#222" stroke="#222" stroke-width="0.08">0.00</text><text x="24.20" y="262.10" text-anchor="end" font-family="Liberation Serif" font-size="5.4" fill="#222" stroke="#222" stroke-width="0.08">−0.08</text><text x="24.20" y="275.80" text-anchor="end" font-family="Liberation Serif" font-size="5.4" fill="#222" stroke="#222" stroke-width="0.08">−0.16</text><text x="24.20" y="289.50" text-anchor="end" font-family="Liberation Serif" font-size="5.4" fill="#222" stroke="#222" stroke-width="0.08">−0.24</text><text x="410.00" y="247.60" text-anchor="end" font-family="Liberation Serif" font-size="5.4" fill="#222" stroke="#222" stroke-width="0.08">−0.003</text><text x="410.00" y="258.70" text-anchor="end" font-family="Liberation Serif" font-size="5.4" fill="#222" stroke="#222" stroke-width="0.08">−0.006</text><text x="410.00" y="269.80" text-anchor="end" font-family="Liberation Serif" font-size="5.4" fill="#222" stroke="#222" stroke-width="0.08">−0.009</text><text x="410.00" y="280.90" text-anchor="end" font-family="Liberation Serif" font-size="5.4" fill="#222" stroke="#222" stroke-width="0.08">−0.012</text><text x="410.00" y="292.00" text-anchor="end" font-family="Liberation Serif" font-size="5.4" fill="#222" stroke="#222" stroke-width="0.08">−0.015</text><text x="24.20" y="307.20" text-anchor="end" font-family="Liberation Serif" font-size="5.4" fill="#222" stroke="#222" stroke-width="0.08">0.20</text><text x="24.20" y="317.55" text-anchor="end" font-family="Liberation Serif" font-size="5.4" fill="#222" stroke="#222" stroke-width="0.08">0.16</text><text x="24.20" y="327.90" text-anchor="end" font-family="Liberation Serif" font-size="5.4" fill="#222" stroke="#222" stroke-width="0.08">0.12</text><text x="24.20" y="338.25" text-anchor="end" font-family="Liberation Serif" font-size="5.4" fill="#222" stroke="#222" stroke-width="0.08">0.08</text><text x="24.20" y="348.60" text-anchor="end" font-family="Liberation Serif" font-size="5.4" fill="#222" stroke="#222" stroke-width="0.08">0.04</text><text x="410.00" y="306.60" text-anchor="end" font-family="Liberation Serif" font-size="5.4" fill="#222" stroke="#222" stroke-width="0.08">0.18</text><text x="410.00" y="317.70" text-anchor="end" font-family="Liberation Serif" font-size="5.4" fill="#222" stroke="#222" stroke-width="0.08">0.15</text><text x="410.00" y="328.80" text-anchor="end" font-family="Liberation Serif" font-size="5.4" fill="#222" stroke="#222" stroke-width="0.08">0.12</text><text x="410.00" y="339.90" text-anchor="end" font-family="Liberation Serif" font-size="5.4" fill="#222" stroke="#222" stroke-width="0.08">0.09</text><text x="410.00" y="351.00" text-anchor="end" font-family="Liberation Serif" font-size="5.4" fill="#222" stroke="#222" stroke-width="0.08">0.06</text><text x="34.40" y="364.65" text-anchor="middle" font-family="Liberation Serif" font-size="5.4" fill="#222" stroke="#222" stroke-width="0.08" transform="rotate(-20 34.40 362.85)">1.041</text><text x="50.50" y="364.65" text-anchor="middle" font-family="Liberation Serif" font-size="5.4" fill="#222" stroke="#222" stroke-width="0.08" transform="rotate(-20 50.50 362.85)">1.042</text><text x="66.60" y="364.65" text-anchor="middle" font-family="Liberation Serif" font-size="5.4" fill="#222" stroke="#222" stroke-width="0.08" transform="rotate(-20 66.60 362.85)">1.043</text><text x="420.20" y="364.65" text-anchor="middle" font-family="Liberation Serif" font-size="5.4" fill="#222" stroke="#222" stroke-width="0.08" transform="rotate(-20 420.20 362.85)">1.041</text><text x="436.60" y="364.65" text-anchor="middle" font-family="Liberation Serif" font-size="5.4" fill="#222" stroke="#222" stroke-width="0.08" transform="rotate(-20 436.60 362.85)">1.042</text><text x="453.00" y="364.65" text-anchor="middle" font-family="Liberation Serif" font-size="5.4" fill="#222" stroke="#222" stroke-width="0.08" transform="rotate(-20 453.00 362.85)">1.043</text><text x="92.20" y="364.65" text-anchor="middle" font-family="Liberation Serif" font-size="5.4" fill="#222" stroke="#222" stroke-width="0.08" transform="rotate(-20 92.20 362.85)">0.0225</text><text x="106.00" y="364.65" text-anchor="middle" font-family="Liberation Serif" font-size="5.4" fill="#222" stroke="#222" stroke-width="0.08" transform="rotate(-20 106.00 362.85)">0.0230</text><text x="119.80" y="364.65" text-anchor="middle" font-family="Liberation Serif" font-size="5.4" fill="#222" stroke="#222" stroke-width="0.08" transform="rotate(-20 119.80 362.85)">0.0235</text><text x="133.50" y="364.65" text-anchor="middle" font-family="Liberation Serif" font-size="5.4" fill="#222" stroke="#222" stroke-width="0.08" transform="rotate(-20 133.50 362.85)">0.0240</text><text x="479.20" y="364.65" text-anchor="middle" font-family="Liberation Serif" font-size="5.4" fill="#222" stroke="#222" stroke-width="0.08" transform="rotate(-20 479.20 362.85)">0.0225</text><text x="496.10" y="364.65" text-anchor="middle" font-family="Liberation Serif" font-size="5.4" fill="#222" stroke="#222" stroke-width="0.08" transform="rotate(-20 496.10 362.85)">0.0230</text><text x="513.00" y="364.65" text-anchor="middle" font-family="Liberation Serif" font-size="5.4" fill="#222" stroke="#222" stroke-width="0.08" transform="rotate(-20 513.00 362.85)">0.0235</text><text x="150.30" y="364.65" text-anchor="middle" font-family="Liberation Serif" font-size="5.4" fill="#222" stroke="#222" stroke-width="0.08" transform="rotate(-20 150.30 362.85)">0.1050</text><text x="163.70" y="364.65" text-anchor="middle" font-family="Liberation Serif" font-size="5.4" fill="#222" stroke="#222" stroke-width="0.08" transform="rotate(-20 163.70 362.85)">0.1075</text><text x="177.10" y="364.65" text-anchor="middle" font-family="Liberation Serif" font-size="5.4" fill="#222" stroke="#222" stroke-width="0.08" transform="rotate(-20 177.10 362.85)">0.1100</text><text x="190.50" y="364.65" text-anchor="middle" font-family="Liberation Serif" font-size="5.4" fill="#222" stroke="#222" stroke-width="0.08" transform="rotate(-20 190.50 362.85)">0.1125</text><text x="544.20" y="364.65" text-anchor="middle" font-family="Liberation Serif" font-size="5.4" fill="#222" stroke="#222" stroke-width="0.08" transform="rotate(-20 544.20 362.85)">0.1075</text><text x="559.60" y="364.65" text-anchor="middle" font-family="Liberation Serif" font-size="5.4" fill="#222" stroke="#222" stroke-width="0.08" transform="rotate(-20 559.60 362.85)">0.1100</text><text x="575.00" y="364.65" text-anchor="middle" font-family="Liberation Serif" font-size="5.4" fill="#222" stroke="#222" stroke-width="0.08" transform="rotate(-20 575.00 362.85)">0.1125</text><text x="209.10" y="364.65" text-anchor="middle" font-family="Liberation Serif" font-size="5.4" fill="#222" stroke="#222" stroke-width="0.08" transform="rotate(-20 209.10 362.85)">2.9</text><text x="219.85" y="364.65" text-anchor="middle" font-family="Liberation Serif" font-size="5.4" fill="#222" stroke="#222" stroke-width="0.08" transform="rotate(-20 219.85 362.85)">3.0</text><text x="230.60" y="364.65" text-anchor="middle" font-family="Liberation Serif" font-size="5.4" fill="#222" stroke="#222" stroke-width="0.08" transform="rotate(-20 230.60 362.85)">3.1</text><text x="241.35" y="364.65" text-anchor="middle" font-family="Liberation Serif" font-size="5.4" fill="#222" stroke="#222" stroke-width="0.08" transform="rotate(-20 241.35 362.85)">3.2</text><text x="252.10" y="364.65" text-anchor="middle" font-family="Liberation Serif" font-size="5.4" fill="#222" stroke="#222" stroke-width="0.08" transform="rotate(-20 252.10 362.85)">3.3</text><text x="594.40" y="364.65" text-anchor="middle" font-family="Liberation Serif" font-size="5.4" fill="#222" stroke="#222" stroke-width="0.08" transform="rotate(-20 594.40 362.85)">3.06</text><text x="605.10" y="364.65" text-anchor="middle" font-family="Liberation Serif" font-size="5.4" fill="#222" stroke="#222" stroke-width="0.08" transform="rotate(-20 605.10 362.85)">3.12</text><text x="615.80" y="364.65" text-anchor="middle" font-family="Liberation Serif" font-size="5.4" fill="#222" stroke="#222" stroke-width="0.08" transform="rotate(-20 615.80 362.85)">3.18</text><text x="626.45" y="364.65" text-anchor="middle" font-family="Liberation Serif" font-size="5.4" fill="#222" stroke="#222" stroke-width="0.08" transform="rotate(-20 626.45 362.85)">3.24</text><text x="637.10" y="364.65" text-anchor="middle" font-family="Liberation Serif" font-size="5.4" fill="#222" stroke="#222" stroke-width="0.08" transform="rotate(-20 637.10 362.85)">3.30</text><text x="270.20" y="364.65" text-anchor="middle" font-family="Liberation Serif" font-size="5.4" fill="#222" stroke="#222" stroke-width="0.08" transform="rotate(-20 270.20 362.85)">−0.24</text><text x="283.30" y="364.65" text-anchor="middle" font-family="Liberation Serif" font-size="5.4" fill="#222" stroke="#222" stroke-width="0.08" transform="rotate(-20 283.30 362.85)">−0.16</text><text x="296.40" y="364.65" text-anchor="middle" font-family="Liberation Serif" font-size="5.4" fill="#222" stroke="#222" stroke-width="0.08" transform="rotate(-20 296.40 362.85)">−0.08</text><text x="309.50" y="364.65" text-anchor="middle" font-family="Liberation Serif" font-size="5.4" fill="#222" stroke="#222" stroke-width="0.08" transform="rotate(-20 309.50 362.85)">0.00</text><text x="652.40" y="364.65" text-anchor="middle" font-family="Liberation Serif" font-size="5.4" fill="#222" stroke="#222" stroke-width="0.08" transform="rotate(-20 652.40 362.85)">−0.015</text><text x="663.15" y="364.65" text-anchor="middle" font-family="Liberation Serif" font-size="5.4" fill="#222" stroke="#222" stroke-width="0.08" transform="rotate(-20 663.15 362.85)">−0.012</text><text x="673.90" y="364.65" text-anchor="middle" font-family="Liberation Serif" font-size="5.4" fill="#222" stroke="#222" stroke-width="0.08" transform="rotate(-20 673.90 362.85)">−0.009</text><text x="684.65" y="364.65" text-anchor="middle" font-family="Liberation Serif" font-size="5.4" fill="#222" stroke="#222" stroke-width="0.08" transform="rotate(-20 684.65 362.85)">−0.006</text><text x="695.40" y="364.65" text-anchor="middle" font-family="Liberation Serif" font-size="5.4" fill="#222" stroke="#222" stroke-width="0.08" transform="rotate(-20 695.40 362.85)">−0.003</text><text x="328.20" y="364.65" text-anchor="middle" font-family="Liberation Serif" font-size="5.4" fill="#222" stroke="#222" stroke-width="0.08" transform="rotate(-20 328.20 362.85)">0.04</text><text x="338.27" y="364.65" text-anchor="middle" font-family="Liberation Serif" font-size="5.4" fill="#222" stroke="#222" stroke-width="0.08" transform="rotate(-20 338.27 362.85)">0.08</text><text x="348.35" y="364.65" text-anchor="middle" font-family="Liberation Serif" font-size="5.4" fill="#222" stroke="#222" stroke-width="0.08" transform="rotate(-20 348.35 362.85)">0.12</text><text x="358.42" y="364.65" text-anchor="middle" font-family="Liberation Serif" font-size="5.4" fill="#222" stroke="#222" stroke-width="0.08" transform="rotate(-20 358.42 362.85)">0.16</text><text x="368.50" y="364.65" text-anchor="middle" font-family="Liberation Serif" font-size="5.4" fill="#222" stroke="#222" stroke-width="0.08" transform="rotate(-20 368.50 362.85)">0.20</text><text x="711.60" y="364.65" text-anchor="middle" font-family="Liberation Serif" font-size="5.4" fill="#222" stroke="#222" stroke-width="0.08" transform="rotate(-20 711.60 362.85)">0.06</text><text x="722.00" y="364.65" text-anchor="middle" font-family="Liberation Serif" font-size="5.4" fill="#222" stroke="#222" stroke-width="0.08" transform="rotate(-20 722.00 362.85)">0.09</text><text x="732.35" y="364.65" text-anchor="middle" font-family="Liberation Serif" font-size="5.4" fill="#222" stroke="#222" stroke-width="0.08" transform="rotate(-20 732.35 362.85)">0.12</text><text x="742.70" y="364.65" text-anchor="middle" font-family="Liberation Serif" font-size="5.4" fill="#222" stroke="#222" stroke-width="0.08" transform="rotate(-20 742.70 362.85)">0.15</text><text x="753.10" y="364.65" text-anchor="middle" font-family="Liberation Serif" font-size="5.4" fill="#222" stroke="#222" stroke-width="0.08" transform="rotate(-20 753.10 362.85)">0.18</text><text x="54.40" y="373.00" text-anchor="middle" font-family="Liberation Serif" font-size="7.0" fill="#222" stroke="#222" stroke-width="0.05">100<tspan font-style="italic">θ</tspan><tspan font-style="italic" font-size="4.9" dy="1.4">MC</tspan></text><text x="439.85" y="373.00" text-anchor="middle" font-family="Liberation Serif" font-size="7.0" fill="#222" stroke="#222" stroke-width="0.05">100<tspan font-style="italic">θ</tspan><tspan font-style="italic" font-size="4.9" dy="1.4">MC</tspan></text><text x="113.00" y="373.00" text-anchor="middle" font-family="Liberation Serif" font-size="7.0" fill="#222" stroke="#222" stroke-width="0.05">Ω<tspan font-size="4.9" dy="1.4" font-style="italic">b</tspan><tspan dy="-1.4" font-style="italic">h</tspan><tspan font-size="4.9" dy="-2.4">2</tspan></text><text x="498.41" y="373.00" text-anchor="middle" font-family="Liberation Serif" font-size="7.0" fill="#222" stroke="#222" stroke-width="0.05">Ω<tspan font-size="4.9" dy="1.4" font-style="italic">b</tspan><tspan dy="-1.4" font-style="italic">h</tspan><tspan font-size="4.9" dy="-2.4">2</tspan></text><text x="171.60" y="373.00" text-anchor="middle" font-family="Liberation Serif" font-size="7.0" fill="#222" stroke="#222" stroke-width="0.05">Ω<tspan font-size="4.9" dy="1.4" font-style="italic">c</tspan><tspan dy="-1.4" font-style="italic">h</tspan><tspan font-size="4.9" dy="-2.4">2</tspan></text><text x="556.97" y="373.00" text-anchor="middle" font-family="Liberation Serif" font-size="7.0" fill="#222" stroke="#222" stroke-width="0.05">Ω<tspan font-size="4.9" dy="1.4" font-style="italic">c</tspan><tspan dy="-1.4" font-style="italic">h</tspan><tspan font-size="4.9" dy="-2.4">2</tspan></text><text x="230.20" y="371.60" text-anchor="middle" font-family="Liberation Serif" font-size="7.0" fill="#222" stroke="#222" stroke-width="0.05">ln(10<tspan font-size="4.9" dy="-2.6">10</tspan><tspan dy="2.6" font-style="italic">A</tspan><tspan font-size="4.9" dy="1.4" font-style="italic">s</tspan><tspan dy="-1.4">)</tspan></text><text x="615.53" y="371.60" text-anchor="middle" font-family="Liberation Serif" font-size="7.0" fill="#222" stroke="#222" stroke-width="0.05">ln(10<tspan font-size="4.9" dy="-2.6">10</tspan><tspan dy="2.6" font-style="italic">A</tspan><tspan font-size="4.9" dy="1.4" font-style="italic">s</tspan><tspan dy="-1.4">)</tspan></text><text x="288.80" y="373.00" text-anchor="middle" font-family="Liberation Serif" font-size="7.0" fill="#222" stroke="#222" stroke-width="0.05">Ω<tspan font-size="4.9" dy="1.4" font-style="italic">K</tspan></text><text x="674.09" y="373.00" text-anchor="middle" font-family="Liberation Serif" font-size="7.0" fill="#222" stroke="#222" stroke-width="0.05">Ω<tspan font-size="4.9" dy="1.4" font-style="italic">K</tspan></text><text x="347.40" y="373.00" text-anchor="middle" font-family="Liberation Serif" font-size="7.0" fill="#222" stroke="#222" stroke-width="0.05"><tspan font-style="italic">τ</tspan></text><text x="732.65" y="373.00" text-anchor="middle" font-family="Liberation Serif" font-size="7.0" fill="#222" stroke="#222" stroke-width="0.05"><tspan font-style="italic">τ</tspan></text><text x="5.30" y="89.90" text-anchor="middle" font-family="Liberation Serif" font-size="7.0" fill="#222" stroke="#222" stroke-width="0.05" transform="rotate(-90 5.30 89.90)">Ω<tspan font-size="4.9" dy="1.4" font-style="italic">b</tspan><tspan dy="-1.4" font-style="italic">h</tspan><tspan font-size="4.9" dy="-2.4">2</tspan></text><text x="391.10" y="89.90" text-anchor="middle" font-family="Liberation Serif" font-size="7.0" fill="#222" stroke="#222" stroke-width="0.05" transform="rotate(-90 391.10 89.90)">Ω<tspan font-size="4.9" dy="1.4" font-style="italic">b</tspan><tspan dy="-1.4" font-style="italic">h</tspan><tspan font-size="4.9" dy="-2.4">2</tspan></text><text x="5.30" y="149.20" text-anchor="middle" font-family="Liberation Serif" font-size="7.0" fill="#222" stroke="#222" stroke-width="0.05" transform="rotate(-90 5.30 149.20)">Ω<tspan font-size="4.9" dy="1.4" font-style="italic">c</tspan><tspan dy="-1.4" font-style="italic">h</tspan><tspan font-size="4.9" dy="-2.4">2</tspan></text><text x="391.10" y="149.20" text-anchor="middle" font-family="Liberation Serif" font-size="7.0" fill="#222" stroke="#222" stroke-width="0.05" transform="rotate(-90 391.10 149.20)">Ω<tspan font-size="4.9" dy="1.4" font-style="italic">c</tspan><tspan dy="-1.4" font-style="italic">h</tspan><tspan font-size="4.9" dy="-2.4">2</tspan></text><text x="13.40" y="208.40" text-anchor="middle" font-family="Liberation Serif" font-size="7.0" fill="#222" stroke="#222" stroke-width="0.05" transform="rotate(-90 13.40 208.40)">ln(10<tspan font-size="4.9" dy="-2.6">10</tspan><tspan dy="2.6" font-style="italic">A</tspan><tspan font-size="4.9" dy="1.4" font-style="italic">s</tspan><tspan dy="-1.4">)</tspan></text><text x="396.90" y="208.40" text-anchor="middle" font-family="Liberation Serif" font-size="7.0" fill="#222" stroke="#222" stroke-width="0.05" transform="rotate(-90 396.90 208.40)">ln(10<tspan font-size="4.9" dy="-2.6">10</tspan><tspan dy="2.6" font-style="italic">A</tspan><tspan font-size="4.9" dy="1.4" font-style="italic">s</tspan><tspan dy="-1.4">)</tspan></text><text x="6.60" y="267.90" text-anchor="middle" font-family="Liberation Serif" font-size="7.0" fill="#222" stroke="#222" stroke-width="0.05" transform="rotate(-90 6.60 267.90)">Ω<tspan font-size="4.9" dy="1.4" font-style="italic">K</tspan></text><text x="389.90" y="267.90" text-anchor="middle" font-family="Liberation Serif" font-size="7.0" fill="#222" stroke="#222" stroke-width="0.05" transform="rotate(-90 389.90 267.90)">Ω<tspan font-size="4.9" dy="1.4" font-style="italic">K</tspan></text><text x="11.00" y="326.50" text-anchor="middle" font-family="Liberation Serif" font-size="7.0" fill="#222" stroke="#222" stroke-width="0.05" transform="rotate(-90 11.00 326.50)"><tspan font-style="italic">τ</tspan></text><text x="396.80" y="326.50" text-anchor="middle" font-family="Liberation Serif" font-size="7.0" fill="#222" stroke="#222" stroke-width="0.05" transform="rotate(-90 396.80 326.50)"><tspan font-style="italic">τ</tspan></text><rect x="136.3" y="3.10" width="14.8" height="5" fill="#000866" opacity="1"/><text x="157" y="8.20" font-family="Liberation Sans" font-size="7" fill="#000" stroke="#000" stroke-width="0.22">Nonflat TT+lowP</text><rect x="136.3" y="13.20" width="14.8" height="5" fill="#009966" opacity="0.85"/><text x="157" y="18.30" font-family="Liberation Sans" font-size="7" fill="#000" stroke="#000" stroke-width="0.22">Nonflat TT+lowP+<tspan font-family="Liberation Serif" font-style="italic" font-size="8.8" dx="0.7">f</tspan><tspan font-family="Liberation Serif" font-style="italic" font-size="8.8" dx="0.9">σ</tspan><tspan font-family="Liberation Serif" font-size="5.6" dy="1.4" dx="0.3">8</tspan></text><rect x="136.3" y="23.30" width="14.8" height="5" fill="#808080" opacity="0.85"/><text x="157" y="28.40" font-family="Liberation Sans" font-size="7" fill="#000" stroke="#000" stroke-width="0.22">Nonflat TT+lowP+JLA</text><rect x="136.3" y="33.40" width="14.8" height="5" fill="#e03424" opacity="0.85"/><text x="157" y="38.50" font-family="Liberation Sans" font-size="7" fill="#000" stroke="#000" stroke-width="0.22">Nonflat TT+lowP+<tspan font-family="Liberation Serif" font-style="italic" font-size="8.8">H</tspan><tspan font-family="Liberation Serif" font-size="8.8">(</tspan><tspan font-family="Liberation Serif" font-style="italic" font-size="8.8">z</tspan><tspan font-family="Liberation Serif" font-size="8.8">)</tspan></text><rect x="136.3" y="43.50" width="14.8" height="5" fill="#006fed" opacity="0.85"/><text x="157" y="48.60" font-family="Liberation Sans" font-size="7" fill="#000" stroke="#000" stroke-width="0.22">Nonflat TT+lowP+NewBAO</text><line x1="494.6" y1="5.30" x2="509" y2="5.30" stroke="#000" stroke-opacity="0.45" stroke-width="0.8"/><text x="515" y="7.80" font-family="Liberation Sans" font-size="6.9" fill="#000" stroke="#000" stroke-width="0.22">Nonflat TT+lowP+NewBAO</text><rect x="494.3" y="13.00" width="15" height="5" fill="#808080" opacity="0.85"/><text x="515" y="18.00" font-family="Liberation Sans" font-size="6.9" fill="#000" stroke="#000" stroke-width="0.22">Nonflat TT+lowP+NewBAO+<tspan font-family="Liberation Serif" font-style="italic" font-size="8.8" dx="0.7">f</tspan><tspan font-family="Liberation Serif" font-style="italic" font-size="8.8" dx="0.9">σ</tspan><tspan font-family="Liberation Serif" font-size="5.6" dy="1.4" dx="0.3">8</tspan></text><rect x="494.3" y="23.50" width="15" height="5" fill="#e03424" opacity="0.85"/><text x="515" y="28.50" font-family="Liberation Sans" font-size="6.9" fill="#000" stroke="#000" stroke-width="0.22">Nonflat TT+lowP+NewBAO+JLA+<tspan font-family="Liberation Serif" font-style="italic" font-size="8.8">H</tspan><tspan font-family="Liberation Serif" font-size="8.8">(</tspan><tspan font-family="Liberation Serif" font-style="italic" font-size="8.8">z</tspan><tspan font-family="Liberation Serif" font-size="8.8">)</tspan></text><rect x="494.3" y="34.30" width="15" height="5" fill="#006fed" opacity="0.85"/><text x="515" y="39.30" font-family="Liberation Sans" font-size="6.9" fill="#000" stroke="#000" stroke-width="0.22">Nonflat TT+lowP+NewBAO+JLA+<tspan font-family="Liberation Serif" font-style="italic" font-size="8.8">H</tspan><tspan font-family="Liberation Serif" font-size="8.8">(</tspan><tspan font-family="Liberation Serif" font-style="italic" font-size="8.8">z</tspan><tspan font-family="Liberation Serif" font-size="8.8">)</tspan><tspan dx="1.0">+</tspan><tspan dx="1.0"></tspan><tspan font-family="Liberation Serif" font-style="italic" font-size="8.8" dx="0.7">f</tspan><tspan font-family="Liberation Serif" font-style="italic" font-size="8.8" dx="0.9">σ</tspan><tspan font-family="Liberation Serif" font-size="5.6" dy="1.4" dx="0.3">8</tspan></text>
</svg></body></html>
